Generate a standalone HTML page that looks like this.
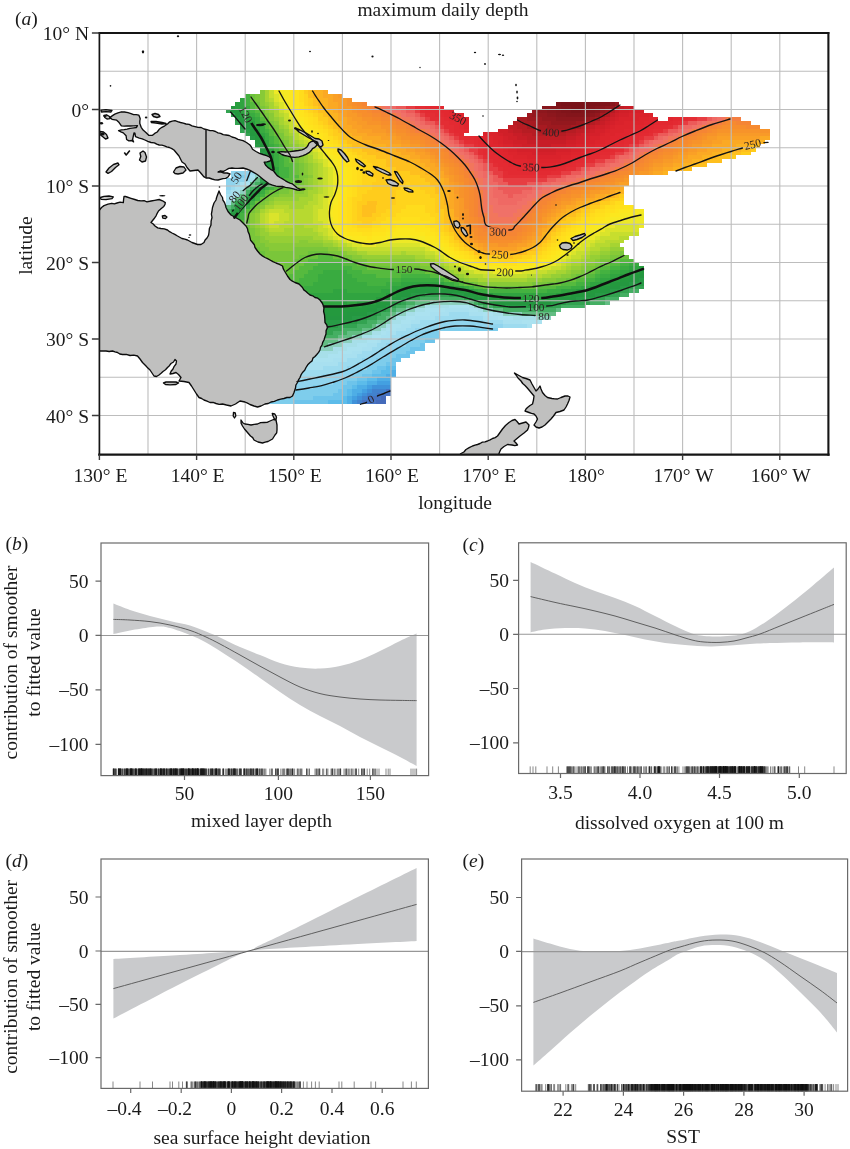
<!DOCTYPE html>
<html lang="en"><head><meta charset="utf-8"><title>maximum daily depth</title>
<style>html,body{margin:0;padding:0;background:#fff}svg{display:block}</style></head>
<body><svg width="850" height="1149" viewBox="0 0 850 1149">
<rect width="850" height="1149" fill="#fff"/>
<g id="map">
<g shape-rendering="crispEdges">
<path fill="#446aba" d="M381.2,396.3h4.96v3.93h-4.96zM376.4,400.2h9.82v3.93h-9.82z"/>
<path fill="#4673c3" d="M386.1,388.7h4.96v3.93h-4.96zM376.4,392.5h14.68v3.93h-14.68zM366.7,396.3h14.68v3.93h-14.68zM361.8,400.2h14.68v3.93h-14.68z"/>
<path fill="#4182ce" d="M371.5,388.7h14.68v3.93h-14.68zM366.7,392.5h9.82v3.93h-9.82zM361.8,396.3h4.96v3.93h-4.96zM356.9,400.2h4.96v3.93h-4.96z"/>
<path fill="#3f91d9" d="M371.5,384.9h19.54v3.93h-19.54zM366.7,388.7h4.96v3.93h-4.96zM361.8,392.5h4.96v3.93h-4.96zM356.9,396.3h4.96v3.93h-4.96zM352.1,400.2h4.96v3.93h-4.96z"/>
<path fill="#43a0e1" d="M376.4,381h14.68v3.93h-14.68zM366.7,384.9h4.96v3.93h-4.96zM361.8,388.7h4.96v3.93h-4.96zM356.9,392.5h4.96v3.93h-4.96zM352.1,396.3h4.96v3.93h-4.96z"/>
<path fill="#4eaee6" d="M390.9,369.6h4.96v3.93h-4.96zM386.1,373.4h9.82v3.93h-9.82zM376.4,377.2h14.68v3.93h-14.68zM366.7,381h9.82v3.93h-9.82zM356.9,384.9h9.82v3.93h-9.82zM352.1,388.7h9.82v3.93h-9.82zM352.1,392.5h4.96v3.93h-4.96zM347.2,396.3h4.96v3.93h-4.96zM347.2,400.2h4.96v3.93h-4.96z"/>
<path fill="#5cbcea" d="M386.1,365.7h9.82v3.93h-9.82zM381.2,369.6h9.82v3.93h-9.82zM371.5,373.4h14.68v3.93h-14.68zM366.7,377.2h9.82v3.93h-9.82zM356.9,381h9.82v3.93h-9.82zM352.1,384.9h4.96v3.93h-4.96zM347.2,388.7h4.96v3.93h-4.96zM347.2,392.5h4.96v3.93h-4.96zM342.4,396.3h4.96v3.93h-4.96zM327.8,400.2h19.54v3.93h-19.54z"/>
<path fill="#6dc4eb" d="M425,338.9h9.82v3.93h-9.82zM420.1,342.8h4.96v3.93h-4.96zM410.4,346.6h14.68v3.93h-14.68zM405.5,350.4h9.82v3.93h-9.82zM395.8,354.2h14.68v3.93h-14.68zM390.9,358.1h9.82v3.93h-9.82zM386.1,361.9h9.82v3.93h-9.82zM376.4,365.7h9.82v3.93h-9.82zM371.5,369.6h9.82v3.93h-9.82zM361.8,373.4h9.82v3.93h-9.82zM356.9,377.2h9.82v3.93h-9.82zM347.2,381h9.82v3.93h-9.82zM342.4,384.9h9.82v3.93h-9.82zM337.5,388.7h9.82v3.93h-9.82zM332.6,392.5h14.68v3.93h-14.68zM313.2,396.3h29.26v3.93h-29.26zM293.8,400.2h34.12v3.93h-34.12z"/>
<path fill="#7ecdec" d="M240.3,174.5h4.96v3.93h-4.96zM439.6,327.5h58.42v3.93h-58.42zM425,331.3h14.68v3.93h-14.68zM415.3,335.1h24.40v3.93h-24.40zM410.4,338.9h14.68v3.93h-14.68zM405.5,342.8h14.68v3.93h-14.68zM395.8,346.6h14.68v3.93h-14.68zM390.9,350.4h14.68v3.93h-14.68zM386.1,354.2h9.82v3.93h-9.82zM376.4,358.1h14.68v3.93h-14.68zM371.5,361.9h14.68v3.93h-14.68zM366.7,365.7h9.82v3.93h-9.82zM356.9,369.6h14.68v3.93h-14.68zM352.1,373.4h9.82v3.93h-9.82zM342.4,377.2h14.68v3.93h-14.68zM332.6,381h14.68v3.93h-14.68zM313.2,384.9h29.26v3.93h-29.26zM293.8,388.7h43.84v3.93h-43.84zM284,392.5h48.70v3.93h-48.70zM274.3,396.3h38.98v3.93h-38.98zM264.6,400.2h29.26v3.93h-29.26z"/>
<path fill="#90d4ee" d="M230.6,170.7h19.54v3.93h-19.54zM230.6,174.5h9.82v3.93h-9.82zM245.2,174.5h4.96v3.93h-4.96zM225.7,178.3h19.54v3.93h-19.54zM225.7,182.1h9.82v3.93h-9.82zM225.7,185.9h4.96v3.93h-4.96zM439.6,319.8h43.84v3.93h-43.84zM429.8,323.6h73.00v3.93h-73.00zM415.3,327.5h24.40v3.93h-24.40zM410.4,331.3h14.68v3.93h-14.68zM400.7,335.1h14.68v3.93h-14.68zM395.8,338.9h14.68v3.93h-14.68zM386.1,342.8h19.54v3.93h-19.54zM381.2,346.6h14.68v3.93h-14.68zM376.4,350.4h14.68v3.93h-14.68zM371.5,354.2h14.68v3.93h-14.68zM361.8,358.1h14.68v3.93h-14.68zM356.9,361.9h14.68v3.93h-14.68zM347.2,365.7h19.54v3.93h-19.54zM337.5,369.6h19.54v3.93h-19.54zM322.9,373.4h29.26v3.93h-29.26zM303.5,377.2h38.98v3.93h-38.98zM284,381h48.70v3.93h-48.70zM284,384.9h29.26v3.93h-29.26zM284,388.7h9.82v3.93h-9.82z"/>
<path fill="#9ddbef" d="M250,166.8h4.96v3.93h-4.96zM250,170.7h4.96v3.93h-4.96zM245.2,178.3h4.96v3.93h-4.96zM235.4,182.1h4.96v3.93h-4.96zM230.6,185.9h4.96v3.93h-4.96zM225.7,189.8h4.96v3.93h-4.96zM449.3,312.2h19.54v3.93h-19.54zM434.7,316h48.70v3.93h-48.70zM420.1,319.8h19.54v3.93h-19.54zM483.3,319.8h19.54v3.93h-19.54zM410.4,323.6h19.54v3.93h-19.54zM502.7,323.6h24.40v3.93h-24.40zM405.5,327.5h9.82v3.93h-9.82zM395.8,331.3h14.68v3.93h-14.68zM390.9,335.1h9.82v3.93h-9.82zM381.2,338.9h14.68v3.93h-14.68zM376.4,342.8h9.82v3.93h-9.82zM371.5,346.6h9.82v3.93h-9.82zM361.8,350.4h14.68v3.93h-14.68zM356.9,354.2h14.68v3.93h-14.68zM347.2,358.1h14.68v3.93h-14.68zM337.5,361.9h19.54v3.93h-19.54zM322.9,365.7h24.40v3.93h-24.40zM298.6,369.6h38.98v3.93h-38.98zM284,373.4h38.98v3.93h-38.98zM284,377.2h19.54v3.93h-19.54z"/>
<path fill="#a8e0f0" d="M250,174.5h4.96v3.93h-4.96zM240.3,182.1h4.96v3.93h-4.96zM235.4,185.9h4.96v3.93h-4.96zM230.6,189.8h4.96v3.93h-4.96zM225.7,193.6h4.96v3.93h-4.96zM444.4,308.4h24.40v3.93h-24.40zM429.8,312.2h19.54v3.93h-19.54zM468.7,312.2h14.68v3.93h-14.68zM415.3,316h19.54v3.93h-19.54zM483.3,316h14.68v3.93h-14.68zM410.4,319.8h9.82v3.93h-9.82zM502.7,319.8h19.54v3.93h-19.54zM400.7,323.6h9.82v3.93h-9.82zM527,323.6h4.96v3.93h-4.96zM395.8,327.5h9.82v3.93h-9.82zM386.1,331.3h9.82v3.93h-9.82zM381.2,335.1h9.82v3.93h-9.82zM376.4,338.9h4.96v3.93h-4.96zM366.7,342.8h9.82v3.93h-9.82zM361.8,346.6h9.82v3.93h-9.82zM352.1,350.4h9.82v3.93h-9.82zM342.4,354.2h14.68v3.93h-14.68zM332.6,358.1h14.68v3.93h-14.68zM303.5,361.9h34.12v3.93h-34.12zM284,365.7h38.98v3.93h-38.98zM284,369.6h14.68v3.93h-14.68z"/>
<path fill="#abe2f0" d="M245.2,182.1h4.96v3.93h-4.96zM230.6,193.6h4.96v3.93h-4.96zM225.7,197.4h4.96v3.93h-4.96zM449.3,304.5h19.54v3.93h-19.54zM425,308.4h19.54v3.93h-19.54zM468.7,308.4h9.82v3.93h-9.82zM415.3,312.2h14.68v3.93h-14.68zM483.3,312.2h9.82v3.93h-9.82zM405.5,316h9.82v3.93h-9.82zM497.9,316h14.68v3.93h-14.68zM400.7,319.8h9.82v3.93h-9.82zM522.2,319.8h19.54v3.93h-19.54zM390.9,323.6h9.82v3.93h-9.82zM386.1,327.5h9.82v3.93h-9.82zM381.2,331.3h4.96v3.93h-4.96zM371.5,335.1h9.82v3.93h-9.82zM366.7,338.9h9.82v3.93h-9.82zM356.9,342.8h9.82v3.93h-9.82zM347.2,346.6h14.68v3.93h-14.68zM337.5,350.4h14.68v3.93h-14.68zM327.8,354.2h14.68v3.93h-14.68zM284,358.1h48.70v3.93h-48.70zM284,361.9h19.54v3.93h-19.54z"/>
<path fill="#a7dfe9" d="M254.9,163h4.96v3.93h-4.96zM254.9,166.8h4.96v3.93h-4.96zM254.9,170.7h4.96v3.93h-4.96zM250,178.3h4.96v3.93h-4.96zM240.3,185.9h4.96v3.93h-4.96zM235.4,189.8h4.96v3.93h-4.96zM235.4,193.6h4.96v3.93h-4.96zM230.6,197.4h4.96v3.93h-4.96zM225.7,201.2h4.96v3.93h-4.96zM425,304.5h24.40v3.93h-24.40zM468.7,304.5h4.96v3.93h-4.96zM415.3,308.4h9.82v3.93h-9.82zM478.4,308.4h4.96v3.93h-4.96zM405.5,312.2h9.82v3.93h-9.82zM493,312.2h9.82v3.93h-9.82zM395.8,316h9.82v3.93h-9.82zM512.5,316h24.40v3.93h-24.40zM390.9,319.8h9.82v3.93h-9.82zM386.1,323.6h4.96v3.93h-4.96zM381.2,327.5h4.96v3.93h-4.96zM371.5,331.3h9.82v3.93h-9.82zM361.8,335.1h9.82v3.93h-9.82zM352.1,338.9h14.68v3.93h-14.68zM342.4,342.8h14.68v3.93h-14.68zM332.6,346.6h14.68v3.93h-14.68zM288.9,350.4h48.70v3.93h-48.70zM284,354.2h43.84v3.93h-43.84z"/>
<path fill="#8cd0be" d="M254.9,174.5h4.96v3.93h-4.96zM240.3,189.8h4.96v3.93h-4.96zM429.8,300.7h38.98v3.93h-38.98zM415.3,304.5h9.82v3.93h-9.82zM473.6,304.5h4.96v3.93h-4.96zM405.5,308.4h9.82v3.93h-9.82zM483.3,308.4h9.82v3.93h-9.82zM395.8,312.2h9.82v3.93h-9.82zM502.7,312.2h19.54v3.93h-19.54zM390.9,316h4.96v3.93h-4.96zM536.8,316h14.68v3.93h-14.68zM386.1,319.8h4.96v3.93h-4.96zM376.4,323.6h9.82v3.93h-9.82zM371.5,327.5h9.82v3.93h-9.82zM361.8,331.3h9.82v3.93h-9.82zM352.1,335.1h9.82v3.93h-9.82zM337.5,338.9h14.68v3.93h-14.68zM293.8,342.8h19.54v3.93h-19.54zM327.8,342.8h14.68v3.93h-14.68zM284,346.6h48.70v3.93h-48.70zM284,350.4h4.96v3.93h-4.96z"/>
<path fill="#63bd83" d="M259.7,166.8h4.96v3.93h-4.96zM259.7,170.7h4.96v3.93h-4.96zM254.9,178.3h4.96v3.93h-4.96zM250,182.1h4.96v3.93h-4.96zM245.2,185.9h4.96v3.93h-4.96zM240.3,193.6h4.96v3.93h-4.96zM235.4,197.4h4.96v3.93h-4.96zM230.6,201.2h4.96v3.93h-4.96zM225.7,205.1h4.96v3.93h-4.96zM415.3,300.7h14.68v3.93h-14.68zM468.7,300.7h4.96v3.93h-4.96zM604.8,300.7h4.96v3.93h-4.96zM405.5,304.5h9.82v3.93h-9.82zM478.4,304.5h4.96v3.93h-4.96zM395.8,308.4h9.82v3.93h-9.82zM493,308.4h9.82v3.93h-9.82zM556.2,308.4h4.96v3.93h-4.96zM390.9,312.2h4.96v3.93h-4.96zM522.2,312.2h34.12v3.93h-34.12zM386.1,316h4.96v3.93h-4.96zM376.4,319.8h9.82v3.93h-9.82zM371.5,323.6h4.96v3.93h-4.96zM361.8,327.5h9.82v3.93h-9.82zM347.2,331.3h14.68v3.93h-14.68zM298.6,335.1h9.82v3.93h-9.82zM337.5,335.1h14.68v3.93h-14.68zM284,338.9h53.56v3.93h-53.56zM284,342.8h9.82v3.93h-9.82zM313.2,342.8h14.68v3.93h-14.68z"/>
<path fill="#45af63" d="M259.7,159.2h4.96v3.93h-4.96zM259.7,163h4.96v3.93h-4.96zM259.7,174.5h4.96v3.93h-4.96zM254.9,182.1h4.96v3.93h-4.96zM250,185.9h4.96v3.93h-4.96zM245.2,189.8h4.96v3.93h-4.96zM240.3,197.4h4.96v3.93h-4.96zM230.6,205.1h4.96v3.93h-4.96zM225.7,208.9h4.96v3.93h-4.96zM629.1,289.2h9.82v3.93h-9.82zM619.4,293.1h9.82v3.93h-9.82zM420.1,296.9h43.84v3.93h-43.84zM604.8,296.9h14.68v3.93h-14.68zM405.5,300.7h9.82v3.93h-9.82zM473.6,300.7h4.96v3.93h-4.96zM590.2,300.7h14.68v3.93h-14.68zM395.8,304.5h9.82v3.93h-9.82zM483.3,304.5h9.82v3.93h-9.82zM561.1,304.5h24.40v3.93h-24.40zM390.9,308.4h4.96v3.93h-4.96zM502.7,308.4h53.56v3.93h-53.56zM381.2,312.2h9.82v3.93h-9.82zM376.4,316h9.82v3.93h-9.82zM366.7,319.8h9.82v3.93h-9.82zM356.9,323.6h14.68v3.93h-14.68zM298.6,327.5h14.68v3.93h-14.68zM342.4,327.5h19.54v3.93h-19.54zM284,331.3h38.98v3.93h-38.98zM332.6,331.3h14.68v3.93h-14.68zM284,335.1h14.68v3.93h-14.68zM308.3,335.1h29.26v3.93h-29.26z"/>
<path fill="#33a351" d="M225.7,109.5h4.96v3.93h-4.96zM230.6,113.3h4.96v3.93h-4.96zM235.4,120.9h4.96v3.93h-4.96zM240.3,128.6h4.96v3.93h-4.96zM245.2,132.4h4.96v3.93h-4.96zM259.7,155.3h4.96v3.93h-4.96zM259.7,178.3h4.96v3.93h-4.96zM245.2,193.6h4.96v3.93h-4.96zM235.4,201.2h4.96v3.93h-4.96zM225.7,212.7h4.96v3.93h-4.96zM629.1,285.4h14.68v3.93h-14.68zM619.4,289.2h9.82v3.93h-9.82zM425,293.1h24.40v3.93h-24.40zM609.7,293.1h9.82v3.93h-9.82zM410.4,296.9h9.82v3.93h-9.82zM463.8,296.9h4.96v3.93h-4.96zM595.1,296.9h9.82v3.93h-9.82zM400.7,300.7h4.96v3.93h-4.96zM478.4,300.7h4.96v3.93h-4.96zM565.9,300.7h24.40v3.93h-24.40zM390.9,304.5h4.96v3.93h-4.96zM493,304.5h9.82v3.93h-9.82zM546.5,304.5h14.68v3.93h-14.68zM386.1,308.4h4.96v3.93h-4.96zM376.4,312.2h4.96v3.93h-4.96zM366.7,316h9.82v3.93h-9.82zM303.5,319.8h9.82v3.93h-9.82zM356.9,319.8h9.82v3.93h-9.82zM288.9,323.6h34.12v3.93h-34.12zM337.5,323.6h19.54v3.93h-19.54zM284,327.5h14.68v3.93h-14.68zM313.2,327.5h29.26v3.93h-29.26zM322.9,331.3h9.82v3.93h-9.82z"/>
<path fill="#289b46" d="M235.4,117.1h4.96v3.93h-4.96zM240.3,124.8h4.96v3.93h-4.96zM245.2,128.6h4.96v3.93h-4.96zM250,136.2h4.96v3.93h-4.96zM254.9,143.9h4.96v3.93h-4.96zM259.7,151.5h4.96v3.93h-4.96zM264.6,163h4.96v3.93h-4.96zM264.6,166.8h4.96v3.93h-4.96zM264.6,170.7h4.96v3.93h-4.96zM264.6,174.5h4.96v3.93h-4.96zM259.7,182.1h4.96v3.93h-4.96zM254.9,185.9h4.96v3.93h-4.96zM250,189.8h4.96v3.93h-4.96zM230.6,208.9h4.96v3.93h-4.96zM638.8,277.8h4.96v3.93h-4.96zM629.1,281.6h14.68v3.93h-14.68zM619.4,285.4h9.82v3.93h-9.82zM609.7,289.2h9.82v3.93h-9.82zM410.4,293.1h14.68v3.93h-14.68zM449.3,293.1h14.68v3.93h-14.68zM595.1,293.1h14.68v3.93h-14.68zM400.7,296.9h9.82v3.93h-9.82zM468.7,296.9h4.96v3.93h-4.96zM575.6,296.9h19.54v3.93h-19.54zM390.9,300.7h9.82v3.93h-9.82zM483.3,300.7h9.82v3.93h-9.82zM551.3,300.7h14.68v3.93h-14.68zM386.1,304.5h4.96v3.93h-4.96zM502.7,304.5h43.84v3.93h-43.84zM376.4,308.4h9.82v3.93h-9.82zM366.7,312.2h9.82v3.93h-9.82zM298.6,316h24.40v3.93h-24.40zM352.1,316h14.68v3.93h-14.68zM284,319.8h19.54v3.93h-19.54zM313.2,319.8h43.84v3.93h-43.84zM284,323.6h4.96v3.93h-4.96zM322.9,323.6h14.68v3.93h-14.68z"/>
<path fill="#249740" d="M230.6,105.6h4.96v3.93h-4.96zM230.6,109.5h4.96v3.93h-4.96zM235.4,113.3h4.96v3.93h-4.96zM240.3,120.9h4.96v3.93h-4.96zM245.2,124.8h4.96v3.93h-4.96zM250,132.4h4.96v3.93h-4.96zM254.9,140.1h4.96v3.93h-4.96zM259.7,147.7h4.96v3.93h-4.96zM264.6,155.3h4.96v3.93h-4.96zM264.6,159.2h4.96v3.93h-4.96zM264.6,178.3h4.96v3.93h-4.96zM245.2,197.4h4.96v3.93h-4.96zM240.3,201.2h4.96v3.93h-4.96zM235.4,205.1h4.96v3.93h-4.96zM230.6,212.7h4.96v3.93h-4.96zM638.8,273.9h4.96v3.93h-4.96zM629.1,277.8h9.82v3.93h-9.82zM619.4,281.6h9.82v3.93h-9.82zM609.7,285.4h9.82v3.93h-9.82zM415.3,289.2h38.98v3.93h-38.98zM599.9,289.2h9.82v3.93h-9.82zM400.7,293.1h9.82v3.93h-9.82zM463.8,293.1h4.96v3.93h-4.96zM585.4,293.1h9.82v3.93h-9.82zM395.8,296.9h4.96v3.93h-4.96zM473.6,296.9h14.68v3.93h-14.68zM561.1,296.9h14.68v3.93h-14.68zM386.1,300.7h4.96v3.93h-4.96zM493,300.7h58.42v3.93h-58.42zM376.4,304.5h9.82v3.93h-9.82zM303.5,308.4h14.68v3.93h-14.68zM366.7,308.4h9.82v3.93h-9.82zM293.8,312.2h34.12v3.93h-34.12zM347.2,312.2h19.54v3.93h-19.54zM284,316h14.68v3.93h-14.68zM322.9,316h29.26v3.93h-29.26z"/>
<path fill="#24993e" d="M235.4,109.5h4.96v3.93h-4.96zM240.3,117.1h4.96v3.93h-4.96zM245.2,120.9h4.96v3.93h-4.96zM250,128.6h4.96v3.93h-4.96zM254.9,132.4h4.96v3.93h-4.96zM254.9,136.2h4.96v3.93h-4.96zM259.7,143.9h4.96v3.93h-4.96zM264.6,151.5h4.96v3.93h-4.96zM269.4,166.8h4.96v3.93h-4.96zM269.4,170.7h4.96v3.93h-4.96zM250,193.6h4.96v3.93h-4.96zM235.4,208.9h4.96v3.93h-4.96zM638.8,270.1h4.96v3.93h-4.96zM629.1,273.9h9.82v3.93h-9.82zM619.4,277.8h9.82v3.93h-9.82zM609.7,281.6h9.82v3.93h-9.82zM420.1,285.4h19.54v3.93h-19.54zM599.9,285.4h9.82v3.93h-9.82zM400.7,289.2h14.68v3.93h-14.68zM454.1,289.2h9.82v3.93h-9.82zM590.2,289.2h9.82v3.93h-9.82zM395.8,293.1h4.96v3.93h-4.96zM468.7,293.1h9.82v3.93h-9.82zM570.8,293.1h14.68v3.93h-14.68zM386.1,296.9h9.82v3.93h-9.82zM488.2,296.9h19.54v3.93h-19.54zM546.5,296.9h14.68v3.93h-14.68zM376.4,300.7h9.82v3.93h-9.82zM303.5,304.5h14.68v3.93h-14.68zM361.8,304.5h14.68v3.93h-14.68zM284,308.4h19.54v3.93h-19.54zM318.1,308.4h48.70v3.93h-48.70zM284,312.2h9.82v3.93h-9.82zM327.8,312.2h19.54v3.93h-19.54z"/>
<path fill="#289e3e" d="M235.4,101.8h4.96v3.93h-4.96zM235.4,105.6h4.96v3.93h-4.96zM240.3,113.3h4.96v3.93h-4.96zM245.2,117.1h4.96v3.93h-4.96zM250,120.9h4.96v3.93h-4.96zM250,124.8h4.96v3.93h-4.96zM254.9,128.6h4.96v3.93h-4.96zM259.7,136.2h4.96v3.93h-4.96zM259.7,140.1h4.96v3.93h-4.96zM264.6,147.7h4.96v3.93h-4.96zM269.4,155.3h4.96v3.93h-4.96zM269.4,159.2h4.96v3.93h-4.96zM269.4,163h4.96v3.93h-4.96zM269.4,174.5h4.96v3.93h-4.96zM264.6,182.1h4.96v3.93h-4.96zM259.7,185.9h4.96v3.93h-4.96zM254.9,189.8h4.96v3.93h-4.96zM245.2,201.2h4.96v3.93h-4.96zM240.3,205.1h4.96v3.93h-4.96zM230.6,216.6h4.96v3.93h-4.96zM638.8,266.3h4.96v3.93h-4.96zM629.1,270.1h9.82v3.93h-9.82zM619.4,273.9h9.82v3.93h-9.82zM609.7,277.8h9.82v3.93h-9.82zM599.9,281.6h9.82v3.93h-9.82zM405.5,285.4h14.68v3.93h-14.68zM439.6,285.4h14.68v3.93h-14.68zM590.2,285.4h9.82v3.93h-9.82zM395.8,289.2h4.96v3.93h-4.96zM463.8,289.2h9.82v3.93h-9.82zM575.6,289.2h14.68v3.93h-14.68zM386.1,293.1h9.82v3.93h-9.82zM478.4,293.1h14.68v3.93h-14.68zM556.2,293.1h14.68v3.93h-14.68zM376.4,296.9h9.82v3.93h-9.82zM507.6,296.9h38.98v3.93h-38.98zM298.6,300.7h24.40v3.93h-24.40zM342.4,300.7h4.96v3.93h-4.96zM356.9,300.7h19.54v3.93h-19.54zM284,304.5h19.54v3.93h-19.54zM318.1,304.5h43.84v3.93h-43.84z"/>
<path fill="#30a440" d="M240.3,98h4.96v3.93h-4.96zM240.3,101.8h4.96v3.93h-4.96zM240.3,105.6h4.96v3.93h-4.96zM240.3,109.5h4.96v3.93h-4.96zM245.2,113.3h4.96v3.93h-4.96zM250,117.1h4.96v3.93h-4.96zM254.9,124.8h4.96v3.93h-4.96zM259.7,132.4h4.96v3.93h-4.96zM264.6,140.1h4.96v3.93h-4.96zM264.6,143.9h4.96v3.93h-4.96zM269.4,147.7h4.96v3.93h-4.96zM269.4,151.5h4.96v3.93h-4.96zM274.3,166.8h4.96v3.93h-4.96zM274.3,170.7h4.96v3.93h-4.96zM269.4,178.3h4.96v3.93h-4.96zM250,197.4h4.96v3.93h-4.96zM235.4,212.7h4.96v3.93h-4.96zM629.1,266.3h9.82v3.93h-9.82zM619.4,270.1h9.82v3.93h-9.82zM609.7,273.9h9.82v3.93h-9.82zM599.9,277.8h9.82v3.93h-9.82zM400.7,281.6h43.84v3.93h-43.84zM590.2,281.6h9.82v3.93h-9.82zM390.9,285.4h14.68v3.93h-14.68zM454.1,285.4h9.82v3.93h-9.82zM580.5,285.4h9.82v3.93h-9.82zM332.6,289.2h14.68v3.93h-14.68zM381.2,289.2h14.68v3.93h-14.68zM473.6,289.2h4.96v3.93h-4.96zM561.1,289.2h14.68v3.93h-14.68zM303.5,293.1h82.72v3.93h-82.72zM493,293.1h63.28v3.93h-63.28zM288.9,296.9h87.58v3.93h-87.58zM284,300.7h14.68v3.93h-14.68zM322.9,300.7h19.54v3.93h-19.54zM347.2,300.7h9.82v3.93h-9.82z"/>
<path fill="#39ab40" d="M245.2,105.6h4.96v3.93h-4.96zM245.2,109.5h4.96v3.93h-4.96zM250,113.3h4.96v3.93h-4.96zM254.9,117.1h4.96v3.93h-4.96zM254.9,120.9h4.96v3.93h-4.96zM259.7,124.8h4.96v3.93h-4.96zM259.7,128.6h4.96v3.93h-4.96zM264.6,132.4h4.96v3.93h-4.96zM264.6,136.2h4.96v3.93h-4.96zM269.4,143.9h4.96v3.93h-4.96zM274.3,151.5h4.96v3.93h-4.96zM274.3,155.3h4.96v3.93h-4.96zM274.3,159.2h4.96v3.93h-4.96zM274.3,163h4.96v3.93h-4.96zM274.3,174.5h4.96v3.93h-4.96zM274.3,178.3h4.96v3.93h-4.96zM269.4,182.1h4.96v3.93h-4.96zM264.6,185.9h4.96v3.93h-4.96zM259.7,189.8h4.96v3.93h-4.96zM254.9,193.6h4.96v3.93h-4.96zM245.2,205.1h4.96v3.93h-4.96zM240.3,208.9h4.96v3.93h-4.96zM235.4,216.6h4.96v3.93h-4.96zM235.4,220.4h4.96v3.93h-4.96zM235.4,224.2h4.96v3.93h-4.96zM629.1,262.4h9.82v3.93h-9.82zM619.4,266.3h9.82v3.93h-9.82zM322.9,270.1h24.40v3.93h-24.40zM609.7,270.1h9.82v3.93h-9.82zM318.1,273.9h34.12v3.93h-34.12zM599.9,273.9h9.82v3.93h-9.82zM318.1,277.8h38.98v3.93h-38.98zM400.7,277.8h38.98v3.93h-38.98zM595.1,277.8h4.96v3.93h-4.96zM313.2,281.6h53.56v3.93h-53.56zM386.1,281.6h14.68v3.93h-14.68zM444.4,281.6h9.82v3.93h-9.82zM585.4,281.6h4.96v3.93h-4.96zM303.5,285.4h87.58v3.93h-87.58zM463.8,285.4h4.96v3.93h-4.96zM570.8,285.4h9.82v3.93h-9.82zM298.6,289.2h34.12v3.93h-34.12zM347.2,289.2h34.12v3.93h-34.12zM478.4,289.2h9.82v3.93h-9.82zM546.5,289.2h14.68v3.93h-14.68zM284,293.1h19.54v3.93h-19.54zM284,296.9h4.96v3.93h-4.96z"/>
<path fill="#44b240" d="M245.2,94.2h4.96v3.93h-4.96zM245.2,98h4.96v3.93h-4.96zM245.2,101.8h4.96v3.93h-4.96zM250,109.5h4.96v3.93h-4.96zM254.9,113.3h4.96v3.93h-4.96zM259.7,120.9h4.96v3.93h-4.96zM264.6,128.6h4.96v3.93h-4.96zM269.4,136.2h4.96v3.93h-4.96zM269.4,140.1h4.96v3.93h-4.96zM274.3,143.9h4.96v3.93h-4.96zM274.3,147.7h4.96v3.93h-4.96zM279.2,155.3h4.96v3.93h-4.96zM279.2,159.2h4.96v3.93h-4.96zM279.2,163h4.96v3.93h-4.96zM279.2,166.8h9.82v3.93h-9.82zM279.2,170.7h9.82v3.93h-9.82zM279.2,174.5h9.82v3.93h-9.82zM279.2,178.3h4.96v3.93h-4.96zM274.3,182.1h4.96v3.93h-4.96zM269.4,185.9h4.96v3.93h-4.96zM259.7,193.6h4.96v3.93h-4.96zM254.9,197.4h4.96v3.93h-4.96zM250,201.2h4.96v3.93h-4.96zM240.3,212.7h4.96v3.93h-4.96zM240.3,216.6h4.96v3.93h-4.96zM318.1,262.4h24.40v3.93h-24.40zM619.4,262.4h9.82v3.93h-9.82zM313.2,266.3h38.98v3.93h-38.98zM609.7,266.3h9.82v3.93h-9.82zM308.3,270.1h14.68v3.93h-14.68zM347.2,270.1h14.68v3.93h-14.68zM599.9,270.1h9.82v3.93h-9.82zM303.5,273.9h14.68v3.93h-14.68zM352.1,273.9h24.40v3.93h-24.40zM400.7,273.9h29.26v3.93h-29.26zM595.1,273.9h4.96v3.93h-4.96zM298.6,277.8h19.54v3.93h-19.54zM356.9,277.8h43.84v3.93h-43.84zM439.6,277.8h4.96v3.93h-4.96zM585.4,277.8h9.82v3.93h-9.82zM293.8,281.6h19.54v3.93h-19.54zM366.7,281.6h19.54v3.93h-19.54zM454.1,281.6h4.96v3.93h-4.96zM575.6,281.6h9.82v3.93h-9.82zM274.3,285.4h29.26v3.93h-29.26zM468.7,285.4h4.96v3.93h-4.96zM556.2,285.4h14.68v3.93h-14.68zM279.2,289.2h19.54v3.93h-19.54zM488.2,289.2h58.42v3.93h-58.42z"/>
<path fill="#56ba3e" d="M250,101.8h4.96v3.93h-4.96zM250,105.6h4.96v3.93h-4.96zM254.9,109.5h4.96v3.93h-4.96zM259.7,117.1h4.96v3.93h-4.96zM264.6,120.9h4.96v3.93h-4.96zM264.6,124.8h4.96v3.93h-4.96zM269.4,128.6h4.96v3.93h-4.96zM269.4,132.4h4.96v3.93h-4.96zM274.3,136.2h4.96v3.93h-4.96zM274.3,140.1h4.96v3.93h-4.96zM279.2,143.9h4.96v3.93h-4.96zM279.2,147.7h4.96v3.93h-4.96zM279.2,151.5h4.96v3.93h-4.96zM284,155.3h4.96v3.93h-4.96zM284,159.2h4.96v3.93h-4.96zM284,163h9.82v3.93h-9.82zM288.9,166.8h4.96v3.93h-4.96zM288.9,170.7h4.96v3.93h-4.96zM288.9,174.5h9.82v3.93h-9.82zM284,178.3h9.82v3.93h-9.82zM279.2,182.1h9.82v3.93h-9.82zM274.3,185.9h4.96v3.93h-4.96zM264.6,189.8h4.96v3.93h-4.96zM250,205.1h4.96v3.93h-4.96zM245.2,208.9h4.96v3.93h-4.96zM240.3,220.4h4.96v3.93h-4.96zM240.3,224.2h4.96v3.93h-4.96zM240.3,228h4.96v3.93h-4.96zM240.3,231.8h4.96v3.93h-4.96zM245.2,239.5h4.96v3.93h-4.96zM318.1,254.8h14.68v3.93h-14.68zM308.3,258.6h38.98v3.93h-38.98zM619.4,258.6h14.68v3.93h-14.68zM259.7,262.4h4.96v3.93h-4.96zM303.5,262.4h14.68v3.93h-14.68zM342.4,262.4h14.68v3.93h-14.68zM609.7,262.4h9.82v3.93h-9.82zM298.6,266.3h14.68v3.93h-14.68zM352.1,266.3h14.68v3.93h-14.68zM599.9,266.3h9.82v3.93h-9.82zM264.6,270.1h4.96v3.93h-4.96zM293.8,270.1h14.68v3.93h-14.68zM361.8,270.1h63.28v3.93h-63.28zM595.1,270.1h4.96v3.93h-4.96zM269.4,273.9h9.82v3.93h-9.82zM288.9,273.9h14.68v3.93h-14.68zM376.4,273.9h24.40v3.93h-24.40zM429.8,273.9h9.82v3.93h-9.82zM585.4,273.9h9.82v3.93h-9.82zM269.4,277.8h29.26v3.93h-29.26zM444.4,277.8h4.96v3.93h-4.96zM575.6,277.8h9.82v3.93h-9.82zM274.3,281.6h19.54v3.93h-19.54zM459,281.6h4.96v3.93h-4.96zM561.1,281.6h14.68v3.93h-14.68zM473.6,285.4h9.82v3.93h-9.82zM536.8,285.4h19.54v3.93h-19.54z"/>
<path fill="#6cc23c" d="M250,94.2h4.96v3.93h-4.96zM250,98h4.96v3.93h-4.96zM254.9,101.8h4.96v3.93h-4.96zM254.9,105.6h4.96v3.93h-4.96zM259.7,109.5h4.96v3.93h-4.96zM259.7,113.3h4.96v3.93h-4.96zM264.6,117.1h4.96v3.93h-4.96zM269.4,124.8h4.96v3.93h-4.96zM274.3,132.4h4.96v3.93h-4.96zM279.2,140.1h4.96v3.93h-4.96zM284,147.7h4.96v3.93h-4.96zM284,151.5h9.82v3.93h-9.82zM288.9,155.3h4.96v3.93h-4.96zM288.9,159.2h4.96v3.93h-4.96zM293.8,163h4.96v3.93h-4.96zM293.8,166.8h4.96v3.93h-4.96zM293.8,170.7h4.96v3.93h-4.96zM293.8,178.3h4.96v3.93h-4.96zM288.9,182.1h9.82v3.93h-9.82zM279.2,185.9h9.82v3.93h-9.82zM269.4,189.8h9.82v3.93h-9.82zM264.6,193.6h4.96v3.93h-4.96zM259.7,197.4h4.96v3.93h-4.96zM254.9,201.2h4.96v3.93h-4.96zM245.2,212.7h4.96v3.93h-4.96zM245.2,216.6h4.96v3.93h-4.96zM245.2,220.4h4.96v3.93h-4.96zM245.2,224.2h4.96v3.93h-4.96zM245.2,228h4.96v3.93h-4.96zM245.2,231.8h4.96v3.93h-4.96zM245.2,235.7h4.96v3.93h-4.96zM250,239.5h4.96v3.93h-4.96zM250,243.3h4.96v3.93h-4.96zM250,247.2h9.82v3.93h-9.82zM254.9,251h9.82v3.93h-9.82zM308.3,251h19.54v3.93h-19.54zM254.9,254.8h9.82v3.93h-9.82zM298.6,254.8h19.54v3.93h-19.54zM332.6,254.8h9.82v3.93h-9.82zM619.4,254.8h9.82v3.93h-9.82zM259.7,258.6h9.82v3.93h-9.82zM293.8,258.6h14.68v3.93h-14.68zM347.2,258.6h4.96v3.93h-4.96zM609.7,258.6h9.82v3.93h-9.82zM264.6,262.4h14.68v3.93h-14.68zM284,262.4h19.54v3.93h-19.54zM356.9,262.4h9.82v3.93h-9.82zM599.9,262.4h9.82v3.93h-9.82zM264.6,266.3h34.12v3.93h-34.12zM366.7,266.3h53.56v3.93h-53.56zM595.1,266.3h4.96v3.93h-4.96zM269.4,270.1h24.40v3.93h-24.40zM425,270.1h14.68v3.93h-14.68zM585.4,270.1h9.82v3.93h-9.82zM279.2,273.9h9.82v3.93h-9.82zM439.6,273.9h9.82v3.93h-9.82zM575.6,273.9h9.82v3.93h-9.82zM449.3,277.8h9.82v3.93h-9.82zM565.9,277.8h9.82v3.93h-9.82zM463.8,281.6h9.82v3.93h-9.82zM546.5,281.6h14.68v3.93h-14.68zM483.3,285.4h53.56v3.93h-53.56z"/>
<path fill="#7ac63a" d="M254.9,94.2h4.96v3.93h-4.96zM254.9,98h4.96v3.93h-4.96zM259.7,105.6h4.96v3.93h-4.96zM264.6,113.3h4.96v3.93h-4.96zM269.4,120.9h4.96v3.93h-4.96zM274.3,124.8h4.96v3.93h-4.96zM274.3,128.6h4.96v3.93h-4.96zM279.2,132.4h4.96v3.93h-4.96zM279.2,136.2h4.96v3.93h-4.96zM284,140.1h4.96v3.93h-4.96zM284,143.9h4.96v3.93h-4.96zM288.9,147.7h4.96v3.93h-4.96zM293.8,155.3h4.96v3.93h-4.96zM293.8,159.2h4.96v3.93h-4.96zM298.6,163h4.96v3.93h-4.96zM298.6,166.8h4.96v3.93h-4.96zM298.6,170.7h4.96v3.93h-4.96zM298.6,174.5h9.82v3.93h-9.82zM298.6,178.3h4.96v3.93h-4.96zM298.6,182.1h4.96v3.93h-4.96zM288.9,185.9h9.82v3.93h-9.82zM279.2,189.8h9.82v3.93h-9.82zM269.4,193.6h9.82v3.93h-9.82zM264.6,197.4h4.96v3.93h-4.96zM259.7,201.2h4.96v3.93h-4.96zM254.9,205.1h4.96v3.93h-4.96zM250,208.9h4.96v3.93h-4.96zM250,228h4.96v3.93h-4.96zM250,231.8h4.96v3.93h-4.96zM250,235.7h9.82v3.93h-9.82zM254.9,239.5h4.96v3.93h-4.96zM254.9,243.3h9.82v3.93h-9.82zM259.7,247.2h9.82v3.93h-9.82zM293.8,247.2h34.12v3.93h-34.12zM264.6,251h43.84v3.93h-43.84zM327.8,251h14.68v3.93h-14.68zM619.4,251h4.96v3.93h-4.96zM264.6,254.8h34.12v3.93h-34.12zM342.4,254.8h9.82v3.93h-9.82zM609.7,254.8h9.82v3.93h-9.82zM269.4,258.6h24.40v3.93h-24.40zM352.1,258.6h14.68v3.93h-14.68zM599.9,258.6h9.82v3.93h-9.82zM279.2,262.4h4.96v3.93h-4.96zM366.7,262.4h53.56v3.93h-53.56zM595.1,262.4h4.96v3.93h-4.96zM420.1,266.3h14.68v3.93h-14.68zM585.4,266.3h9.82v3.93h-9.82zM439.6,270.1h4.96v3.93h-4.96zM580.5,270.1h4.96v3.93h-4.96zM449.3,273.9h4.96v3.93h-4.96zM570.8,273.9h4.96v3.93h-4.96zM459,277.8h4.96v3.93h-4.96zM556.2,277.8h9.82v3.93h-9.82zM473.6,281.6h4.96v3.93h-4.96zM531.9,281.6h14.68v3.93h-14.68z"/>
<path fill="#88ca37" d="M259.7,90.3h4.96v3.93h-4.96zM259.7,94.2h4.96v3.93h-4.96zM259.7,98h4.96v3.93h-4.96zM259.7,101.8h4.96v3.93h-4.96zM264.6,105.6h4.96v3.93h-4.96zM264.6,109.5h4.96v3.93h-4.96zM269.4,113.3h4.96v3.93h-4.96zM269.4,117.1h4.96v3.93h-4.96zM274.3,120.9h4.96v3.93h-4.96zM279.2,128.6h4.96v3.93h-4.96zM284,136.2h4.96v3.93h-4.96zM288.9,143.9h4.96v3.93h-4.96zM293.8,147.7h4.96v3.93h-4.96zM293.8,151.5h4.96v3.93h-4.96zM298.6,155.3h4.96v3.93h-4.96zM298.6,159.2h4.96v3.93h-4.96zM303.5,163h4.96v3.93h-4.96zM303.5,166.8h4.96v3.93h-4.96zM303.5,170.7h4.96v3.93h-4.96zM308.3,174.5h4.96v3.93h-4.96zM303.5,178.3h4.96v3.93h-4.96zM303.5,182.1h4.96v3.93h-4.96zM298.6,185.9h9.82v3.93h-9.82zM288.9,189.8h14.68v3.93h-14.68zM279.2,193.6h14.68v3.93h-14.68zM269.4,197.4h4.96v3.93h-4.96zM264.6,201.2h4.96v3.93h-4.96zM259.7,205.1h4.96v3.93h-4.96zM254.9,208.9h4.96v3.93h-4.96zM250,212.7h4.96v3.93h-4.96zM250,216.6h4.96v3.93h-4.96zM250,220.4h4.96v3.93h-4.96zM250,224.2h4.96v3.93h-4.96zM254.9,228h4.96v3.93h-4.96zM254.9,231.8h4.96v3.93h-4.96zM259.7,235.7h4.96v3.93h-4.96zM259.7,239.5h9.82v3.93h-9.82zM298.6,239.5h9.82v3.93h-9.82zM264.6,243.3h58.42v3.93h-58.42zM269.4,247.2h24.40v3.93h-24.40zM327.8,247.2h9.82v3.93h-9.82zM342.4,251h4.96v3.93h-4.96zM609.7,251h9.82v3.93h-9.82zM352.1,254.8h9.82v3.93h-9.82zM599.9,254.8h9.82v3.93h-9.82zM366.7,258.6h48.70v3.93h-48.70zM595.1,258.6h4.96v3.93h-4.96zM420.1,262.4h9.82v3.93h-9.82zM585.4,262.4h9.82v3.93h-9.82zM434.7,266.3h4.96v3.93h-4.96zM580.5,266.3h4.96v3.93h-4.96zM444.4,270.1h4.96v3.93h-4.96zM570.8,270.1h9.82v3.93h-9.82zM454.1,273.9h4.96v3.93h-4.96zM561.1,273.9h9.82v3.93h-9.82zM463.8,277.8h4.96v3.93h-4.96zM541.6,277.8h14.68v3.93h-14.68zM478.4,281.6h53.56v3.93h-53.56z"/>
<path fill="#96cf35" d="M264.6,101.8h4.96v3.93h-4.96zM269.4,109.5h4.96v3.93h-4.96zM274.3,117.1h4.96v3.93h-4.96zM279.2,124.8h4.96v3.93h-4.96zM284,128.6h4.96v3.93h-4.96zM284,132.4h4.96v3.93h-4.96zM288.9,136.2h4.96v3.93h-4.96zM288.9,140.1h4.96v3.93h-4.96zM293.8,143.9h4.96v3.93h-4.96zM298.6,147.7h4.96v3.93h-4.96zM298.6,151.5h4.96v3.93h-4.96zM303.5,155.3h4.96v3.93h-4.96zM303.5,159.2h4.96v3.93h-4.96zM308.3,163h4.96v3.93h-4.96zM308.3,166.8h4.96v3.93h-4.96zM308.3,170.7h4.96v3.93h-4.96zM308.3,178.3h4.96v3.93h-4.96zM308.3,182.1h4.96v3.93h-4.96zM308.3,185.9h4.96v3.93h-4.96zM303.5,189.8h4.96v3.93h-4.96zM293.8,193.6h14.68v3.93h-14.68zM274.3,197.4h24.40v3.93h-24.40zM269.4,201.2h4.96v3.93h-4.96zM254.9,212.7h4.96v3.93h-4.96zM254.9,216.6h4.96v3.93h-4.96zM254.9,220.4h4.96v3.93h-4.96zM254.9,224.2h4.96v3.93h-4.96zM259.7,228h4.96v3.93h-4.96zM259.7,231.8h9.82v3.93h-9.82zM264.6,235.7h48.70v3.93h-48.70zM269.4,239.5h29.26v3.93h-29.26zM308.3,239.5h14.68v3.93h-14.68zM322.9,243.3h9.82v3.93h-9.82zM337.5,247.2h4.96v3.93h-4.96zM609.7,247.2h14.68v3.93h-14.68zM347.2,251h9.82v3.93h-9.82zM599.9,251h9.82v3.93h-9.82zM361.8,254.8h53.56v3.93h-53.56zM590.2,254.8h9.82v3.93h-9.82zM415.3,258.6h14.68v3.93h-14.68zM585.4,258.6h9.82v3.93h-9.82zM429.8,262.4h9.82v3.93h-9.82zM580.5,262.4h4.96v3.93h-4.96zM439.6,266.3h4.96v3.93h-4.96zM570.8,266.3h9.82v3.93h-9.82zM449.3,270.1h4.96v3.93h-4.96zM565.9,270.1h4.96v3.93h-4.96zM459,273.9h4.96v3.93h-4.96zM551.3,273.9h9.82v3.93h-9.82zM468.7,277.8h9.82v3.93h-9.82zM527,277.8h14.68v3.93h-14.68z"/>
<path fill="#a6d432" d="M264.6,90.3h4.96v3.93h-4.96zM264.6,94.2h4.96v3.93h-4.96zM264.6,98h4.96v3.93h-4.96zM269.4,101.8h4.96v3.93h-4.96zM269.4,105.6h4.96v3.93h-4.96zM274.3,109.5h4.96v3.93h-4.96zM274.3,113.3h4.96v3.93h-4.96zM279.2,117.1h4.96v3.93h-4.96zM279.2,120.9h4.96v3.93h-4.96zM284,124.8h4.96v3.93h-4.96zM288.9,132.4h4.96v3.93h-4.96zM293.8,140.1h4.96v3.93h-4.96zM298.6,143.9h4.96v3.93h-4.96zM303.5,151.5h4.96v3.93h-4.96zM308.3,155.3h4.96v3.93h-4.96zM308.3,159.2h4.96v3.93h-4.96zM313.2,163h4.96v3.93h-4.96zM313.2,166.8h4.96v3.93h-4.96zM313.2,170.7h4.96v3.93h-4.96zM313.2,174.5h4.96v3.93h-4.96zM313.2,178.3h4.96v3.93h-4.96zM313.2,182.1h4.96v3.93h-4.96zM313.2,185.9h4.96v3.93h-4.96zM308.3,189.8h9.82v3.93h-9.82zM308.3,193.6h4.96v3.93h-4.96zM298.6,197.4h14.68v3.93h-14.68zM274.3,201.2h34.12v3.93h-34.12zM264.6,205.1h9.82v3.93h-9.82zM288.9,205.1h14.68v3.93h-14.68zM259.7,208.9h4.96v3.93h-4.96zM259.7,224.2h4.96v3.93h-4.96zM293.8,224.2h9.82v3.93h-9.82zM264.6,228h4.96v3.93h-4.96zM284,228h29.26v3.93h-29.26zM269.4,231.8h48.70v3.93h-48.70zM313.2,235.7h9.82v3.93h-9.82zM322.9,239.5h9.82v3.93h-9.82zM332.6,243.3h4.96v3.93h-4.96zM609.7,243.3h9.82v3.93h-9.82zM342.4,247.2h9.82v3.93h-9.82zM599.9,247.2h9.82v3.93h-9.82zM356.9,251h9.82v3.93h-9.82zM400.7,251h4.96v3.93h-4.96zM590.2,251h9.82v3.93h-9.82zM415.3,254.8h9.82v3.93h-9.82zM585.4,254.8h4.96v3.93h-4.96zM429.8,258.6h4.96v3.93h-4.96zM580.5,258.6h4.96v3.93h-4.96zM439.6,262.4h4.96v3.93h-4.96zM570.8,262.4h9.82v3.93h-9.82zM444.4,266.3h4.96v3.93h-4.96zM565.9,266.3h4.96v3.93h-4.96zM454.1,270.1h4.96v3.93h-4.96zM556.2,270.1h9.82v3.93h-9.82zM463.8,273.9h4.96v3.93h-4.96zM541.6,273.9h9.82v3.93h-9.82zM478.4,277.8h48.70v3.93h-48.70z"/>
<path fill="#b7d930" d="M269.4,98h4.96v3.93h-4.96zM274.3,105.6h4.96v3.93h-4.96zM279.2,113.3h4.96v3.93h-4.96zM284,120.9h4.96v3.93h-4.96zM288.9,128.6h4.96v3.93h-4.96zM293.8,132.4h4.96v3.93h-4.96zM293.8,136.2h4.96v3.93h-4.96zM298.6,140.1h4.96v3.93h-4.96zM303.5,143.9h4.96v3.93h-4.96zM303.5,147.7h4.96v3.93h-4.96zM308.3,151.5h4.96v3.93h-4.96zM313.2,159.2h4.96v3.93h-4.96zM318.1,163h4.96v3.93h-4.96zM318.1,166.8h4.96v3.93h-4.96zM318.1,170.7h4.96v3.93h-4.96zM318.1,174.5h4.96v3.93h-4.96zM318.1,178.3h4.96v3.93h-4.96zM318.1,182.1h4.96v3.93h-4.96zM318.1,185.9h4.96v3.93h-4.96zM318.1,189.8h4.96v3.93h-4.96zM313.2,193.6h4.96v3.93h-4.96zM313.2,197.4h4.96v3.93h-4.96zM308.3,201.2h9.82v3.93h-9.82zM274.3,205.1h14.68v3.93h-14.68zM303.5,205.1h9.82v3.93h-9.82zM264.6,208.9h4.96v3.93h-4.96zM284,208.9h29.26v3.93h-29.26zM259.7,212.7h4.96v3.93h-4.96zM288.9,212.7h24.40v3.93h-24.40zM259.7,216.6h4.96v3.93h-4.96zM288.9,216.6h24.40v3.93h-24.40zM259.7,220.4h4.96v3.93h-4.96zM284,220.4h29.26v3.93h-29.26zM264.6,224.2h4.96v3.93h-4.96zM279.2,224.2h14.68v3.93h-14.68zM303.5,224.2h14.68v3.93h-14.68zM269.4,228h14.68v3.93h-14.68zM313.2,228h4.96v3.93h-4.96zM318.1,231.8h4.96v3.93h-4.96zM322.9,235.7h4.96v3.93h-4.96zM619.4,235.7h9.82v3.93h-9.82zM332.6,239.5h4.96v3.93h-4.96zM604.8,239.5h19.54v3.93h-19.54zM337.5,243.3h9.82v3.93h-9.82zM595.1,243.3h14.68v3.93h-14.68zM352.1,247.2h4.96v3.93h-4.96zM590.2,247.2h9.82v3.93h-9.82zM366.7,251h34.12v3.93h-34.12zM405.5,251h19.54v3.93h-19.54zM585.4,251h4.96v3.93h-4.96zM425,254.8h9.82v3.93h-9.82zM580.5,254.8h4.96v3.93h-4.96zM434.7,258.6h4.96v3.93h-4.96zM570.8,258.6h9.82v3.93h-9.82zM444.4,262.4h4.96v3.93h-4.96zM565.9,262.4h4.96v3.93h-4.96zM449.3,266.3h9.82v3.93h-9.82zM561.1,266.3h4.96v3.93h-4.96zM459,270.1h9.82v3.93h-9.82zM546.5,270.1h9.82v3.93h-9.82zM468.7,273.9h14.68v3.93h-14.68zM527,273.9h14.68v3.93h-14.68z"/>
<path fill="#c7de2e" d="M269.4,90.3h4.96v3.93h-4.96zM269.4,94.2h4.96v3.93h-4.96zM274.3,101.8h4.96v3.93h-4.96zM279.2,109.5h4.96v3.93h-4.96zM284,113.3h4.96v3.93h-4.96zM284,117.1h4.96v3.93h-4.96zM288.9,120.9h4.96v3.93h-4.96zM288.9,124.8h4.96v3.93h-4.96zM293.8,128.6h4.96v3.93h-4.96zM298.6,136.2h4.96v3.93h-4.96zM303.5,140.1h4.96v3.93h-4.96zM308.3,147.7h4.96v3.93h-4.96zM313.2,151.5h4.96v3.93h-4.96zM313.2,155.3h4.96v3.93h-4.96zM318.1,159.2h4.96v3.93h-4.96zM322.9,166.8h4.96v3.93h-4.96zM322.9,170.7h4.96v3.93h-4.96zM322.9,174.5h4.96v3.93h-4.96zM322.9,178.3h4.96v3.93h-4.96zM322.9,182.1h4.96v3.93h-4.96zM322.9,185.9h4.96v3.93h-4.96zM322.9,189.8h4.96v3.93h-4.96zM318.1,193.6h9.82v3.93h-9.82zM318.1,197.4h4.96v3.93h-4.96zM318.1,201.2h4.96v3.93h-4.96zM313.2,205.1h9.82v3.93h-9.82zM269.4,208.9h14.68v3.93h-14.68zM313.2,208.9h4.96v3.93h-4.96zM264.6,212.7h4.96v3.93h-4.96zM279.2,212.7h9.82v3.93h-9.82zM313.2,212.7h4.96v3.93h-4.96zM264.6,216.6h4.96v3.93h-4.96zM279.2,216.6h9.82v3.93h-9.82zM313.2,216.6h4.96v3.93h-4.96zM264.6,220.4h4.96v3.93h-4.96zM274.3,220.4h9.82v3.93h-9.82zM313.2,220.4h9.82v3.93h-9.82zM269.4,224.2h9.82v3.93h-9.82zM318.1,224.2h4.96v3.93h-4.96zM318.1,228h9.82v3.93h-9.82zM322.9,231.8h4.96v3.93h-4.96zM609.7,231.8h29.26v3.93h-29.26zM327.8,235.7h4.96v3.93h-4.96zM599.9,235.7h19.54v3.93h-19.54zM337.5,239.5h4.96v3.93h-4.96zM595.1,239.5h9.82v3.93h-9.82zM347.2,243.3h4.96v3.93h-4.96zM590.2,243.3h4.96v3.93h-4.96zM356.9,247.2h68.14v3.93h-68.14zM585.4,247.2h4.96v3.93h-4.96zM425,251h9.82v3.93h-9.82zM575.6,251h9.82v3.93h-9.82zM434.7,254.8h4.96v3.93h-4.96zM570.8,254.8h9.82v3.93h-9.82zM439.6,258.6h4.96v3.93h-4.96zM565.9,258.6h4.96v3.93h-4.96zM449.3,262.4h4.96v3.93h-4.96zM561.1,262.4h4.96v3.93h-4.96zM459,266.3h4.96v3.93h-4.96zM551.3,266.3h9.82v3.93h-9.82zM468.7,270.1h4.96v3.93h-4.96zM536.8,270.1h9.82v3.93h-9.82zM483.3,273.9h43.84v3.93h-43.84z"/>
<path fill="#dae42b" d="M274.3,94.2h4.96v3.93h-4.96zM274.3,98h4.96v3.93h-4.96zM279.2,101.8h4.96v3.93h-4.96zM279.2,105.6h4.96v3.93h-4.96zM284,109.5h4.96v3.93h-4.96zM288.9,117.1h4.96v3.93h-4.96zM293.8,124.8h4.96v3.93h-4.96zM298.6,132.4h4.96v3.93h-4.96zM303.5,136.2h4.96v3.93h-4.96zM308.3,140.1h4.96v3.93h-4.96zM308.3,143.9h4.96v3.93h-4.96zM313.2,147.7h4.96v3.93h-4.96zM318.1,151.5h4.96v3.93h-4.96zM318.1,155.3h4.96v3.93h-4.96zM322.9,159.2h4.96v3.93h-4.96zM322.9,163h4.96v3.93h-4.96zM327.8,166.8h4.96v3.93h-4.96zM327.8,170.7h4.96v3.93h-4.96zM327.8,174.5h4.96v3.93h-4.96zM327.8,178.3h4.96v3.93h-4.96zM327.8,182.1h4.96v3.93h-4.96zM327.8,185.9h4.96v3.93h-4.96zM327.8,189.8h4.96v3.93h-4.96zM327.8,193.6h4.96v3.93h-4.96zM322.9,197.4h4.96v3.93h-4.96zM322.9,201.2h4.96v3.93h-4.96zM322.9,205.1h4.96v3.93h-4.96zM318.1,208.9h9.82v3.93h-9.82zM269.4,212.7h9.82v3.93h-9.82zM318.1,212.7h9.82v3.93h-9.82zM269.4,216.6h9.82v3.93h-9.82zM318.1,216.6h9.82v3.93h-9.82zM269.4,220.4h4.96v3.93h-4.96zM322.9,220.4h4.96v3.93h-4.96zM322.9,224.2h4.96v3.93h-4.96zM614.5,224.2h24.40v3.93h-24.40zM327.8,228h4.96v3.93h-4.96zM604.8,228h34.12v3.93h-34.12zM327.8,231.8h4.96v3.93h-4.96zM599.9,231.8h9.82v3.93h-9.82zM332.6,235.7h4.96v3.93h-4.96zM595.1,235.7h4.96v3.93h-4.96zM342.4,239.5h4.96v3.93h-4.96zM585.4,239.5h9.82v3.93h-9.82zM352.1,243.3h9.82v3.93h-9.82zM376.4,243.3h43.84v3.93h-43.84zM580.5,243.3h9.82v3.93h-9.82zM425,247.2h4.96v3.93h-4.96zM575.6,247.2h9.82v3.93h-9.82zM434.7,251h4.96v3.93h-4.96zM570.8,251h4.96v3.93h-4.96zM439.6,254.8h4.96v3.93h-4.96zM565.9,254.8h4.96v3.93h-4.96zM444.4,258.6h4.96v3.93h-4.96zM561.1,258.6h4.96v3.93h-4.96zM454.1,262.4h4.96v3.93h-4.96zM556.2,262.4h4.96v3.93h-4.96zM463.8,266.3h4.96v3.93h-4.96zM541.6,266.3h9.82v3.93h-9.82zM473.6,270.1h19.54v3.93h-19.54zM522.2,270.1h14.68v3.93h-14.68z"/>
<path fill="#ede927" d="M274.3,90.3h4.96v3.93h-4.96zM279.2,94.2h4.96v3.93h-4.96zM279.2,98h4.96v3.93h-4.96zM284,101.8h4.96v3.93h-4.96zM284,105.6h4.96v3.93h-4.96zM288.9,109.5h4.96v3.93h-4.96zM288.9,113.3h4.96v3.93h-4.96zM293.8,120.9h4.96v3.93h-4.96zM298.6,128.6h4.96v3.93h-4.96zM303.5,132.4h4.96v3.93h-4.96zM308.3,136.2h4.96v3.93h-4.96zM313.2,143.9h4.96v3.93h-4.96zM318.1,147.7h4.96v3.93h-4.96zM322.9,151.5h4.96v3.93h-4.96zM322.9,155.3h4.96v3.93h-4.96zM327.8,159.2h4.96v3.93h-4.96zM327.8,163h4.96v3.93h-4.96zM332.6,166.8h4.96v3.93h-4.96zM332.6,170.7h4.96v3.93h-4.96zM332.6,174.5h4.96v3.93h-4.96zM332.6,178.3h4.96v3.93h-4.96zM332.6,182.1h4.96v3.93h-4.96zM332.6,185.9h4.96v3.93h-4.96zM332.6,189.8h4.96v3.93h-4.96zM327.8,197.4h4.96v3.93h-4.96zM327.8,201.2h4.96v3.93h-4.96zM327.8,205.1h4.96v3.93h-4.96zM638.8,212.7h4.96v3.93h-4.96zM327.8,216.6h4.96v3.93h-4.96zM624.2,216.6h19.54v3.93h-19.54zM327.8,220.4h4.96v3.93h-4.96zM614.5,220.4h29.26v3.93h-29.26zM327.8,224.2h4.96v3.93h-4.96zM604.8,224.2h9.82v3.93h-9.82zM638.8,224.2h4.96v3.93h-4.96zM599.9,228h4.96v3.93h-4.96zM332.6,231.8h4.96v3.93h-4.96zM590.2,231.8h9.82v3.93h-9.82zM337.5,235.7h4.96v3.93h-4.96zM585.4,235.7h9.82v3.93h-9.82zM347.2,239.5h9.82v3.93h-9.82zM381.2,239.5h43.84v3.93h-43.84zM580.5,239.5h4.96v3.93h-4.96zM361.8,243.3h14.68v3.93h-14.68zM420.1,243.3h9.82v3.93h-9.82zM575.6,243.3h4.96v3.93h-4.96zM429.8,247.2h9.82v3.93h-9.82zM570.8,247.2h4.96v3.93h-4.96zM439.6,251h4.96v3.93h-4.96zM565.9,251h4.96v3.93h-4.96zM444.4,254.8h4.96v3.93h-4.96zM561.1,254.8h4.96v3.93h-4.96zM449.3,258.6h9.82v3.93h-9.82zM556.2,258.6h4.96v3.93h-4.96zM459,262.4h9.82v3.93h-9.82zM546.5,262.4h9.82v3.93h-9.82zM468.7,266.3h9.82v3.93h-9.82zM536.8,266.3h4.96v3.93h-4.96zM493,270.1h29.26v3.93h-29.26z"/>
<path fill="#f7e923" d="M279.2,90.3h9.82v3.93h-9.82zM284,94.2h4.96v3.93h-4.96zM284,98h4.96v3.93h-4.96zM288.9,105.6h4.96v3.93h-4.96zM293.8,113.3h4.96v3.93h-4.96zM293.8,117.1h4.96v3.93h-4.96zM298.6,120.9h4.96v3.93h-4.96zM298.6,124.8h4.96v3.93h-4.96zM303.5,128.6h4.96v3.93h-4.96zM308.3,132.4h4.96v3.93h-4.96zM313.2,136.2h4.96v3.93h-4.96zM313.2,140.1h4.96v3.93h-4.96zM318.1,143.9h4.96v3.93h-4.96zM322.9,147.7h4.96v3.93h-4.96zM327.8,155.3h4.96v3.93h-4.96zM332.6,159.2h4.96v3.93h-4.96zM332.6,163h4.96v3.93h-4.96zM337.5,166.8h4.96v3.93h-4.96zM337.5,170.7h4.96v3.93h-4.96zM337.5,174.5h4.96v3.93h-4.96zM337.5,178.3h4.96v3.93h-4.96zM337.5,182.1h4.96v3.93h-4.96zM337.5,185.9h4.96v3.93h-4.96zM337.5,189.8h4.96v3.93h-4.96zM332.6,193.6h4.96v3.93h-4.96zM332.6,197.4h4.96v3.93h-4.96zM332.6,201.2h4.96v3.93h-4.96zM327.8,208.9h4.96v3.93h-4.96zM634,208.9h9.82v3.93h-9.82zM327.8,212.7h4.96v3.93h-4.96zM619.4,212.7h19.54v3.93h-19.54zM609.7,216.6h14.68v3.93h-14.68zM332.6,220.4h4.96v3.93h-4.96zM604.8,220.4h9.82v3.93h-9.82zM332.6,224.2h4.96v3.93h-4.96zM595.1,224.2h9.82v3.93h-9.82zM332.6,228h4.96v3.93h-4.96zM590.2,228h9.82v3.93h-9.82zM337.5,231.8h4.96v3.93h-4.96zM585.4,231.8h4.96v3.93h-4.96zM342.4,235.7h9.82v3.93h-9.82zM386.1,235.7h38.98v3.93h-38.98zM580.5,235.7h4.96v3.93h-4.96zM356.9,239.5h24.40v3.93h-24.40zM425,239.5h4.96v3.93h-4.96zM575.6,239.5h4.96v3.93h-4.96zM429.8,243.3h9.82v3.93h-9.82zM570.8,243.3h4.96v3.93h-4.96zM439.6,247.2h4.96v3.93h-4.96zM565.9,247.2h4.96v3.93h-4.96zM444.4,251h4.96v3.93h-4.96zM561.1,251h4.96v3.93h-4.96zM449.3,254.8h4.96v3.93h-4.96zM556.2,254.8h4.96v3.93h-4.96zM459,258.6h4.96v3.93h-4.96zM551.3,258.6h4.96v3.93h-4.96zM468.7,262.4h4.96v3.93h-4.96zM541.6,262.4h4.96v3.93h-4.96zM478.4,266.3h24.40v3.93h-24.40zM522.2,266.3h14.68v3.93h-14.68z"/>
<path fill="#fce71e" d="M288.9,90.3h4.96v3.93h-4.96zM288.9,94.2h4.96v3.93h-4.96zM288.9,98h4.96v3.93h-4.96zM288.9,101.8h4.96v3.93h-4.96zM293.8,105.6h4.96v3.93h-4.96zM293.8,109.5h4.96v3.93h-4.96zM298.6,117.1h4.96v3.93h-4.96zM303.5,124.8h4.96v3.93h-4.96zM308.3,128.6h4.96v3.93h-4.96zM313.2,132.4h4.96v3.93h-4.96zM318.1,140.1h4.96v3.93h-4.96zM322.9,143.9h4.96v3.93h-4.96zM327.8,147.7h4.96v3.93h-4.96zM327.8,151.5h4.96v3.93h-4.96zM332.6,155.3h4.96v3.93h-4.96zM337.5,159.2h4.96v3.93h-4.96zM337.5,163h4.96v3.93h-4.96zM342.4,166.8h4.96v3.93h-4.96zM342.4,170.7h4.96v3.93h-4.96zM342.4,174.5h4.96v3.93h-4.96zM342.4,178.3h4.96v3.93h-4.96zM342.4,182.1h4.96v3.93h-4.96zM342.4,185.9h4.96v3.93h-4.96zM337.5,193.6h4.96v3.93h-4.96zM337.5,197.4h4.96v3.93h-4.96zM332.6,205.1h4.96v3.93h-4.96zM332.6,208.9h4.96v3.93h-4.96zM619.4,208.9h14.68v3.93h-14.68zM332.6,212.7h4.96v3.93h-4.96zM609.7,212.7h9.82v3.93h-9.82zM332.6,216.6h4.96v3.93h-4.96zM604.8,216.6h4.96v3.93h-4.96zM595.1,220.4h9.82v3.93h-9.82zM337.5,224.2h4.96v3.93h-4.96zM590.2,224.2h4.96v3.93h-4.96zM337.5,228h4.96v3.93h-4.96zM395.8,228h19.54v3.93h-19.54zM585.4,228h4.96v3.93h-4.96zM342.4,231.8h4.96v3.93h-4.96zM386.1,231.8h38.98v3.93h-38.98zM575.6,231.8h9.82v3.93h-9.82zM352.1,235.7h14.68v3.93h-14.68zM371.5,235.7h14.68v3.93h-14.68zM425,235.7h9.82v3.93h-9.82zM575.6,235.7h4.96v3.93h-4.96zM429.8,239.5h9.82v3.93h-9.82zM570.8,239.5h4.96v3.93h-4.96zM439.6,243.3h4.96v3.93h-4.96zM565.9,243.3h4.96v3.93h-4.96zM444.4,247.2h4.96v3.93h-4.96zM561.1,247.2h4.96v3.93h-4.96zM449.3,251h4.96v3.93h-4.96zM556.2,251h4.96v3.93h-4.96zM454.1,254.8h4.96v3.93h-4.96zM551.3,254.8h4.96v3.93h-4.96zM463.8,258.6h4.96v3.93h-4.96zM541.6,258.6h9.82v3.93h-9.82zM473.6,262.4h4.96v3.93h-4.96zM531.9,262.4h9.82v3.93h-9.82zM502.7,266.3h19.54v3.93h-19.54z"/>
<path fill="#fee41c" d="M293.8,90.3h4.96v3.93h-4.96zM293.8,94.2h4.96v3.93h-4.96zM293.8,98h4.96v3.93h-4.96zM293.8,101.8h4.96v3.93h-4.96zM298.6,109.5h4.96v3.93h-4.96zM298.6,113.3h4.96v3.93h-4.96zM303.5,117.1h4.96v3.93h-4.96zM303.5,120.9h4.96v3.93h-4.96zM308.3,124.8h4.96v3.93h-4.96zM313.2,128.6h4.96v3.93h-4.96zM318.1,132.4h4.96v3.93h-4.96zM318.1,136.2h4.96v3.93h-4.96zM322.9,140.1h4.96v3.93h-4.96zM327.8,143.9h4.96v3.93h-4.96zM332.6,147.7h4.96v3.93h-4.96zM332.6,151.5h4.96v3.93h-4.96zM337.5,155.3h4.96v3.93h-4.96zM342.4,159.2h4.96v3.93h-4.96zM342.4,163h4.96v3.93h-4.96zM347.2,166.8h4.96v3.93h-4.96zM347.2,170.7h4.96v3.93h-4.96zM347.2,174.5h4.96v3.93h-4.96zM347.2,178.3h4.96v3.93h-4.96zM347.2,182.1h4.96v3.93h-4.96zM342.4,189.8h4.96v3.93h-4.96zM342.4,193.6h4.96v3.93h-4.96zM342.4,197.4h4.96v3.93h-4.96zM337.5,201.2h4.96v3.93h-4.96zM337.5,205.1h4.96v3.93h-4.96zM624.2,205.1h9.82v3.93h-9.82zM337.5,208.9h4.96v3.93h-4.96zM614.5,208.9h4.96v3.93h-4.96zM337.5,212.7h4.96v3.93h-4.96zM604.8,212.7h4.96v3.93h-4.96zM337.5,216.6h4.96v3.93h-4.96zM595.1,216.6h9.82v3.93h-9.82zM337.5,220.4h4.96v3.93h-4.96zM590.2,220.4h4.96v3.93h-4.96zM342.4,224.2h4.96v3.93h-4.96zM395.8,224.2h29.26v3.93h-29.26zM580.5,224.2h9.82v3.93h-9.82zM342.4,228h4.96v3.93h-4.96zM386.1,228h9.82v3.93h-9.82zM415.3,228h14.68v3.93h-14.68zM575.6,228h9.82v3.93h-9.82zM347.2,231.8h14.68v3.93h-14.68zM371.5,231.8h14.68v3.93h-14.68zM425,231.8h9.82v3.93h-9.82zM570.8,231.8h4.96v3.93h-4.96zM366.7,235.7h4.96v3.93h-4.96zM434.7,235.7h4.96v3.93h-4.96zM565.9,235.7h9.82v3.93h-9.82zM439.6,239.5h4.96v3.93h-4.96zM565.9,239.5h4.96v3.93h-4.96zM444.4,243.3h4.96v3.93h-4.96zM561.1,243.3h4.96v3.93h-4.96zM449.3,247.2h4.96v3.93h-4.96zM556.2,247.2h4.96v3.93h-4.96zM454.1,251h4.96v3.93h-4.96zM551.3,251h4.96v3.93h-4.96zM459,254.8h4.96v3.93h-4.96zM546.5,254.8h4.96v3.93h-4.96zM468.7,258.6h4.96v3.93h-4.96zM536.8,258.6h4.96v3.93h-4.96zM478.4,262.4h24.40v3.93h-24.40zM517.3,262.4h14.68v3.93h-14.68z"/>
<path fill="#ffe01c" d="M298.6,101.8h4.96v3.93h-4.96zM298.6,105.6h4.96v3.93h-4.96zM303.5,113.3h4.96v3.93h-4.96zM308.3,117.1h4.96v3.93h-4.96zM308.3,120.9h4.96v3.93h-4.96zM313.2,124.8h4.96v3.93h-4.96zM318.1,128.6h4.96v3.93h-4.96zM322.9,132.4h4.96v3.93h-4.96zM322.9,136.2h4.96v3.93h-4.96zM327.8,140.1h4.96v3.93h-4.96zM332.6,143.9h4.96v3.93h-4.96zM337.5,147.7h4.96v3.93h-4.96zM337.5,151.5h4.96v3.93h-4.96zM342.4,155.3h4.96v3.93h-4.96zM347.2,159.2h4.96v3.93h-4.96zM347.2,163h4.96v3.93h-4.96zM352.1,166.8h4.96v3.93h-4.96zM352.1,170.7h4.96v3.93h-4.96zM352.1,174.5h4.96v3.93h-4.96zM352.1,178.3h4.96v3.93h-4.96zM352.1,182.1h4.96v3.93h-4.96zM347.2,185.9h4.96v3.93h-4.96zM347.2,189.8h4.96v3.93h-4.96zM347.2,193.6h4.96v3.93h-4.96zM342.4,201.2h4.96v3.93h-4.96zM342.4,205.1h4.96v3.93h-4.96zM614.5,205.1h9.82v3.93h-9.82zM342.4,208.9h4.96v3.93h-4.96zM604.8,208.9h9.82v3.93h-9.82zM342.4,212.7h4.96v3.93h-4.96zM595.1,212.7h9.82v3.93h-9.82zM342.4,216.6h4.96v3.93h-4.96zM400.7,216.6h19.54v3.93h-19.54zM590.2,216.6h4.96v3.93h-4.96zM342.4,220.4h4.96v3.93h-4.96zM390.9,220.4h38.98v3.93h-38.98zM580.5,220.4h9.82v3.93h-9.82zM347.2,224.2h4.96v3.93h-4.96zM381.2,224.2h14.68v3.93h-14.68zM425,224.2h4.96v3.93h-4.96zM575.6,224.2h4.96v3.93h-4.96zM347.2,228h9.82v3.93h-9.82zM371.5,228h14.68v3.93h-14.68zM429.8,228h4.96v3.93h-4.96zM570.8,228h4.96v3.93h-4.96zM361.8,231.8h9.82v3.93h-9.82zM434.7,231.8h4.96v3.93h-4.96zM565.9,231.8h4.96v3.93h-4.96zM439.6,235.7h4.96v3.93h-4.96zM561.1,235.7h4.96v3.93h-4.96zM444.4,239.5h4.96v3.93h-4.96zM561.1,239.5h4.96v3.93h-4.96zM556.2,243.3h4.96v3.93h-4.96zM551.3,247.2h4.96v3.93h-4.96zM459,251h4.96v3.93h-4.96zM546.5,251h4.96v3.93h-4.96zM463.8,254.8h4.96v3.93h-4.96zM541.6,254.8h4.96v3.93h-4.96zM473.6,258.6h4.96v3.93h-4.96zM527,258.6h9.82v3.93h-9.82zM502.7,262.4h14.68v3.93h-14.68z"/>
<path fill="#ffdc1c" d="M298.6,90.3h4.96v3.93h-4.96zM298.6,94.2h4.96v3.93h-4.96zM298.6,98h4.96v3.93h-4.96zM303.5,105.6h4.96v3.93h-4.96zM303.5,109.5h4.96v3.93h-4.96zM308.3,113.3h4.96v3.93h-4.96zM313.2,117.1h4.96v3.93h-4.96zM313.2,120.9h4.96v3.93h-4.96zM318.1,124.8h4.96v3.93h-4.96zM322.9,128.6h4.96v3.93h-4.96zM327.8,136.2h4.96v3.93h-4.96zM332.6,140.1h4.96v3.93h-4.96zM337.5,143.9h4.96v3.93h-4.96zM342.4,147.7h4.96v3.93h-4.96zM342.4,151.5h9.82v3.93h-9.82zM347.2,155.3h9.82v3.93h-9.82zM352.1,159.2h4.96v3.93h-4.96zM352.1,163h9.82v3.93h-9.82zM356.9,166.8h4.96v3.93h-4.96zM356.9,170.7h4.96v3.93h-4.96zM356.9,174.5h4.96v3.93h-4.96zM356.9,178.3h4.96v3.93h-4.96zM356.9,182.1h4.96v3.93h-4.96zM352.1,185.9h4.96v3.93h-4.96zM352.1,189.8h4.96v3.93h-4.96zM352.1,193.6h4.96v3.93h-4.96zM347.2,197.4h4.96v3.93h-4.96zM347.2,201.2h4.96v3.93h-4.96zM614.5,201.2h9.82v3.93h-9.82zM347.2,205.1h4.96v3.93h-4.96zM405.5,205.1h19.54v3.93h-19.54zM604.8,205.1h9.82v3.93h-9.82zM347.2,208.9h4.96v3.93h-4.96zM400.7,208.9h24.40v3.93h-24.40zM595.1,208.9h9.82v3.93h-9.82zM347.2,212.7h4.96v3.93h-4.96zM395.8,212.7h34.12v3.93h-34.12zM590.2,212.7h4.96v3.93h-4.96zM347.2,216.6h4.96v3.93h-4.96zM386.1,216.6h14.68v3.93h-14.68zM420.1,216.6h14.68v3.93h-14.68zM580.5,216.6h9.82v3.93h-9.82zM347.2,220.4h4.96v3.93h-4.96zM381.2,220.4h9.82v3.93h-9.82zM429.8,220.4h4.96v3.93h-4.96zM575.6,220.4h4.96v3.93h-4.96zM352.1,224.2h4.96v3.93h-4.96zM371.5,224.2h9.82v3.93h-9.82zM429.8,224.2h9.82v3.93h-9.82zM570.8,224.2h4.96v3.93h-4.96zM356.9,228h14.68v3.93h-14.68zM434.7,228h4.96v3.93h-4.96zM565.9,228h4.96v3.93h-4.96zM439.6,231.8h4.96v3.93h-4.96zM561.1,231.8h4.96v3.93h-4.96zM444.4,235.7h4.96v3.93h-4.96zM556.2,235.7h4.96v3.93h-4.96zM556.2,239.5h4.96v3.93h-4.96zM449.3,243.3h4.96v3.93h-4.96zM551.3,243.3h4.96v3.93h-4.96zM454.1,247.2h4.96v3.93h-4.96zM546.5,247.2h4.96v3.93h-4.96zM463.8,251h4.96v3.93h-4.96zM541.6,251h4.96v3.93h-4.96zM468.7,254.8h4.96v3.93h-4.96zM531.9,254.8h9.82v3.93h-9.82zM478.4,258.6h19.54v3.93h-19.54zM517.3,258.6h9.82v3.93h-9.82z"/>
<path fill="#ffd41c" d="M303.5,94.2h4.96v3.93h-4.96zM303.5,98h4.96v3.93h-4.96zM303.5,101.8h4.96v3.93h-4.96zM308.3,105.6h4.96v3.93h-4.96zM308.3,109.5h4.96v3.93h-4.96zM313.2,113.3h4.96v3.93h-4.96zM318.1,120.9h4.96v3.93h-4.96zM322.9,124.8h4.96v3.93h-4.96zM327.8,128.6h4.96v3.93h-4.96zM327.8,132.4h4.96v3.93h-4.96zM332.6,136.2h4.96v3.93h-4.96zM337.5,140.1h4.96v3.93h-4.96zM342.4,143.9h4.96v3.93h-4.96zM347.2,147.7h4.96v3.93h-4.96zM352.1,151.5h4.96v3.93h-4.96zM356.9,155.3h4.96v3.93h-4.96zM356.9,159.2h9.82v3.93h-9.82zM361.8,163h9.82v3.93h-9.82zM361.8,166.8h9.82v3.93h-9.82zM361.8,170.7h9.82v3.93h-9.82zM361.8,174.5h9.82v3.93h-9.82zM361.8,178.3h14.68v3.93h-14.68zM361.8,182.1h9.82v3.93h-9.82zM405.5,182.1h4.96v3.93h-4.96zM356.9,185.9h14.68v3.93h-14.68zM400.7,185.9h19.54v3.93h-19.54zM356.9,189.8h9.82v3.93h-9.82zM395.8,189.8h29.26v3.93h-29.26zM356.9,193.6h4.96v3.93h-4.96zM395.8,193.6h34.12v3.93h-34.12zM352.1,197.4h9.82v3.93h-9.82zM395.8,197.4h38.98v3.93h-38.98zM619.4,197.4h4.96v3.93h-4.96zM352.1,201.2h4.96v3.93h-4.96zM395.8,201.2h38.98v3.93h-38.98zM609.7,201.2h4.96v3.93h-4.96zM352.1,205.1h4.96v3.93h-4.96zM390.9,205.1h14.68v3.93h-14.68zM425,205.1h9.82v3.93h-9.82zM599.9,205.1h4.96v3.93h-4.96zM352.1,208.9h4.96v3.93h-4.96zM386.1,208.9h14.68v3.93h-14.68zM425,208.9h9.82v3.93h-9.82zM590.2,208.9h4.96v3.93h-4.96zM352.1,212.7h4.96v3.93h-4.96zM381.2,212.7h14.68v3.93h-14.68zM429.8,212.7h9.82v3.93h-9.82zM580.5,212.7h9.82v3.93h-9.82zM352.1,216.6h4.96v3.93h-4.96zM376.4,216.6h9.82v3.93h-9.82zM434.7,216.6h4.96v3.93h-4.96zM575.6,216.6h4.96v3.93h-4.96zM352.1,220.4h9.82v3.93h-9.82zM371.5,220.4h9.82v3.93h-9.82zM434.7,220.4h4.96v3.93h-4.96zM570.8,220.4h4.96v3.93h-4.96zM356.9,224.2h14.68v3.93h-14.68zM439.6,224.2h4.96v3.93h-4.96zM565.9,224.2h4.96v3.93h-4.96zM439.6,228h4.96v3.93h-4.96zM561.1,228h4.96v3.93h-4.96zM444.4,231.8h4.96v3.93h-4.96zM556.2,231.8h4.96v3.93h-4.96zM449.3,235.7h4.96v3.93h-4.96zM551.3,235.7h4.96v3.93h-4.96zM449.3,239.5h4.96v3.93h-4.96zM551.3,239.5h4.96v3.93h-4.96zM454.1,243.3h4.96v3.93h-4.96zM546.5,243.3h4.96v3.93h-4.96zM459,247.2h4.96v3.93h-4.96zM541.6,247.2h4.96v3.93h-4.96zM468.7,251h4.96v3.93h-4.96zM536.8,251h4.96v3.93h-4.96zM473.6,254.8h4.96v3.93h-4.96zM522.2,254.8h9.82v3.93h-9.82zM497.9,258.6h19.54v3.93h-19.54z"/>
<path fill="#ffcc1c" d="M303.5,90.3h4.96v3.93h-4.96zM308.3,98h4.96v3.93h-4.96zM308.3,101.8h4.96v3.93h-4.96zM313.2,105.6h4.96v3.93h-4.96zM313.2,109.5h4.96v3.93h-4.96zM318.1,113.3h4.96v3.93h-4.96zM318.1,117.1h9.82v3.93h-9.82zM322.9,120.9h4.96v3.93h-4.96zM327.8,124.8h4.96v3.93h-4.96zM332.6,128.6h4.96v3.93h-4.96zM332.6,132.4h9.82v3.93h-9.82zM337.5,136.2h4.96v3.93h-4.96zM342.4,140.1h4.96v3.93h-4.96zM347.2,143.9h4.96v3.93h-4.96zM352.1,147.7h9.82v3.93h-9.82zM750.6,147.7h4.96v3.93h-4.96zM356.9,151.5h9.82v3.93h-9.82zM740.9,151.5h9.82v3.93h-9.82zM361.8,155.3h14.68v3.93h-14.68zM731.2,155.3h4.96v3.93h-4.96zM366.7,159.2h19.54v3.93h-19.54zM371.5,163h14.68v3.93h-14.68zM371.5,166.8h24.40v3.93h-24.40zM371.5,170.7h38.98v3.93h-38.98zM371.5,174.5h48.70v3.93h-48.70zM376.4,178.3h48.70v3.93h-48.70zM371.5,182.1h34.12v3.93h-34.12zM410.4,182.1h19.54v3.93h-19.54zM371.5,185.9h29.26v3.93h-29.26zM420.1,185.9h14.68v3.93h-14.68zM366.7,189.8h29.26v3.93h-29.26zM425,189.8h9.82v3.93h-9.82zM361.8,193.6h34.12v3.93h-34.12zM429.8,193.6h9.82v3.93h-9.82zM619.4,193.6h4.96v3.93h-4.96zM361.8,197.4h34.12v3.93h-34.12zM434.7,197.4h4.96v3.93h-4.96zM609.7,197.4h9.82v3.93h-9.82zM356.9,201.2h9.82v3.93h-9.82zM376.4,201.2h19.54v3.93h-19.54zM434.7,201.2h4.96v3.93h-4.96zM599.9,201.2h9.82v3.93h-9.82zM356.9,205.1h4.96v3.93h-4.96zM376.4,205.1h14.68v3.93h-14.68zM434.7,205.1h4.96v3.93h-4.96zM590.2,205.1h9.82v3.93h-9.82zM356.9,208.9h4.96v3.93h-4.96zM376.4,208.9h9.82v3.93h-9.82zM434.7,208.9h9.82v3.93h-9.82zM580.5,208.9h9.82v3.93h-9.82zM356.9,212.7h4.96v3.93h-4.96zM371.5,212.7h9.82v3.93h-9.82zM439.6,212.7h4.96v3.93h-4.96zM575.6,212.7h4.96v3.93h-4.96zM356.9,216.6h19.54v3.93h-19.54zM439.6,216.6h4.96v3.93h-4.96zM565.9,216.6h9.82v3.93h-9.82zM361.8,220.4h9.82v3.93h-9.82zM439.6,220.4h4.96v3.93h-4.96zM561.1,220.4h9.82v3.93h-9.82zM444.4,224.2h4.96v3.93h-4.96zM561.1,224.2h4.96v3.93h-4.96zM444.4,228h4.96v3.93h-4.96zM556.2,228h4.96v3.93h-4.96zM449.3,231.8h4.96v3.93h-4.96zM551.3,231.8h4.96v3.93h-4.96zM454.1,239.5h4.96v3.93h-4.96zM546.5,239.5h4.96v3.93h-4.96zM459,243.3h4.96v3.93h-4.96zM541.6,243.3h4.96v3.93h-4.96zM463.8,247.2h4.96v3.93h-4.96zM536.8,247.2h4.96v3.93h-4.96zM527,251h9.82v3.93h-9.82zM478.4,254.8h24.40v3.93h-24.40zM512.5,254.8h9.82v3.93h-9.82z"/>
<path fill="#febf1e" d="M308.3,90.3h4.96v3.93h-4.96zM308.3,94.2h4.96v3.93h-4.96zM313.2,98h4.96v3.93h-4.96zM313.2,101.8h4.96v3.93h-4.96zM318.1,105.6h4.96v3.93h-4.96zM318.1,109.5h9.82v3.93h-9.82zM322.9,113.3h4.96v3.93h-4.96zM327.8,117.1h4.96v3.93h-4.96zM327.8,120.9h9.82v3.93h-9.82zM332.6,124.8h4.96v3.93h-4.96zM337.5,128.6h4.96v3.93h-4.96zM342.4,132.4h4.96v3.93h-4.96zM342.4,136.2h9.82v3.93h-9.82zM347.2,140.1h9.82v3.93h-9.82zM352.1,143.9h14.68v3.93h-14.68zM750.6,143.9h9.82v3.93h-9.82zM361.8,147.7h14.68v3.93h-14.68zM740.9,147.7h9.82v3.93h-9.82zM366.7,151.5h19.54v3.93h-19.54zM726.3,151.5h14.68v3.93h-14.68zM376.4,155.3h19.54v3.93h-19.54zM716.6,155.3h14.68v3.93h-14.68zM386.1,159.2h19.54v3.93h-19.54zM706.9,159.2h14.68v3.93h-14.68zM386.1,163h29.26v3.93h-29.26zM692.3,163h14.68v3.93h-14.68zM395.8,166.8h24.40v3.93h-24.40zM682.6,166.8h9.82v3.93h-9.82zM410.4,170.7h14.68v3.93h-14.68zM420.1,174.5h9.82v3.93h-9.82zM425,178.3h9.82v3.93h-9.82zM429.8,182.1h9.82v3.93h-9.82zM434.7,185.9h4.96v3.93h-4.96zM434.7,189.8h9.82v3.93h-9.82zM439.6,193.6h4.96v3.93h-4.96zM614.5,193.6h4.96v3.93h-4.96zM439.6,197.4h4.96v3.93h-4.96zM604.8,197.4h4.96v3.93h-4.96zM366.7,201.2h9.82v3.93h-9.82zM439.6,201.2h4.96v3.93h-4.96zM590.2,201.2h9.82v3.93h-9.82zM361.8,205.1h14.68v3.93h-14.68zM439.6,205.1h9.82v3.93h-9.82zM580.5,205.1h9.82v3.93h-9.82zM361.8,208.9h14.68v3.93h-14.68zM444.4,208.9h4.96v3.93h-4.96zM575.6,208.9h4.96v3.93h-4.96zM361.8,212.7h9.82v3.93h-9.82zM444.4,212.7h4.96v3.93h-4.96zM565.9,212.7h9.82v3.93h-9.82zM444.4,216.6h4.96v3.93h-4.96zM561.1,216.6h4.96v3.93h-4.96zM444.4,220.4h4.96v3.93h-4.96zM556.2,220.4h4.96v3.93h-4.96zM449.3,224.2h4.96v3.93h-4.96zM556.2,224.2h4.96v3.93h-4.96zM449.3,228h4.96v3.93h-4.96zM551.3,228h4.96v3.93h-4.96zM454.1,231.8h4.96v3.93h-4.96zM546.5,231.8h4.96v3.93h-4.96zM454.1,235.7h4.96v3.93h-4.96zM546.5,235.7h4.96v3.93h-4.96zM459,239.5h4.96v3.93h-4.96zM541.6,239.5h4.96v3.93h-4.96zM463.8,243.3h4.96v3.93h-4.96zM536.8,243.3h4.96v3.93h-4.96zM468.7,247.2h4.96v3.93h-4.96zM531.9,247.2h4.96v3.93h-4.96zM473.6,251h9.82v3.93h-9.82zM522.2,251h4.96v3.93h-4.96zM502.7,254.8h9.82v3.93h-9.82z"/>
<path fill="#fcb321" d="M313.2,90.3h9.82v3.93h-9.82zM313.2,94.2h9.82v3.93h-9.82zM318.1,98h9.82v3.93h-9.82zM318.1,101.8h9.82v3.93h-9.82zM322.9,105.6h4.96v3.93h-4.96zM327.8,109.5h4.96v3.93h-4.96zM327.8,113.3h9.82v3.93h-9.82zM332.6,117.1h4.96v3.93h-4.96zM337.5,120.9h4.96v3.93h-4.96zM337.5,124.8h4.96v3.93h-4.96zM342.4,128.6h4.96v3.93h-4.96zM347.2,132.4h4.96v3.93h-4.96zM352.1,136.2h9.82v3.93h-9.82zM356.9,140.1h14.68v3.93h-14.68zM755.5,140.1h9.82v3.93h-9.82zM366.7,143.9h19.54v3.93h-19.54zM736,143.9h14.68v3.93h-14.68zM376.4,147.7h19.54v3.93h-19.54zM721.4,147.7h19.54v3.93h-19.54zM386.1,151.5h14.68v3.93h-14.68zM711.7,151.5h14.68v3.93h-14.68zM395.8,155.3h14.68v3.93h-14.68zM702,155.3h14.68v3.93h-14.68zM405.5,159.2h14.68v3.93h-14.68zM692.3,159.2h14.68v3.93h-14.68zM415.3,163h9.82v3.93h-9.82zM682.6,163h9.82v3.93h-9.82zM420.1,166.8h9.82v3.93h-9.82zM672.8,166.8h9.82v3.93h-9.82zM425,170.7h9.82v3.93h-9.82zM663.1,170.7h4.96v3.93h-4.96zM429.8,174.5h9.82v3.93h-9.82zM434.7,178.3h9.82v3.93h-9.82zM439.6,182.1h4.96v3.93h-4.96zM439.6,185.9h4.96v3.93h-4.96zM444.4,189.8h4.96v3.93h-4.96zM614.5,189.8h9.82v3.93h-9.82zM444.4,193.6h4.96v3.93h-4.96zM604.8,193.6h9.82v3.93h-9.82zM444.4,197.4h4.96v3.93h-4.96zM595.1,197.4h9.82v3.93h-9.82zM444.4,201.2h4.96v3.93h-4.96zM585.4,201.2h4.96v3.93h-4.96zM575.6,205.1h4.96v3.93h-4.96zM449.3,208.9h4.96v3.93h-4.96zM565.9,208.9h9.82v3.93h-9.82zM449.3,212.7h4.96v3.93h-4.96zM561.1,212.7h4.96v3.93h-4.96zM449.3,216.6h4.96v3.93h-4.96zM556.2,216.6h4.96v3.93h-4.96zM449.3,220.4h4.96v3.93h-4.96zM551.3,220.4h4.96v3.93h-4.96zM551.3,224.2h4.96v3.93h-4.96zM454.1,228h4.96v3.93h-4.96zM546.5,228h4.96v3.93h-4.96zM541.6,231.8h4.96v3.93h-4.96zM459,235.7h4.96v3.93h-4.96zM541.6,235.7h4.96v3.93h-4.96zM463.8,239.5h4.96v3.93h-4.96zM536.8,239.5h4.96v3.93h-4.96zM468.7,243.3h4.96v3.93h-4.96zM531.9,243.3h4.96v3.93h-4.96zM473.6,247.2h4.96v3.93h-4.96zM522.2,247.2h9.82v3.93h-9.82zM483.3,251h38.98v3.93h-38.98z"/>
<path fill="#fba924" d="M322.9,90.3h4.96v3.93h-4.96zM322.9,94.2h9.82v3.93h-9.82zM327.8,98h4.96v3.93h-4.96zM327.8,101.8h9.82v3.93h-9.82zM327.8,105.6h9.82v3.93h-9.82zM332.6,109.5h4.96v3.93h-4.96zM337.5,113.3h4.96v3.93h-4.96zM337.5,117.1h9.82v3.93h-9.82zM342.4,120.9h4.96v3.93h-4.96zM342.4,124.8h9.82v3.93h-9.82zM347.2,128.6h9.82v3.93h-9.82zM352.1,132.4h14.68v3.93h-14.68zM361.8,136.2h19.54v3.93h-19.54zM760.3,136.2h9.82v3.93h-9.82zM371.5,140.1h19.54v3.93h-19.54zM721.4,140.1h34.12v3.93h-34.12zM386.1,143.9h14.68v3.93h-14.68zM711.7,143.9h24.40v3.93h-24.40zM395.8,147.7h9.82v3.93h-9.82zM706.9,147.7h14.68v3.93h-14.68zM400.7,151.5h14.68v3.93h-14.68zM697.1,151.5h14.68v3.93h-14.68zM410.4,155.3h9.82v3.93h-9.82zM687.4,155.3h14.68v3.93h-14.68zM420.1,159.2h9.82v3.93h-9.82zM682.6,159.2h9.82v3.93h-9.82zM425,163h9.82v3.93h-9.82zM672.8,163h9.82v3.93h-9.82zM429.8,166.8h9.82v3.93h-9.82zM663.1,166.8h9.82v3.93h-9.82zM434.7,170.7h9.82v3.93h-9.82zM653.4,170.7h9.82v3.93h-9.82zM439.6,174.5h4.96v3.93h-4.96zM444.4,178.3h4.96v3.93h-4.96zM444.4,182.1h4.96v3.93h-4.96zM444.4,185.9h4.96v3.93h-4.96zM619.4,185.9h4.96v3.93h-4.96zM449.3,189.8h4.96v3.93h-4.96zM609.7,189.8h4.96v3.93h-4.96zM449.3,193.6h4.96v3.93h-4.96zM595.1,193.6h9.82v3.93h-9.82zM449.3,197.4h4.96v3.93h-4.96zM585.4,197.4h9.82v3.93h-9.82zM449.3,201.2h4.96v3.93h-4.96zM575.6,201.2h9.82v3.93h-9.82zM449.3,205.1h4.96v3.93h-4.96zM565.9,205.1h9.82v3.93h-9.82zM561.1,208.9h4.96v3.93h-4.96zM556.2,212.7h4.96v3.93h-4.96zM454.1,216.6h4.96v3.93h-4.96zM551.3,216.6h4.96v3.93h-4.96zM454.1,220.4h4.96v3.93h-4.96zM546.5,220.4h4.96v3.93h-4.96zM454.1,224.2h4.96v3.93h-4.96zM546.5,224.2h4.96v3.93h-4.96zM459,228h4.96v3.93h-4.96zM541.6,228h4.96v3.93h-4.96zM459,231.8h4.96v3.93h-4.96zM463.8,235.7h4.96v3.93h-4.96zM536.8,235.7h4.96v3.93h-4.96zM531.9,239.5h4.96v3.93h-4.96zM473.6,243.3h4.96v3.93h-4.96zM527,243.3h4.96v3.93h-4.96zM478.4,247.2h4.96v3.93h-4.96zM517.3,247.2h4.96v3.93h-4.96z"/>
<path fill="#faa026" d="M332.6,94.2h4.96v3.93h-4.96zM332.6,98h9.82v3.93h-9.82zM337.5,101.8h4.96v3.93h-4.96zM337.5,105.6h4.96v3.93h-4.96zM337.5,109.5h9.82v3.93h-9.82zM342.4,113.3h4.96v3.93h-4.96zM347.2,117.1h4.96v3.93h-4.96zM347.2,120.9h9.82v3.93h-9.82zM352.1,124.8h9.82v3.93h-9.82zM356.9,128.6h14.68v3.93h-14.68zM366.7,132.4h19.54v3.93h-19.54zM381.2,136.2h14.68v3.93h-14.68zM716.6,136.2h43.84v3.93h-43.84zM390.9,140.1h9.82v3.93h-9.82zM711.7,140.1h9.82v3.93h-9.82zM400.7,143.9h9.82v3.93h-9.82zM702,143.9h9.82v3.93h-9.82zM405.5,147.7h9.82v3.93h-9.82zM697.1,147.7h9.82v3.93h-9.82zM415.3,151.5h9.82v3.93h-9.82zM687.4,151.5h9.82v3.93h-9.82zM420.1,155.3h9.82v3.93h-9.82zM677.7,155.3h9.82v3.93h-9.82zM429.8,159.2h4.96v3.93h-4.96zM672.8,159.2h9.82v3.93h-9.82zM434.7,163h4.96v3.93h-4.96zM663.1,163h9.82v3.93h-9.82zM439.6,166.8h4.96v3.93h-4.96zM653.4,166.8h9.82v3.93h-9.82zM648.5,170.7h4.96v3.93h-4.96zM444.4,174.5h4.96v3.93h-4.96zM449.3,182.1h4.96v3.93h-4.96zM619.4,182.1h9.82v3.93h-9.82zM449.3,185.9h4.96v3.93h-4.96zM609.7,185.9h9.82v3.93h-9.82zM599.9,189.8h9.82v3.93h-9.82zM454.1,193.6h4.96v3.93h-4.96zM590.2,193.6h4.96v3.93h-4.96zM454.1,197.4h4.96v3.93h-4.96zM575.6,197.4h9.82v3.93h-9.82zM454.1,201.2h4.96v3.93h-4.96zM570.8,201.2h4.96v3.93h-4.96zM454.1,205.1h4.96v3.93h-4.96zM561.1,205.1h4.96v3.93h-4.96zM454.1,208.9h4.96v3.93h-4.96zM556.2,208.9h4.96v3.93h-4.96zM454.1,212.7h4.96v3.93h-4.96zM551.3,212.7h4.96v3.93h-4.96zM546.5,216.6h4.96v3.93h-4.96zM459,220.4h4.96v3.93h-4.96zM459,224.2h4.96v3.93h-4.96zM541.6,224.2h4.96v3.93h-4.96zM536.8,228h4.96v3.93h-4.96zM463.8,231.8h4.96v3.93h-4.96zM536.8,231.8h4.96v3.93h-4.96zM531.9,235.7h4.96v3.93h-4.96zM468.7,239.5h4.96v3.93h-4.96zM527,239.5h4.96v3.93h-4.96zM478.4,243.3h4.96v3.93h-4.96zM517.3,243.3h9.82v3.93h-9.82zM483.3,247.2h34.12v3.93h-34.12z"/>
<path fill="#f89a28" d="M337.5,94.2h4.96v3.93h-4.96zM342.4,98h4.96v3.93h-4.96zM342.4,101.8h4.96v3.93h-4.96zM342.4,105.6h9.82v3.93h-9.82zM347.2,109.5h4.96v3.93h-4.96zM347.2,113.3h9.82v3.93h-9.82zM352.1,117.1h9.82v3.93h-9.82zM356.9,120.9h9.82v3.93h-9.82zM361.8,124.8h19.54v3.93h-19.54zM371.5,128.6h14.68v3.93h-14.68zM386.1,132.4h9.82v3.93h-9.82zM716.6,132.4h53.56v3.93h-53.56zM395.8,136.2h4.96v3.93h-4.96zM706.9,136.2h9.82v3.93h-9.82zM400.7,140.1h9.82v3.93h-9.82zM702,140.1h9.82v3.93h-9.82zM410.4,143.9h9.82v3.93h-9.82zM692.3,143.9h9.82v3.93h-9.82zM415.3,147.7h9.82v3.93h-9.82zM687.4,147.7h9.82v3.93h-9.82zM425,151.5h4.96v3.93h-4.96zM677.7,151.5h9.82v3.93h-9.82zM429.8,155.3h4.96v3.93h-4.96zM672.8,155.3h4.96v3.93h-4.96zM434.7,159.2h4.96v3.93h-4.96zM663.1,159.2h9.82v3.93h-9.82zM439.6,163h4.96v3.93h-4.96zM653.4,163h9.82v3.93h-9.82zM444.4,166.8h4.96v3.93h-4.96zM648.5,166.8h4.96v3.93h-4.96zM444.4,170.7h4.96v3.93h-4.96zM638.8,170.7h9.82v3.93h-9.82zM449.3,174.5h4.96v3.93h-4.96zM449.3,178.3h4.96v3.93h-4.96zM624.2,178.3h4.96v3.93h-4.96zM454.1,182.1h4.96v3.93h-4.96zM614.5,182.1h4.96v3.93h-4.96zM454.1,185.9h4.96v3.93h-4.96zM604.8,185.9h4.96v3.93h-4.96zM454.1,189.8h4.96v3.93h-4.96zM590.2,189.8h9.82v3.93h-9.82zM580.5,193.6h9.82v3.93h-9.82zM459,197.4h4.96v3.93h-4.96zM570.8,197.4h4.96v3.93h-4.96zM459,201.2h4.96v3.93h-4.96zM561.1,201.2h9.82v3.93h-9.82zM459,205.1h4.96v3.93h-4.96zM556.2,205.1h4.96v3.93h-4.96zM459,208.9h4.96v3.93h-4.96zM551.3,208.9h4.96v3.93h-4.96zM459,212.7h4.96v3.93h-4.96zM546.5,212.7h4.96v3.93h-4.96zM459,216.6h4.96v3.93h-4.96zM541.6,216.6h4.96v3.93h-4.96zM541.6,220.4h4.96v3.93h-4.96zM463.8,224.2h4.96v3.93h-4.96zM536.8,224.2h4.96v3.93h-4.96zM463.8,228h4.96v3.93h-4.96zM468.7,231.8h4.96v3.93h-4.96zM531.9,231.8h4.96v3.93h-4.96zM468.7,235.7h4.96v3.93h-4.96zM527,235.7h4.96v3.93h-4.96zM473.6,239.5h4.96v3.93h-4.96zM522.2,239.5h4.96v3.93h-4.96zM483.3,243.3h14.68v3.93h-14.68zM507.6,243.3h9.82v3.93h-9.82z"/>
<path fill="#f7932a" d="M347.2,98h4.96v3.93h-4.96zM347.2,101.8h4.96v3.93h-4.96zM352.1,105.6h4.96v3.93h-4.96zM352.1,109.5h4.96v3.93h-4.96zM356.9,113.3h4.96v3.93h-4.96zM361.8,117.1h9.82v3.93h-9.82zM366.7,120.9h14.68v3.93h-14.68zM381.2,124.8h9.82v3.93h-9.82zM386.1,128.6h9.82v3.93h-9.82zM716.6,128.6h53.56v3.93h-53.56zM395.8,132.4h9.82v3.93h-9.82zM706.9,132.4h9.82v3.93h-9.82zM400.7,136.2h9.82v3.93h-9.82zM702,136.2h4.96v3.93h-4.96zM410.4,140.1h9.82v3.93h-9.82zM692.3,140.1h9.82v3.93h-9.82zM420.1,143.9h4.96v3.93h-4.96zM687.4,143.9h4.96v3.93h-4.96zM425,147.7h4.96v3.93h-4.96zM677.7,147.7h9.82v3.93h-9.82zM429.8,151.5h4.96v3.93h-4.96zM672.8,151.5h4.96v3.93h-4.96zM434.7,155.3h4.96v3.93h-4.96zM663.1,155.3h9.82v3.93h-9.82zM439.6,159.2h4.96v3.93h-4.96zM653.4,159.2h9.82v3.93h-9.82zM444.4,163h4.96v3.93h-4.96zM648.5,163h4.96v3.93h-4.96zM449.3,166.8h4.96v3.93h-4.96zM643.7,166.8h4.96v3.93h-4.96zM449.3,170.7h4.96v3.93h-4.96zM634,170.7h4.96v3.93h-4.96zM454.1,174.5h4.96v3.93h-4.96zM624.2,174.5h4.96v3.93h-4.96zM454.1,178.3h4.96v3.93h-4.96zM614.5,178.3h9.82v3.93h-9.82zM459,182.1h4.96v3.93h-4.96zM604.8,182.1h9.82v3.93h-9.82zM459,185.9h4.96v3.93h-4.96zM595.1,185.9h9.82v3.93h-9.82zM459,189.8h4.96v3.93h-4.96zM580.5,189.8h9.82v3.93h-9.82zM459,193.6h4.96v3.93h-4.96zM570.8,193.6h9.82v3.93h-9.82zM561.1,197.4h9.82v3.93h-9.82zM556.2,201.2h4.96v3.93h-4.96zM551.3,205.1h4.96v3.93h-4.96zM463.8,208.9h4.96v3.93h-4.96zM546.5,208.9h4.96v3.93h-4.96zM463.8,212.7h4.96v3.93h-4.96zM541.6,212.7h4.96v3.93h-4.96zM463.8,216.6h4.96v3.93h-4.96zM463.8,220.4h4.96v3.93h-4.96zM536.8,220.4h4.96v3.93h-4.96zM531.9,224.2h4.96v3.93h-4.96zM468.7,228h4.96v3.93h-4.96zM531.9,228h4.96v3.93h-4.96zM527,231.8h4.96v3.93h-4.96zM473.6,235.7h4.96v3.93h-4.96zM522.2,235.7h4.96v3.93h-4.96zM478.4,239.5h9.82v3.93h-9.82zM512.5,239.5h9.82v3.93h-9.82zM497.9,243.3h9.82v3.93h-9.82z"/>
<path fill="#f78e2c" d="M352.1,101.8h4.96v3.93h-4.96zM356.9,105.6h4.96v3.93h-4.96zM356.9,109.5h9.82v3.93h-9.82zM361.8,113.3h9.82v3.93h-9.82zM371.5,117.1h9.82v3.93h-9.82zM381.2,120.9h9.82v3.93h-9.82zM390.9,124.8h4.96v3.93h-4.96zM721.4,124.8h24.40v3.93h-24.40zM395.8,128.6h9.82v3.93h-9.82zM711.7,128.6h4.96v3.93h-4.96zM405.5,132.4h4.96v3.93h-4.96zM702,132.4h4.96v3.93h-4.96zM410.4,136.2h9.82v3.93h-9.82zM697.1,136.2h4.96v3.93h-4.96zM420.1,140.1h4.96v3.93h-4.96zM687.4,140.1h4.96v3.93h-4.96zM425,143.9h4.96v3.93h-4.96zM677.7,143.9h9.82v3.93h-9.82zM429.8,147.7h9.82v3.93h-9.82zM672.8,147.7h4.96v3.93h-4.96zM434.7,151.5h9.82v3.93h-9.82zM663.1,151.5h9.82v3.93h-9.82zM439.6,155.3h4.96v3.93h-4.96zM658.3,155.3h4.96v3.93h-4.96zM444.4,159.2h4.96v3.93h-4.96zM648.5,159.2h4.96v3.93h-4.96zM449.3,163h4.96v3.93h-4.96zM643.7,163h4.96v3.93h-4.96zM454.1,166.8h4.96v3.93h-4.96zM634,166.8h9.82v3.93h-9.82zM454.1,170.7h4.96v3.93h-4.96zM629.1,170.7h4.96v3.93h-4.96zM459,174.5h4.96v3.93h-4.96zM619.4,174.5h4.96v3.93h-4.96zM459,178.3h4.96v3.93h-4.96zM609.7,178.3h4.96v3.93h-4.96zM595.1,182.1h9.82v3.93h-9.82zM463.8,185.9h4.96v3.93h-4.96zM585.4,185.9h9.82v3.93h-9.82zM463.8,189.8h4.96v3.93h-4.96zM570.8,189.8h9.82v3.93h-9.82zM463.8,193.6h4.96v3.93h-4.96zM561.1,193.6h9.82v3.93h-9.82zM463.8,197.4h4.96v3.93h-4.96zM556.2,197.4h4.96v3.93h-4.96zM463.8,201.2h4.96v3.93h-4.96zM551.3,201.2h4.96v3.93h-4.96zM463.8,205.1h4.96v3.93h-4.96zM546.5,205.1h4.96v3.93h-4.96zM541.6,208.9h4.96v3.93h-4.96zM536.8,212.7h4.96v3.93h-4.96zM468.7,216.6h4.96v3.93h-4.96zM536.8,216.6h4.96v3.93h-4.96zM468.7,220.4h4.96v3.93h-4.96zM531.9,220.4h4.96v3.93h-4.96zM468.7,224.2h4.96v3.93h-4.96zM527,224.2h4.96v3.93h-4.96zM473.6,228h4.96v3.93h-4.96zM527,228h4.96v3.93h-4.96zM473.6,231.8h4.96v3.93h-4.96zM522.2,231.8h4.96v3.93h-4.96zM478.4,235.7h9.82v3.93h-9.82zM517.3,235.7h4.96v3.93h-4.96zM488.2,239.5h24.40v3.93h-24.40z"/>
<path fill="#f68a30" d="M356.9,101.8h4.96v3.93h-4.96zM361.8,105.6h4.96v3.93h-4.96zM366.7,109.5h4.96v3.93h-4.96zM371.5,113.3h9.82v3.93h-9.82zM381.2,117.1h9.82v3.93h-9.82zM390.9,120.9h4.96v3.93h-4.96zM726.3,120.9h9.82v3.93h-9.82zM395.8,124.8h9.82v3.93h-9.82zM716.6,124.8h4.96v3.93h-4.96zM745.7,124.8h14.68v3.93h-14.68zM405.5,128.6h4.96v3.93h-4.96zM706.9,128.6h4.96v3.93h-4.96zM410.4,132.4h9.82v3.93h-9.82zM697.1,132.4h4.96v3.93h-4.96zM420.1,136.2h4.96v3.93h-4.96zM687.4,136.2h9.82v3.93h-9.82zM425,140.1h4.96v3.93h-4.96zM677.7,140.1h9.82v3.93h-9.82zM429.8,143.9h9.82v3.93h-9.82zM672.8,143.9h4.96v3.93h-4.96zM439.6,147.7h4.96v3.93h-4.96zM663.1,147.7h9.82v3.93h-9.82zM444.4,151.5h4.96v3.93h-4.96zM658.3,151.5h4.96v3.93h-4.96zM444.4,155.3h4.96v3.93h-4.96zM648.5,155.3h9.82v3.93h-9.82zM449.3,159.2h4.96v3.93h-4.96zM643.7,159.2h4.96v3.93h-4.96zM454.1,163h4.96v3.93h-4.96zM638.8,163h4.96v3.93h-4.96zM459,166.8h4.96v3.93h-4.96zM629.1,166.8h4.96v3.93h-4.96zM459,170.7h4.96v3.93h-4.96zM619.4,170.7h9.82v3.93h-9.82zM609.7,174.5h9.82v3.93h-9.82zM463.8,178.3h4.96v3.93h-4.96zM599.9,178.3h9.82v3.93h-9.82zM463.8,182.1h4.96v3.93h-4.96zM585.4,182.1h9.82v3.93h-9.82zM468.7,185.9h4.96v3.93h-4.96zM575.6,185.9h9.82v3.93h-9.82zM468.7,189.8h4.96v3.93h-4.96zM565.9,189.8h4.96v3.93h-4.96zM468.7,193.6h4.96v3.93h-4.96zM556.2,193.6h4.96v3.93h-4.96zM468.7,197.4h4.96v3.93h-4.96zM551.3,197.4h4.96v3.93h-4.96zM468.7,201.2h4.96v3.93h-4.96zM546.5,201.2h4.96v3.93h-4.96zM468.7,205.1h4.96v3.93h-4.96zM541.6,205.1h4.96v3.93h-4.96zM468.7,208.9h4.96v3.93h-4.96zM536.8,208.9h4.96v3.93h-4.96zM468.7,212.7h4.96v3.93h-4.96zM531.9,212.7h4.96v3.93h-4.96zM473.6,216.6h4.96v3.93h-4.96zM531.9,216.6h4.96v3.93h-4.96zM473.6,220.4h4.96v3.93h-4.96zM527,220.4h4.96v3.93h-4.96zM473.6,224.2h4.96v3.93h-4.96zM522.2,224.2h4.96v3.93h-4.96zM478.4,228h4.96v3.93h-4.96zM522.2,228h4.96v3.93h-4.96zM478.4,231.8h9.82v3.93h-9.82zM517.3,231.8h4.96v3.93h-4.96zM488.2,235.7h29.26v3.93h-29.26z"/>
<path fill="#f58534" d="M361.8,101.8h4.96v3.93h-4.96zM366.7,105.6h4.96v3.93h-4.96zM371.5,109.5h9.82v3.93h-9.82zM381.2,113.3h9.82v3.93h-9.82zM390.9,117.1h4.96v3.93h-4.96zM395.8,120.9h9.82v3.93h-9.82zM721.4,120.9h4.96v3.93h-4.96zM736,120.9h14.68v3.93h-14.68zM405.5,124.8h4.96v3.93h-4.96zM706.9,124.8h9.82v3.93h-9.82zM410.4,128.6h4.96v3.93h-4.96zM697.1,128.6h9.82v3.93h-9.82zM420.1,132.4h4.96v3.93h-4.96zM692.3,132.4h4.96v3.93h-4.96zM425,136.2h4.96v3.93h-4.96zM682.6,136.2h4.96v3.93h-4.96zM429.8,140.1h4.96v3.93h-4.96zM672.8,140.1h4.96v3.93h-4.96zM439.6,143.9h4.96v3.93h-4.96zM668,143.9h4.96v3.93h-4.96zM444.4,147.7h4.96v3.93h-4.96zM658.3,147.7h4.96v3.93h-4.96zM648.5,151.5h9.82v3.93h-9.82zM449.3,155.3h4.96v3.93h-4.96zM643.7,155.3h4.96v3.93h-4.96zM454.1,159.2h4.96v3.93h-4.96zM638.8,159.2h4.96v3.93h-4.96zM459,163h4.96v3.93h-4.96zM629.1,163h9.82v3.93h-9.82zM624.2,166.8h4.96v3.93h-4.96zM463.8,170.7h4.96v3.93h-4.96zM614.5,170.7h4.96v3.93h-4.96zM463.8,174.5h4.96v3.93h-4.96zM604.8,174.5h4.96v3.93h-4.96zM468.7,178.3h4.96v3.93h-4.96zM590.2,178.3h9.82v3.93h-9.82zM468.7,182.1h4.96v3.93h-4.96zM580.5,182.1h4.96v3.93h-4.96zM565.9,185.9h9.82v3.93h-9.82zM473.6,189.8h4.96v3.93h-4.96zM556.2,189.8h9.82v3.93h-9.82zM473.6,193.6h4.96v3.93h-4.96zM551.3,193.6h4.96v3.93h-4.96zM473.6,197.4h4.96v3.93h-4.96zM541.6,197.4h9.82v3.93h-9.82zM473.6,201.2h4.96v3.93h-4.96zM536.8,201.2h9.82v3.93h-9.82zM473.6,205.1h4.96v3.93h-4.96zM536.8,205.1h4.96v3.93h-4.96zM473.6,208.9h4.96v3.93h-4.96zM531.9,208.9h4.96v3.93h-4.96zM473.6,212.7h4.96v3.93h-4.96zM527,212.7h4.96v3.93h-4.96zM478.4,216.6h4.96v3.93h-4.96zM527,216.6h4.96v3.93h-4.96zM478.4,220.4h4.96v3.93h-4.96zM522.2,220.4h4.96v3.93h-4.96zM478.4,224.2h4.96v3.93h-4.96zM517.3,224.2h4.96v3.93h-4.96zM483.3,228h9.82v3.93h-9.82zM512.5,228h9.82v3.93h-9.82zM488.2,231.8h29.26v3.93h-29.26z"/>
<path fill="#f47f41" d="M371.5,105.6h9.82v3.93h-9.82zM381.2,109.5h4.96v3.93h-4.96zM390.9,113.3h4.96v3.93h-4.96zM395.8,117.1h4.96v3.93h-4.96zM726.3,117.1h14.68v3.93h-14.68zM405.5,120.9h4.96v3.93h-4.96zM716.6,120.9h4.96v3.93h-4.96zM410.4,124.8h4.96v3.93h-4.96zM702,124.8h4.96v3.93h-4.96zM415.3,128.6h9.82v3.93h-9.82zM692.3,128.6h4.96v3.93h-4.96zM425,132.4h4.96v3.93h-4.96zM682.6,132.4h9.82v3.93h-9.82zM429.8,136.2h4.96v3.93h-4.96zM677.7,136.2h4.96v3.93h-4.96zM434.7,140.1h4.96v3.93h-4.96zM668,140.1h4.96v3.93h-4.96zM658.3,143.9h9.82v3.93h-9.82zM653.4,147.7h4.96v3.93h-4.96zM449.3,151.5h4.96v3.93h-4.96zM643.7,151.5h4.96v3.93h-4.96zM454.1,155.3h4.96v3.93h-4.96zM638.8,155.3h4.96v3.93h-4.96zM459,159.2h4.96v3.93h-4.96zM634,159.2h4.96v3.93h-4.96zM463.8,163h4.96v3.93h-4.96zM624.2,163h4.96v3.93h-4.96zM463.8,166.8h4.96v3.93h-4.96zM614.5,166.8h9.82v3.93h-9.82zM468.7,170.7h4.96v3.93h-4.96zM604.8,170.7h9.82v3.93h-9.82zM468.7,174.5h4.96v3.93h-4.96zM595.1,174.5h9.82v3.93h-9.82zM473.6,178.3h4.96v3.93h-4.96zM580.5,178.3h9.82v3.93h-9.82zM473.6,182.1h4.96v3.93h-4.96zM570.8,182.1h9.82v3.93h-9.82zM473.6,185.9h4.96v3.93h-4.96zM561.1,185.9h4.96v3.93h-4.96zM478.4,189.8h4.96v3.93h-4.96zM551.3,189.8h4.96v3.93h-4.96zM478.4,193.6h4.96v3.93h-4.96zM541.6,193.6h9.82v3.93h-9.82zM478.4,197.4h4.96v3.93h-4.96zM536.8,197.4h4.96v3.93h-4.96zM478.4,201.2h4.96v3.93h-4.96zM531.9,201.2h4.96v3.93h-4.96zM478.4,205.1h4.96v3.93h-4.96zM531.9,205.1h4.96v3.93h-4.96zM478.4,208.9h4.96v3.93h-4.96zM527,208.9h4.96v3.93h-4.96zM478.4,212.7h9.82v3.93h-9.82zM522.2,212.7h4.96v3.93h-4.96zM483.3,216.6h4.96v3.93h-4.96zM517.3,216.6h9.82v3.93h-9.82zM483.3,220.4h4.96v3.93h-4.96zM512.5,220.4h9.82v3.93h-9.82zM483.3,224.2h34.12v3.93h-34.12zM493,228h19.54v3.93h-19.54z"/>
<path fill="#f2765c" d="M381.2,105.6h4.96v3.93h-4.96zM386.1,109.5h4.96v3.93h-4.96zM395.8,113.3h4.96v3.93h-4.96zM400.7,117.1h9.82v3.93h-9.82zM721.4,117.1h4.96v3.93h-4.96zM410.4,120.9h4.96v3.93h-4.96zM706.9,120.9h9.82v3.93h-9.82zM415.3,124.8h4.96v3.93h-4.96zM697.1,124.8h4.96v3.93h-4.96zM425,128.6h4.96v3.93h-4.96zM687.4,128.6h4.96v3.93h-4.96zM429.8,132.4h4.96v3.93h-4.96zM677.7,132.4h4.96v3.93h-4.96zM434.7,136.2h4.96v3.93h-4.96zM668,136.2h9.82v3.93h-9.82zM439.6,140.1h4.96v3.93h-4.96zM663.1,140.1h4.96v3.93h-4.96zM444.4,143.9h4.96v3.93h-4.96zM653.4,143.9h4.96v3.93h-4.96zM449.3,147.7h4.96v3.93h-4.96zM648.5,147.7h4.96v3.93h-4.96zM454.1,151.5h4.96v3.93h-4.96zM638.8,151.5h4.96v3.93h-4.96zM459,155.3h4.96v3.93h-4.96zM634,155.3h4.96v3.93h-4.96zM463.8,159.2h4.96v3.93h-4.96zM624.2,159.2h9.82v3.93h-9.82zM468.7,163h4.96v3.93h-4.96zM619.4,163h4.96v3.93h-4.96zM468.7,166.8h4.96v3.93h-4.96zM609.7,166.8h4.96v3.93h-4.96zM473.6,170.7h4.96v3.93h-4.96zM595.1,170.7h9.82v3.93h-9.82zM473.6,174.5h4.96v3.93h-4.96zM585.4,174.5h9.82v3.93h-9.82zM478.4,178.3h4.96v3.93h-4.96zM575.6,178.3h4.96v3.93h-4.96zM478.4,182.1h4.96v3.93h-4.96zM561.1,182.1h9.82v3.93h-9.82zM478.4,185.9h4.96v3.93h-4.96zM551.3,185.9h9.82v3.93h-9.82zM483.3,189.8h4.96v3.93h-4.96zM541.6,189.8h9.82v3.93h-9.82zM483.3,193.6h4.96v3.93h-4.96zM536.8,193.6h4.96v3.93h-4.96zM483.3,197.4h4.96v3.93h-4.96zM531.9,197.4h4.96v3.93h-4.96zM483.3,201.2h4.96v3.93h-4.96zM527,201.2h4.96v3.93h-4.96zM483.3,205.1h9.82v3.93h-9.82zM522.2,205.1h9.82v3.93h-9.82zM483.3,208.9h9.82v3.93h-9.82zM517.3,208.9h9.82v3.93h-9.82zM488.2,212.7h9.82v3.93h-9.82zM512.5,212.7h9.82v3.93h-9.82zM488.2,216.6h29.26v3.93h-29.26zM488.2,220.4h24.40v3.93h-24.40z"/>
<path fill="#f07168" d="M386.1,105.6h4.96v3.93h-4.96zM390.9,109.5h9.82v3.93h-9.82zM400.7,113.3h4.96v3.93h-4.96zM410.4,117.1h4.96v3.93h-4.96zM716.6,117.1h4.96v3.93h-4.96zM415.3,120.9h4.96v3.93h-4.96zM702,120.9h4.96v3.93h-4.96zM420.1,124.8h9.82v3.93h-9.82zM692.3,124.8h4.96v3.93h-4.96zM429.8,128.6h4.96v3.93h-4.96zM682.6,128.6h4.96v3.93h-4.96zM434.7,132.4h4.96v3.93h-4.96zM672.8,132.4h4.96v3.93h-4.96zM439.6,136.2h4.96v3.93h-4.96zM663.1,136.2h4.96v3.93h-4.96zM444.4,140.1h4.96v3.93h-4.96zM653.4,140.1h9.82v3.93h-9.82zM449.3,143.9h4.96v3.93h-4.96zM648.5,143.9h4.96v3.93h-4.96zM454.1,147.7h4.96v3.93h-4.96zM638.8,147.7h9.82v3.93h-9.82zM459,151.5h4.96v3.93h-4.96zM634,151.5h4.96v3.93h-4.96zM463.8,155.3h4.96v3.93h-4.96zM629.1,155.3h4.96v3.93h-4.96zM468.7,159.2h4.96v3.93h-4.96zM619.4,159.2h4.96v3.93h-4.96zM473.6,163h4.96v3.93h-4.96zM609.7,163h9.82v3.93h-9.82zM473.6,166.8h4.96v3.93h-4.96zM599.9,166.8h9.82v3.93h-9.82zM478.4,170.7h4.96v3.93h-4.96zM590.2,170.7h4.96v3.93h-4.96zM478.4,174.5h4.96v3.93h-4.96zM575.6,174.5h9.82v3.93h-9.82zM483.3,178.3h4.96v3.93h-4.96zM565.9,178.3h9.82v3.93h-9.82zM483.3,182.1h4.96v3.93h-4.96zM551.3,182.1h9.82v3.93h-9.82zM483.3,185.9h9.82v3.93h-9.82zM541.6,185.9h9.82v3.93h-9.82zM488.2,189.8h4.96v3.93h-4.96zM531.9,189.8h9.82v3.93h-9.82zM488.2,193.6h4.96v3.93h-4.96zM527,193.6h9.82v3.93h-9.82zM488.2,197.4h9.82v3.93h-9.82zM522.2,197.4h9.82v3.93h-9.82zM488.2,201.2h9.82v3.93h-9.82zM517.3,201.2h9.82v3.93h-9.82zM493,205.1h29.26v3.93h-29.26zM493,208.9h24.40v3.93h-24.40zM497.9,212.7h14.68v3.93h-14.68z"/>
<path fill="#ef6964" d="M390.9,105.6h4.96v3.93h-4.96zM400.7,109.5h4.96v3.93h-4.96zM405.5,113.3h9.82v3.93h-9.82zM415.3,117.1h4.96v3.93h-4.96zM711.7,117.1h4.96v3.93h-4.96zM420.1,120.9h4.96v3.93h-4.96zM697.1,120.9h4.96v3.93h-4.96zM429.8,124.8h4.96v3.93h-4.96zM682.6,124.8h9.82v3.93h-9.82zM434.7,128.6h4.96v3.93h-4.96zM677.7,128.6h4.96v3.93h-4.96zM439.6,132.4h4.96v3.93h-4.96zM668,132.4h4.96v3.93h-4.96zM444.4,136.2h4.96v3.93h-4.96zM658.3,136.2h4.96v3.93h-4.96zM449.3,140.1h4.96v3.93h-4.96zM648.5,140.1h4.96v3.93h-4.96zM454.1,143.9h4.96v3.93h-4.96zM643.7,143.9h4.96v3.93h-4.96zM459,147.7h4.96v3.93h-4.96zM634,147.7h4.96v3.93h-4.96zM463.8,151.5h4.96v3.93h-4.96zM629.1,151.5h4.96v3.93h-4.96zM468.7,155.3h4.96v3.93h-4.96zM619.4,155.3h9.82v3.93h-9.82zM473.6,159.2h4.96v3.93h-4.96zM614.5,159.2h4.96v3.93h-4.96zM478.4,163h4.96v3.93h-4.96zM604.8,163h4.96v3.93h-4.96zM478.4,166.8h4.96v3.93h-4.96zM590.2,166.8h9.82v3.93h-9.82zM483.3,170.7h4.96v3.93h-4.96zM580.5,170.7h9.82v3.93h-9.82zM483.3,174.5h9.82v3.93h-9.82zM565.9,174.5h9.82v3.93h-9.82zM488.2,178.3h4.96v3.93h-4.96zM556.2,178.3h9.82v3.93h-9.82zM488.2,182.1h9.82v3.93h-9.82zM541.6,182.1h9.82v3.93h-9.82zM493,185.9h4.96v3.93h-4.96zM531.9,185.9h9.82v3.93h-9.82zM493,189.8h9.82v3.93h-9.82zM522.2,189.8h9.82v3.93h-9.82zM493,193.6h14.68v3.93h-14.68zM512.5,193.6h14.68v3.93h-14.68zM497.9,197.4h24.40v3.93h-24.40zM497.9,201.2h19.54v3.93h-19.54z"/>
<path fill="#ec5a59" d="M395.8,105.6h9.82v3.93h-9.82zM405.5,109.5h9.82v3.93h-9.82zM415.3,113.3h4.96v3.93h-4.96zM420.1,117.1h4.96v3.93h-4.96zM706.9,117.1h4.96v3.93h-4.96zM425,120.9h9.82v3.93h-9.82zM687.4,120.9h9.82v3.93h-9.82zM434.7,124.8h4.96v3.93h-4.96zM677.7,124.8h4.96v3.93h-4.96zM439.6,128.6h4.96v3.93h-4.96zM668,128.6h9.82v3.93h-9.82zM444.4,132.4h4.96v3.93h-4.96zM658.3,132.4h9.82v3.93h-9.82zM449.3,136.2h4.96v3.93h-4.96zM653.4,136.2h4.96v3.93h-4.96zM454.1,140.1h4.96v3.93h-4.96zM643.7,140.1h4.96v3.93h-4.96zM459,143.9h4.96v3.93h-4.96zM638.8,143.9h4.96v3.93h-4.96zM463.8,147.7h4.96v3.93h-4.96zM629.1,147.7h4.96v3.93h-4.96zM468.7,151.5h4.96v3.93h-4.96zM624.2,151.5h4.96v3.93h-4.96zM473.6,155.3h4.96v3.93h-4.96zM614.5,155.3h4.96v3.93h-4.96zM478.4,159.2h4.96v3.93h-4.96zM604.8,159.2h9.82v3.93h-9.82zM483.3,163h4.96v3.93h-4.96zM595.1,163h9.82v3.93h-9.82zM483.3,166.8h4.96v3.93h-4.96zM580.5,166.8h9.82v3.93h-9.82zM488.2,170.7h4.96v3.93h-4.96zM570.8,170.7h9.82v3.93h-9.82zM493,174.5h4.96v3.93h-4.96zM561.1,174.5h4.96v3.93h-4.96zM493,178.3h9.82v3.93h-9.82zM546.5,178.3h9.82v3.93h-9.82zM497.9,182.1h9.82v3.93h-9.82zM527,182.1h14.68v3.93h-14.68zM497.9,185.9h34.12v3.93h-34.12zM502.7,189.8h19.54v3.93h-19.54zM507.6,193.6h4.96v3.93h-4.96z"/>
<path fill="#e73d42" d="M405.5,105.6h9.82v3.93h-9.82zM415.3,109.5h4.96v3.93h-4.96zM420.1,113.3h4.96v3.93h-4.96zM425,117.1h4.96v3.93h-4.96zM697.1,117.1h9.82v3.93h-9.82zM434.7,120.9h4.96v3.93h-4.96zM682.6,120.9h4.96v3.93h-4.96zM439.6,124.8h4.96v3.93h-4.96zM672.8,124.8h4.96v3.93h-4.96zM444.4,128.6h4.96v3.93h-4.96zM663.1,128.6h4.96v3.93h-4.96zM449.3,132.4h4.96v3.93h-4.96zM653.4,132.4h4.96v3.93h-4.96zM454.1,136.2h4.96v3.93h-4.96zM643.7,136.2h9.82v3.93h-9.82zM459,140.1h4.96v3.93h-4.96zM638.8,140.1h4.96v3.93h-4.96zM463.8,143.9h9.82v3.93h-9.82zM629.1,143.9h9.82v3.93h-9.82zM468.7,147.7h9.82v3.93h-9.82zM624.2,147.7h4.96v3.93h-4.96zM473.6,151.5h4.96v3.93h-4.96zM614.5,151.5h9.82v3.93h-9.82zM478.4,155.3h4.96v3.93h-4.96zM609.7,155.3h4.96v3.93h-4.96zM483.3,159.2h4.96v3.93h-4.96zM595.1,159.2h9.82v3.93h-9.82zM488.2,163h4.96v3.93h-4.96zM585.4,163h9.82v3.93h-9.82zM488.2,166.8h9.82v3.93h-9.82zM575.6,166.8h4.96v3.93h-4.96zM493,170.7h9.82v3.93h-9.82zM561.1,170.7h9.82v3.93h-9.82zM497.9,174.5h4.96v3.93h-4.96zM546.5,174.5h14.68v3.93h-14.68zM502.7,178.3h43.84v3.93h-43.84zM507.6,182.1h19.54v3.93h-19.54z"/>
<path fill="#e42d34" d="M415.3,105.6h9.82v3.93h-9.82zM420.1,109.5h4.96v3.93h-4.96zM425,113.3h9.82v3.93h-9.82zM429.8,117.1h14.68v3.93h-14.68zM687.4,117.1h9.82v3.93h-9.82zM439.6,120.9h9.82v3.93h-9.82zM677.7,120.9h4.96v3.93h-4.96zM444.4,124.8h9.82v3.93h-9.82zM668,124.8h4.96v3.93h-4.96zM449.3,128.6h4.96v3.93h-4.96zM653.4,128.6h9.82v3.93h-9.82zM454.1,132.4h4.96v3.93h-4.96zM648.5,132.4h4.96v3.93h-4.96zM459,136.2h4.96v3.93h-4.96zM638.8,136.2h4.96v3.93h-4.96zM463.8,140.1h9.82v3.93h-9.82zM634,140.1h4.96v3.93h-4.96zM473.6,143.9h4.96v3.93h-4.96zM624.2,143.9h4.96v3.93h-4.96zM478.4,147.7h4.96v3.93h-4.96zM614.5,147.7h9.82v3.93h-9.82zM478.4,151.5h4.96v3.93h-4.96zM609.7,151.5h4.96v3.93h-4.96zM483.3,155.3h4.96v3.93h-4.96zM599.9,155.3h9.82v3.93h-9.82zM488.2,159.2h4.96v3.93h-4.96zM585.4,159.2h9.82v3.93h-9.82zM493,163h4.96v3.93h-4.96zM575.6,163h9.82v3.93h-9.82zM497.9,166.8h4.96v3.93h-4.96zM565.9,166.8h9.82v3.93h-9.82zM502.7,170.7h4.96v3.93h-4.96zM551.3,170.7h9.82v3.93h-9.82zM502.7,174.5h43.84v3.93h-43.84z"/>
<path fill="#e32a32" d="M425,105.6h4.96v3.93h-4.96zM425,109.5h14.68v3.93h-14.68zM434.7,113.3h9.82v3.93h-9.82zM444.4,117.1h4.96v3.93h-4.96zM682.6,117.1h4.96v3.93h-4.96zM449.3,120.9h9.82v3.93h-9.82zM672.8,120.9h4.96v3.93h-4.96zM454.1,124.8h4.96v3.93h-4.96zM653.4,124.8h14.68v3.93h-14.68zM454.1,128.6h9.82v3.93h-9.82zM648.5,128.6h4.96v3.93h-4.96zM459,132.4h4.96v3.93h-4.96zM638.8,132.4h9.82v3.93h-9.82zM463.8,136.2h9.82v3.93h-9.82zM634,136.2h4.96v3.93h-4.96zM473.6,140.1h4.96v3.93h-4.96zM624.2,140.1h9.82v3.93h-9.82zM478.4,143.9h4.96v3.93h-4.96zM614.5,143.9h9.82v3.93h-9.82zM483.3,147.7h4.96v3.93h-4.96zM609.7,147.7h4.96v3.93h-4.96zM483.3,151.5h9.82v3.93h-9.82zM599.9,151.5h9.82v3.93h-9.82zM488.2,155.3h9.82v3.93h-9.82zM590.2,155.3h9.82v3.93h-9.82zM493,159.2h9.82v3.93h-9.82zM575.6,159.2h9.82v3.93h-9.82zM497.9,163h9.82v3.93h-9.82zM565.9,163h9.82v3.93h-9.82zM502.7,166.8h14.68v3.93h-14.68zM556.2,166.8h9.82v3.93h-9.82zM507.6,170.7h43.84v3.93h-43.84z"/>
<path fill="#e22830" d="M429.8,105.6h14.68v3.93h-14.68zM439.6,109.5h9.82v3.93h-9.82zM444.4,113.3h9.82v3.93h-9.82zM449.3,117.1h9.82v3.93h-9.82zM672.8,117.1h9.82v3.93h-9.82zM459,120.9h4.96v3.93h-4.96zM653.4,120.9h19.54v3.93h-19.54zM459,124.8h4.96v3.93h-4.96zM643.7,124.8h9.82v3.93h-9.82zM463.8,128.6h4.96v3.93h-4.96zM638.8,128.6h9.82v3.93h-9.82zM629.1,132.4h9.82v3.93h-9.82zM473.6,136.2h9.82v3.93h-9.82zM624.2,136.2h9.82v3.93h-9.82zM478.4,140.1h4.96v3.93h-4.96zM614.5,140.1h9.82v3.93h-9.82zM483.3,143.9h4.96v3.93h-4.96zM604.8,143.9h9.82v3.93h-9.82zM488.2,147.7h4.96v3.93h-4.96zM599.9,147.7h9.82v3.93h-9.82zM493,151.5h4.96v3.93h-4.96zM590.2,151.5h9.82v3.93h-9.82zM497.9,155.3h4.96v3.93h-4.96zM580.5,155.3h9.82v3.93h-9.82zM502.7,159.2h4.96v3.93h-4.96zM570.8,159.2h4.96v3.93h-4.96zM507.6,163h9.82v3.93h-9.82zM556.2,163h9.82v3.93h-9.82zM517.3,166.8h38.98v3.93h-38.98z"/>
<path fill="#e0252e" d="M449.3,109.5h4.96v3.93h-4.96zM454.1,113.3h9.82v3.93h-9.82zM459,117.1h4.96v3.93h-4.96zM648.5,117.1h9.82v3.93h-9.82zM668,117.1h4.96v3.93h-4.96zM463.8,120.9h4.96v3.93h-4.96zM643.7,120.9h9.82v3.93h-9.82zM463.8,124.8h4.96v3.93h-4.96zM634,124.8h9.82v3.93h-9.82zM624.2,128.6h14.68v3.93h-14.68zM614.5,132.4h14.68v3.93h-14.68zM483.3,136.2h4.96v3.93h-4.96zM609.7,136.2h14.68v3.93h-14.68zM483.3,140.1h9.82v3.93h-9.82zM604.8,140.1h9.82v3.93h-9.82zM488.2,143.9h9.82v3.93h-9.82zM595.1,143.9h9.82v3.93h-9.82zM493,147.7h9.82v3.93h-9.82zM590.2,147.7h9.82v3.93h-9.82zM497.9,151.5h9.82v3.93h-9.82zM580.5,151.5h9.82v3.93h-9.82zM502.7,155.3h9.82v3.93h-9.82zM570.8,155.3h9.82v3.93h-9.82zM507.6,159.2h19.54v3.93h-19.54zM561.1,159.2h9.82v3.93h-9.82zM517.3,163h38.98v3.93h-38.98z"/>
<path fill="#dd242c" d="M648.5,113.3h4.96v3.93h-4.96zM463.8,117.1h4.96v3.93h-4.96zM638.8,117.1h9.82v3.93h-9.82zM624.2,120.9h19.54v3.93h-19.54zM614.5,124.8h19.54v3.93h-19.54zM609.7,128.6h14.68v3.93h-14.68zM483.3,132.4h4.96v3.93h-4.96zM604.8,132.4h9.82v3.93h-9.82zM488.2,136.2h4.96v3.93h-4.96zM599.9,136.2h9.82v3.93h-9.82zM493,140.1h4.96v3.93h-4.96zM595.1,140.1h9.82v3.93h-9.82zM497.9,143.9h4.96v3.93h-4.96zM585.4,143.9h9.82v3.93h-9.82zM502.7,147.7h4.96v3.93h-4.96zM580.5,147.7h9.82v3.93h-9.82zM507.6,151.5h9.82v3.93h-9.82zM570.8,151.5h9.82v3.93h-9.82zM512.5,155.3h14.68v3.93h-14.68zM561.1,155.3h9.82v3.93h-9.82zM527,159.2h34.12v3.93h-34.12z"/>
<path fill="#da222b" d="M629.1,113.3h19.54v3.93h-19.54zM619.4,117.1h19.54v3.93h-19.54zM614.5,120.9h9.82v3.93h-9.82zM609.7,124.8h4.96v3.93h-4.96zM604.8,128.6h4.96v3.93h-4.96zM488.2,132.4h9.82v3.93h-9.82zM599.9,132.4h4.96v3.93h-4.96zM493,136.2h9.82v3.93h-9.82zM590.2,136.2h9.82v3.93h-9.82zM497.9,140.1h4.96v3.93h-4.96zM585.4,140.1h9.82v3.93h-9.82zM502.7,143.9h9.82v3.93h-9.82zM575.6,143.9h9.82v3.93h-9.82zM507.6,147.7h9.82v3.93h-9.82zM570.8,147.7h9.82v3.93h-9.82zM517.3,151.5h14.68v3.93h-14.68zM556.2,151.5h14.68v3.93h-14.68zM527,155.3h34.12v3.93h-34.12z"/>
<path fill="#d5202a" d="M629.1,109.5h14.68v3.93h-14.68zM619.4,113.3h9.82v3.93h-9.82zM614.5,117.1h4.96v3.93h-4.96zM609.7,120.9h4.96v3.93h-4.96zM604.8,124.8h4.96v3.93h-4.96zM595.1,128.6h9.82v3.93h-9.82zM497.9,132.4h4.96v3.93h-4.96zM590.2,132.4h9.82v3.93h-9.82zM502.7,136.2h4.96v3.93h-4.96zM585.4,136.2h4.96v3.93h-4.96zM502.7,140.1h9.82v3.93h-9.82zM575.6,140.1h9.82v3.93h-9.82zM512.5,143.9h9.82v3.93h-9.82zM565.9,143.9h9.82v3.93h-9.82zM517.3,147.7h19.54v3.93h-19.54zM556.2,147.7h14.68v3.93h-14.68zM531.9,151.5h24.40v3.93h-24.40z"/>
<path fill="#d01f28" d="M619.4,109.5h9.82v3.93h-9.82zM614.5,113.3h4.96v3.93h-4.96zM609.7,117.1h4.96v3.93h-4.96zM604.8,120.9h4.96v3.93h-4.96zM595.1,124.8h9.82v3.93h-9.82zM497.9,128.6h9.82v3.93h-9.82zM590.2,128.6h4.96v3.93h-4.96zM502.7,132.4h9.82v3.93h-9.82zM580.5,132.4h9.82v3.93h-9.82zM507.6,136.2h9.82v3.93h-9.82zM575.6,136.2h9.82v3.93h-9.82zM512.5,140.1h14.68v3.93h-14.68zM565.9,140.1h9.82v3.93h-9.82zM522.2,143.9h14.68v3.93h-14.68zM551.3,143.9h14.68v3.93h-14.68zM536.8,147.7h19.54v3.93h-19.54z"/>
<path fill="#c81d27" d="M624.2,105.6h9.82v3.93h-9.82zM614.5,109.5h4.96v3.93h-4.96zM609.7,113.3h4.96v3.93h-4.96zM604.8,117.1h4.96v3.93h-4.96zM599.9,120.9h4.96v3.93h-4.96zM590.2,124.8h4.96v3.93h-4.96zM507.6,128.6h4.96v3.93h-4.96zM585.4,128.6h4.96v3.93h-4.96zM512.5,132.4h9.82v3.93h-9.82zM575.6,132.4h4.96v3.93h-4.96zM517.3,136.2h9.82v3.93h-9.82zM565.9,136.2h9.82v3.93h-9.82zM527,140.1h38.98v3.93h-38.98zM536.8,143.9h14.68v3.93h-14.68z"/>
<path fill="#c01d25" d="M619.4,105.6h4.96v3.93h-4.96zM599.9,117.1h4.96v3.93h-4.96zM595.1,120.9h4.96v3.93h-4.96zM507.6,124.8h9.82v3.93h-9.82zM585.4,124.8h4.96v3.93h-4.96zM512.5,128.6h9.82v3.93h-9.82zM575.6,128.6h9.82v3.93h-9.82zM522.2,132.4h9.82v3.93h-9.82zM565.9,132.4h9.82v3.93h-9.82zM527,136.2h38.98v3.93h-38.98z"/>
<path fill="#b61c23" d="M614.5,105.6h4.96v3.93h-4.96zM609.7,109.5h4.96v3.93h-4.96zM604.8,113.3h4.96v3.93h-4.96zM512.5,120.9h9.82v3.93h-9.82zM590.2,120.9h4.96v3.93h-4.96zM517.3,124.8h9.82v3.93h-9.82zM580.5,124.8h4.96v3.93h-4.96zM522.2,128.6h14.68v3.93h-14.68zM565.9,128.6h9.82v3.93h-9.82zM531.9,132.4h34.12v3.93h-34.12z"/>
<path fill="#a81a21" d="M599.9,113.3h4.96v3.93h-4.96zM517.3,117.1h9.82v3.93h-9.82zM595.1,117.1h4.96v3.93h-4.96zM522.2,120.9h14.68v3.93h-14.68zM585.4,120.9h4.96v3.93h-4.96zM527,124.8h19.54v3.93h-19.54zM570.8,124.8h9.82v3.93h-9.82zM536.8,128.6h29.26v3.93h-29.26z"/>
<path fill="#9d191f" d="M604.8,109.5h4.96v3.93h-4.96zM527,113.3h4.96v3.93h-4.96zM527,117.1h14.68v3.93h-14.68zM590.2,117.1h4.96v3.93h-4.96zM536.8,120.9h14.68v3.93h-14.68zM575.6,120.9h9.82v3.93h-9.82zM546.5,124.8h24.40v3.93h-24.40z"/>
<path fill="#94181e" d="M614.5,101.8h4.96v3.93h-4.96zM609.7,105.6h4.96v3.93h-4.96zM531.9,109.5h4.96v3.93h-4.96zM599.9,109.5h4.96v3.93h-4.96zM531.9,113.3h14.68v3.93h-14.68zM595.1,113.3h4.96v3.93h-4.96zM541.6,117.1h14.68v3.93h-14.68zM585.4,117.1h4.96v3.93h-4.96zM551.3,120.9h24.40v3.93h-24.40z"/>
<path fill="#8d171d" d="M604.8,105.6h4.96v3.93h-4.96zM536.8,109.5h9.82v3.93h-9.82zM546.5,113.3h9.82v3.93h-9.82zM590.2,113.3h4.96v3.93h-4.96zM556.2,117.1h29.26v3.93h-29.26z"/>
<path fill="#87161c" d="M609.7,101.8h4.96v3.93h-4.96zM541.6,105.6h9.82v3.93h-9.82zM599.9,105.6h4.96v3.93h-4.96zM546.5,109.5h9.82v3.93h-9.82zM595.1,109.5h4.96v3.93h-4.96zM556.2,113.3h9.82v3.93h-9.82zM585.4,113.3h4.96v3.93h-4.96z"/>
<path fill="#84151b" d="M551.3,105.6h4.96v3.93h-4.96zM595.1,105.6h4.96v3.93h-4.96zM556.2,109.5h4.96v3.93h-4.96zM590.2,109.5h4.96v3.93h-4.96zM565.9,113.3h19.54v3.93h-19.54z"/>
<path fill="#80141a" d="M599.9,101.8h9.82v3.93h-9.82zM556.2,105.6h4.96v3.93h-4.96zM590.2,105.6h4.96v3.93h-4.96zM561.1,109.5h9.82v3.93h-9.82zM580.5,109.5h9.82v3.93h-9.82z"/>
<path fill="#7c1319" d="M556.2,101.8h4.96v3.93h-4.96zM590.2,101.8h9.82v3.93h-9.82zM561.1,105.6h9.82v3.93h-9.82zM585.4,105.6h4.96v3.93h-4.96zM570.8,109.5h9.82v3.93h-9.82z"/>
<path fill="#781218" d="M561.1,101.8h9.82v3.93h-9.82zM585.4,101.8h4.96v3.93h-4.96zM570.8,105.6h14.68v3.93h-14.68z"/>
<path fill="#781218" d="M570.8,101.8h14.68v3.93h-14.68z"/>
</g>
<path d="M148,33V454.6M196.6,33V454.6M245.2,33V454.6M293.8,33V454.6M342.4,33V454.6M391,33V454.6M439.6,33V454.6M488.2,33V454.6M536.8,33V454.6M585.4,33V454.6M634,33V454.6M682.6,33V454.6M731.2,33V454.6M779.8,33V454.6M99.4,71.2H828.4M99.4,109.5H828.4M99.4,147.8H828.4M99.4,186H828.4M99.4,224.2H828.4M99.4,262.5H828.4M99.4,300.8H828.4M99.4,339H828.4M99.4,377.2H828.4M99.4,415.5H828.4" stroke="#bdbdbd" stroke-width="1.1" fill="none"/>
<clipPath id="mc"><rect x="99.4" y="33" width="729" height="421.6"/></clipPath>
<g clip-path="url(#mc)"><path d="M110.1,117.4 112.5,115.6 114.8,114.1 118,112.8 121.4,111.8 124.5,112 128,112.7 131,113.6 133.6,114.6 136.2,114.6 138.8,115.1 139.6,117 140.2,118.8 139.8,121 139.8,123.5 141.2,127.3 143.1,130.1 145.9,132.5 148.7,135.3 152.5,135.3 154.7,133.4 157.2,132 159.2,129.3 161.9,127.3 164.8,125.8 167.5,124 169.5,122 172.2,121.2 175,120.6 177.7,121.6 180.5,122.5 183.3,123.1 186,124 189.2,124.3 192,125.8 195,126.6 198,127.4 201.2,127.5 204,129 207,129.7 210,130.6 212.8,130.7 215.5,131.5 218,132.8 220.7,133.4 223.2,134.7 226,135 229.2,135.5 232,137 235.2,137.8 238,139.4 243,140.6 246.5,142.5 250,145 251.5,147.2 252.5,149.2 256,151.5 259.5,153.3 263,154.5 266.6,155.6 269.5,157 271.3,158.6 270.8,160.2 270,161 267,161.8 264.2,162.1 265.5,165 267.8,167.4 270.5,169.3 273.6,171 275.5,173.5 277.2,175.6 280,177.5 283,179.2 285.5,180.8 287.8,182.1 290,183.1 292.5,183.9 295,186 297.2,188 300,189.2 302,189.8 299.5,190.3 297.2,190 292.5,188.6 289,187.8 285.4,187.4 282.4,186.3 279.1,186.5 276,186.2 272.5,185.2 269,183.9 266,181.5 263,179.2 260,176.8 257.2,174.5 253.5,172.3 250,170.4 246.5,169 243,168 238,168.3 235,168.3 232,168 228.8,168.3 226,170 223.5,171.3 220.5,170.8 218,172 221.1,172.2 224,173 227.1,173 230,174 228,177 225.7,178.3 223,178.6 218,180 215,179.8 212,179 209.1,178 206,178 203.7,176.6 202,174.5 200.1,172.2 198,170 194,170.5 190,171 187,167.5 185,164 182,162 180.5,159 179,156 176.5,153 174,150 171.8,148.6 169.4,147.5 166.8,146.9 164.4,145.9 161.9,145.2 159.2,145 156.7,144.2 154.4,142.8 151,142.5 147.8,141.4 144.9,140 142.2,138.8 139.3,138.1 135.5,136.7 134.9,133.2 134,133 133.2,136.7 132.6,139.5 133.6,141.9 131.8,140.5 128.9,140.9 126.6,139.5 126.1,135.8 123.3,132.9 120.9,131.8 118.6,130.6 121.4,129.8 124.2,129.6 127.1,129.1 129.9,128.4 134,127.8 136.5,127.5 137.4,125.6 133.6,125.9 130.3,126 127.1,125.9 124.2,126.2 121.4,125.9 119.1,122.6 116.7,120.2 112,119.3ZM94,212 96.6,210.6 99.5,210 101.5,207.5 104,205.6 108,204.2 111.8,203.3 114.4,203.8 117,203 120.1,202.2 123.3,202.6 123.6,199.5 124,196.5 125.5,196.5 127,197 131,198.3 134.8,199.5 137.8,200.5 141,200.8 144.1,200.7 147,201.8 151,201 154.6,200.3 159.2,199.5 162.5,200.8 165.3,202.6 165,204.5 163.8,206.4 161,208.8 158.5,211 157.2,213.3 156.2,215.6 154,218.8 151,222.5 153.2,224 155,226 157.7,227.9 161,228.5 164.3,228.8 167.5,230 169.6,231.7 172,233 174.8,234.4 177.5,236 182,238.5 184.8,239.2 187.5,240 192,242.5 194.8,243.5 197.5,244.5 201,244.5 204,242.5 205.1,240 207,238 208.5,235.4 209,232.5 209.4,228.6 211,225 211.1,221.2 212,217.5 211.4,214.1 212,210.8 212.5,207.5 214,203 216,200 216.6,197.5 217.5,195 219,191 220.5,194.5 222.5,197.5 222.9,200.2 224.5,202.5 225.4,204.9 226,207.5 228,211.5 231,215 235.5,217.5 240,220 243,223 246,226 247.5,228.6 248,231.5 249.3,234.4 250,237.5 250.6,240.3 252.5,242.5 254.3,244.7 255,247.5 257.5,251 260,254 262.4,255.9 265,257.5 267.6,258.6 270,260 272.9,261.7 276,263 279.4,264.3 282.5,266 283.2,268.6 284.5,271 286,273.5 287.5,276 290,279.5 292.4,281.2 295,282.5 299,284 302.5,287.5 303.8,289.9 306,291.5 307.9,293.3 310,295 312.7,295.8 315,297.5 317.8,298.2 320,300 322.5,303.5 324,307.5 323.6,311.3 324.5,315 324.8,318.7 325,322.5 326.7,324.8 327.5,327.5 326.1,330.6 326,334 324.9,337 324,340 322.7,342.4 322,345 320.5,347.3 320,350 318.6,352.4 316.8,354.5 315,356.5 312.9,358.1 312.1,360.9 310,362.5 307.7,364.8 306,367.5 304.7,370.3 302.5,372.5 301,374.9 300,377.5 298.5,379.9 297.5,382.5 295.9,385 295.5,388 294,392.5 292.5,396 290,397.5 286.9,397.5 284,398.5 280.7,399.2 277.5,400 274.4,401.4 271,402 268.2,403.5 265,404 261,406 257.5,407 254,406 250,404.5 247.5,403.2 245,402 240,401 237.7,402.5 235.5,404 231,406 226.5,405 222.5,404 219.2,404.4 216,403.5 213.1,402.4 210,402.5 207,401.2 204,400 201.6,398.5 199,397.5 196.5,394 194,390 191.5,386 189,382.5 184,381.5 179,381 181,377.5 178.5,374.5 176,372.5 173,373.5 170,374 171.1,371.3 173,369 174.2,366.3 176,364 176.5,361 175,359.5 173.5,362 171,363.5 169.4,365.7 167.5,367.5 165.5,369.8 163,371.5 161.1,373.3 159,375 156.5,376.5 154,376 152,373 150,370 147.9,368.1 146,366 142.5,362.5 140,359 137.5,356 133.8,355.2 130,355.5 126.3,354.4 122.5,354.5 119.8,354 117.5,352.5 115,351.9 112.5,351 109.2,351.5 106,351 102.8,350.8 99.5,351 96.8,350.3 94,351 93.6,348.4 94.4,345.8 93.7,343.1 93.3,340.5 94.4,337.9 93.8,335.3 93.5,332.6 93.9,330 93.6,327.4 93.9,324.8 93.9,322.2 93.9,319.5 94.1,316.9 93.7,314.3 93.4,311.7 93.4,309 93.4,306.4 94,303.8 93.8,301.2 94.5,298.5 94,295.9 94.3,293.3 94.7,290.7 93.3,288.1 93.3,285.4 93.5,282.8 93.8,280.2 94.1,277.6 94.4,274.9 93.8,272.3 94.7,269.7 93.3,267.1 94.5,264.5 93.6,261.8 94.6,259.2 93.3,256.6 94.7,254 94.4,251.3 94.7,248.7 94.1,246.1 93.5,243.5 94.7,240.8 93.9,238.2 93.4,235.6 94.2,233 94,230.4 94,227.7 93.5,225.1 93.4,222.5 94.1,219.9 93.9,217.2 93.4,214.6ZM241,420 243,423 245,424 248,424.4 251,425 254.2,424.3 257.5,424 260.6,422.7 264,422.5 267.1,422.3 270,421 273.5,419.5 276,420 277,425 277,430 276.7,432.8 275,435 272.5,439 268,441.5 265.2,442.2 262.5,443 258,442 254,440 252.7,437.6 250.5,436 247.5,432.5 244.5,429 242.5,426 241.1,423.2ZM514.5,373 518,375 522.5,377.5 526,378.5 530,380 532,384 534,387.5 536,391 538,389 540,386 541,389 542.5,392.5 545,395.5 547.5,397.5 552,398.5 554.7,398.9 557.5,399 561,397.5 565,396 568,396 570,397 569,400.5 567.5,404 566,407 564,410 560,411.5 556,412.5 553.5,416 551,419 548,422 545,425 542,427 539,428 536,427 534,425 536,422 537.5,419 536,416 534,414 531.5,413.4 529,412.5 525,411 526,409 527.5,407.5 530,405.5 532.5,404 533.5,400 534,396 531.5,393 529,390 527.1,387.7 525,385.5 522.7,383.5 521,381 518,378 516,375ZM455,460 456.9,457.8 459.1,455.7 461,453.5 463.9,452 466,449.5 469.2,447.7 472.5,446 475,445.2 477.5,444.5 480,443.5 482.4,442.2 485,441.9 487.5,441 490.1,439.9 492.5,438.5 495.2,437.6 497.5,436 500,432.5 502.5,429 505.5,425.5 509,422.5 512,420.5 515,419.5 517,421.5 519,424 522.5,423 526,422 527.5,423.5 529,425 528.5,427.5 527.5,430 524,433 520,436 517,438.5 514,441 516,443 517.5,445 514.8,445.6 512,445 507.5,444.5 504,446.5 501,449 500,451 499,453.5 498.8,456.8 498,460 495.3,460.6 492.6,459.5 489.9,459.7 487.2,460.7 484.6,459.3 481.9,459.3 479.2,459.8 476.5,459.8 473.8,460.5 471.1,460.7 468.4,460 465.8,460.7 463.1,460.5 460.4,460.4 457.7,460.7ZM277.8,152.1 281.5,151.6 285.4,152 290,151.7 294.8,151 298.5,150.5 301.9,149.8 304.5,148.8 306.6,147.4 308,145.5 308.9,143.3 311.3,141.5 313.8,141.2 316,142.1 316.9,143.8 316.6,145.6 314.8,147.3 312.5,148.6 311,150.8 309,152.7 306,154.4 303,155.6 299,156.8 294.8,157.4 291,157 287.8,156.2 284.5,155.5 281.9,154.5ZM295,128 300,130 306,133 311,136 315,138.5 319,139 322,141 323,145 321,147 318.5,145.5 317.5,142 314,140.5 309,138 304,135 299,132ZM338,149 341,150 344.5,153.5 347.5,157.5 349,161 347,162 343.5,158.5 340.5,154.5 338,151ZM430.5,264 433.5,263.6 438,266 443.5,269.3 449.5,273.2 455,276.8 458.5,279.2 457.5,281.4 452.5,280.4 446.5,277.6 440.5,274 435,270 431.2,266.8ZM559.5,245.5 562,243 566,242.5 570,243.5 572,246 571,248.5 567.5,250 563,249.5 560.5,248ZM571,238.5 575,236.5 580,235 584.5,233.5 585.5,235 582,237.5 577,239.5 573,240.5ZM173.5,172 176,168 180,166.5 184,167 186,170 183,173 178,174 175,173.5ZM140,153 143,151 145,152.5 146.5,157 145.5,161 142,162 139.5,160 140.8,156.5ZM162.3,215.8 165,215.5 166.9,217 165.5,218.6 162.8,218.2ZM163.5,383 166,382 171,381.8 176,382 178.5,383 176,384.5 170,384.8 165.5,384.5ZM106,172 109,168 113.5,164.5 118,163 119,164.8 115.5,167.5 111.5,171.5 108,173.4ZM152,114.5 155,113.5 158.5,114.5 160,116.5 157,117.5 153.5,116.5ZM151,121.5 156,121.5 162,122.5 166,123.5 162,124 156,123.2 151.5,122.6ZM104,115.5 106.5,114.8 109.5,116.5 110,118.6 107,119 104.8,117.5ZM100,131.5 103.5,132 106.5,134.5 108,138 105.5,139 102.5,136.5 100,134.5ZM101,110.2 106,109.6 112,110.5 111,112 106,111.6 101.5,112ZM233.5,412.5 235.3,413 235.8,416 234.5,418 233.2,416ZM100.4,197.5 104,196.3 109,196 113.3,196.8 112,198.6 106,199.6 101,199.4ZM272.3,413.5 274.8,414 276.5,417 276,420 274.2,418.5 273,416ZM355.5,159 359,160.5 363,163.5 365.5,166 364,166.8 360,164.5 356.5,161.5ZM373.5,166.5 378,167.5 384,170 389.5,173 391,175 388,175 382,172.5 376.5,169.5ZM394.5,171.5 397,172 400,176.5 403,181.5 402.5,183.5 399.5,180.5 396.5,175.5ZM386,180 390,179.5 395,181.5 398.5,184 397.5,186 392.5,185.5 388,183.5ZM404,188 408,188.5 412.5,190.5 413,192 409,191.8 405,190ZM366,171.2 369.5,171.5 373,174 372.5,176 369,175 366.5,173.3ZM453.8,221.5 456.5,220.8 459,222.5 460,225.5 458.5,228 456,227.3 454.2,224.8ZM461,227.5 463.5,228 466,231 467.8,235 466,236.5 463.5,234 461.5,231Z" fill="#c0c0bf" stroke="#0c0c0c" stroke-width="1.35" stroke-linejoin="round"/>
<path d="M206,129.5V178" stroke="#1a1a1a" stroke-width="1.5"/>
<path d="M124.3,152.5L126.2,155L129.8,150.6M466.3,226.2L470.3,225.2V234.2" stroke="#111" stroke-width="1.6" fill="none" stroke-linejoin="round"/>
<g fill="#111"><ellipse cx="178" cy="36.2" rx="1.2" ry="1"/><ellipse cx="143" cy="51.8" rx="1.2" ry="1.6"/><ellipse cx="110.5" cy="85.8" rx="0.8" ry="0.9"/><ellipse cx="310" cy="51.5" rx="1" ry="0.8"/><ellipse cx="372.5" cy="56.5" rx="1.1" ry="1.1"/><ellipse cx="420" cy="67.5" rx="0.7" ry="0.7"/><ellipse cx="475" cy="52.5" rx="1.2" ry="0.8"/><ellipse cx="499.5" cy="54.5" rx="1.6" ry="0.7"/><ellipse cx="503" cy="55.3" rx="1.2" ry="0.7"/><ellipse cx="485" cy="64" rx="0.9" ry="1"/><ellipse cx="516" cy="85" rx="0.8" ry="1.3"/><ellipse cx="517" cy="92" rx="0.8" ry="1.5"/><ellipse cx="517.5" cy="98" rx="0.9" ry="1.4"/><ellipse cx="517" cy="101.5" rx="0.8" ry="0.8"/><ellipse cx="483" cy="116" rx="0.8" ry="0.8"/><ellipse cx="146.1" cy="117.4" rx="1.3" ry="1"/><ellipse cx="102.5" cy="134" rx="2.2" ry="1.6"/><ellipse cx="101.4" cy="123.3" rx="1.7" ry="1.2"/><ellipse cx="105" cy="116" rx="1.8" ry="1.1"/><ellipse cx="289.5" cy="120.5" rx="1.5" ry="1"/><ellipse cx="260" cy="125" rx="4" ry="1.2"/><ellipse cx="263.5" cy="124.3" rx="2.5" ry="1"/><ellipse cx="295.5" cy="128.5" rx="1.5" ry="1"/><ellipse cx="312" cy="131.5" rx="0.8" ry="1.2"/><ellipse cx="318" cy="133.5" rx="0.8" ry="0.8"/><ellipse cx="328.5" cy="140.5" rx="0.8" ry="0.6"/><ellipse cx="302.5" cy="174" rx="0.8" ry="1.6"/><ellipse cx="320" cy="178.5" rx="2.8" ry="0.9"/><ellipse cx="298.5" cy="181.5" rx="3.6" ry="1.5"/><ellipse cx="303.2" cy="189.3" rx="2.4" ry="1.1"/><ellipse cx="273" cy="152" rx="1.8" ry="1.3"/><ellipse cx="326.5" cy="197" rx="3" ry="0.8"/><ellipse cx="393" cy="198" rx="2.2" ry="0.8"/><ellipse cx="383" cy="178" rx="1" ry="0.7"/><ellipse cx="357.5" cy="168.5" rx="1.3" ry="1.8"/><ellipse cx="361.5" cy="170" rx="1.8" ry="1.1"/><ellipse cx="364" cy="172.5" rx="1.5" ry="1.2"/><ellipse cx="449" cy="191" rx="1.8" ry="0.9"/><ellipse cx="457.5" cy="197.5" rx="1" ry="0.9"/><ellipse cx="463" cy="214.5" rx="0.9" ry="1.5"/><ellipse cx="463" cy="218.5" rx="0.9" ry="1"/><ellipse cx="471" cy="237" rx="1.5" ry="1"/><ellipse cx="471.5" cy="244" rx="1.5" ry="1.2"/><ellipse cx="479" cy="251.5" rx="1.4" ry="1.6"/><ellipse cx="480.5" cy="257.5" rx="1.2" ry="1.6"/><ellipse cx="485.5" cy="264" rx="0.8" ry="0.8"/><ellipse cx="455" cy="266.5" rx="1" ry="0.9"/><ellipse cx="459.5" cy="269.5" rx="1.6" ry="2.2"/><ellipse cx="467.5" cy="274" rx="1.6" ry="1.2"/><ellipse cx="462.5" cy="282" rx="0.7" ry="0.7"/><ellipse cx="557.5" cy="240" rx="0.8" ry="0.8"/><ellipse cx="556" cy="205" rx="0.8" ry="0.8"/><ellipse cx="531.5" cy="275" rx="0.6" ry="0.6"/><ellipse cx="574" cy="243" rx="1" ry="0.8"/><ellipse cx="578.5" cy="244" rx="1" ry="0.8"/><ellipse cx="567.5" cy="255" rx="1.2" ry="0.7"/><ellipse cx="190" cy="235" rx="1.3" ry="0.8"/><ellipse cx="189" cy="237.5" rx="0.8" ry="0.6"/><ellipse cx="219.5" cy="187" rx="0.8" ry="0.8"/><ellipse cx="162.3" cy="195.8" rx="3.2" ry="0.7"/></g></g>
<mask id="lm" maskUnits="userSpaceOnUse" x="0" y="0" width="850" height="500"><rect width="850" height="500" fill="#fff"/><rect transform="translate(551,132.5) rotate(4)" x="-10.1" y="-4.5" width="20.3" height="9" fill="#000"/><rect transform="translate(531,167.3) rotate(3)" x="-10.1" y="-4.5" width="20.3" height="9" fill="#000"/><rect transform="translate(458,118.2) rotate(27)" x="-10.1" y="-4.5" width="20.3" height="9" fill="#000"/><rect transform="translate(498,232) rotate(3)" x="-10.1" y="-4.5" width="20.3" height="9" fill="#000"/><rect transform="translate(500,254.5) rotate(2)" x="-10.1" y="-4.5" width="20.3" height="9" fill="#000"/><rect transform="translate(505,272.3) rotate(2)" x="-10.1" y="-4.5" width="20.3" height="9" fill="#000"/><rect transform="translate(404,269.3) rotate(0)" x="-10.1" y="-4.5" width="20.3" height="9" fill="#000"/><rect transform="translate(531,298.3) rotate(0)" x="-10.1" y="-4.5" width="20.3" height="9" fill="#000"/><rect transform="translate(536,307.2) rotate(0)" x="-10.1" y="-4.5" width="20.3" height="9" fill="#000"/><rect transform="translate(544,316) rotate(0)" x="-7.3" y="-4.5" width="14.7" height="9" fill="#000"/><rect transform="translate(752.5,144.3) rotate(-14)" x="-10.1" y="-4.5" width="20.3" height="9" fill="#000"/><rect transform="translate(245.6,114.5) rotate(62)" x="-10.1" y="-4.5" width="20.3" height="9" fill="#000"/><rect transform="translate(236.3,178) rotate(-58)" x="-7.3" y="-4.5" width="14.7" height="9" fill="#000"/><rect transform="translate(234.6,197) rotate(-52)" x="-7.3" y="-4.5" width="14.7" height="9" fill="#000"/><rect transform="translate(241,202.5) rotate(-52)" x="-10.1" y="-4.5" width="20.3" height="9" fill="#000"/><rect transform="translate(371,399.2) rotate(-28)" x="-4.5" y="-4.5" width="9.1" height="9" fill="#000"/></mask>
<g mask="url(#lm)"><path d="M517.5,120C518.4,120.5 520.9,122 523,123C525.1,124 527.8,125 530,126C532.2,127 533.9,128 536,128.8C538.1,129.6 538.1,130.6 542.5,131C546.9,131.4 557.6,131.4 562.5,131C567.4,130.6 568.7,129.5 572,128.5C575.3,127.5 579.3,126.2 582.5,125C585.7,123.8 588.1,122.8 591,121.5C593.9,120.2 596.8,119.2 600,117.5C603.2,115.8 606.7,113.6 610,111.5C613.3,109.4 618.3,106.1 620,105M479,136C479.8,136.9 482.2,139.6 484,141.5C485.8,143.4 487.8,145.5 490,147.5C492.2,149.5 494.5,151.6 497,153.5C499.5,155.4 502.5,157.4 505,159C507.5,160.6 509.5,161.8 512,163C514.5,164.2 514.9,165.2 520,166C525.1,166.8 537.3,167.4 542.5,167.5C547.7,167.6 548.1,167.2 551,166.8C553.9,166.4 556.8,165.9 560,165C563.2,164.1 566.7,162.8 570,161.5C573.3,160.2 576.7,158.8 580,157.5C583.3,156.2 586.7,155.2 590,154C593.3,152.8 596.7,151.5 600,150C603.3,148.5 606.7,146.7 610,145C613.3,143.3 616.7,141.6 620,140C623.3,138.4 626.7,137 630,135.5C633.3,134 636.8,132.7 640,131C643.2,129.3 646.1,127.3 649,125.5C651.9,123.7 656.1,120.9 657.5,120M375,107C377,107.9 382.8,110.5 387,112.5C391.2,114.5 395.2,116.4 400,119C404.8,121.6 410.7,125 416,128C421.3,131 427.8,134.5 432,137C436.2,139.5 438,140.8 441,143C444,145.2 447.2,147.6 450,150C452.8,152.4 455.5,155 458,157.5C460.5,160 463,162.6 465,165C467,167.4 468.3,169.5 470,172C471.7,174.5 473.7,177.4 475,180C476.3,182.6 477.2,185 478,187.5C478.8,190 479.5,192.5 480,195C480.5,197.5 480.7,200 481,202.5C481.3,205 481.5,207.5 482,210C482.5,212.5 483.1,214.8 484,217.5C484.9,220.2 483.2,223.9 487.5,226C491.8,228.1 505.4,230 510,230C514.6,230 513.3,227.5 515,226C516.7,224.5 518.3,222.8 520,221C521.7,219.2 523.3,217.3 525,215.5C526.7,213.7 528.2,212 530,210C531.8,208 533.9,205.6 536,203.5C538.1,201.4 540,199.2 542.5,197.5C545,195.8 548.1,194.4 551,193C553.9,191.6 556.8,190.2 560,189C563.2,187.8 566.7,186.6 570,185.5C573.3,184.4 576.7,183.6 580,182.5C583.3,181.4 586.7,180.1 590,179C593.3,177.9 596.8,177 600,176C603.2,175 606.1,174 609,173C611.9,172 613.7,171.7 617.5,170C621.3,168.3 627.4,165.5 632,163C636.6,160.5 640.8,157.4 645,155C649.2,152.6 652.8,150.6 657,148.5C661.2,146.4 665.8,144.5 670,142.5C674.2,140.5 677.8,138.4 682,136.5C686.2,134.6 690,133 695,131C700,129 706.2,126.5 712,124.5C717.8,122.5 727,119.9 730,119M312.5,91C313.1,91.9 314.8,94.6 316,96.5C317.2,98.4 318.8,100.7 320,102.5C321.2,104.3 322.3,105.9 323.5,107.5C324.7,109.1 325.6,110.2 327,112C328.4,113.8 330.2,115.8 332,118C333.8,120.2 336,122.8 338,125C340,127.2 342,129.5 344,131.5C346,133.5 347.7,135.3 350,137C352.3,138.7 355.3,140.2 358,141.5C360.7,142.8 362.3,143.6 366,145C369.7,146.4 375.2,148.2 380,150C384.8,151.8 390,154 395,156C400,158 405.7,160 410,162C414.3,164 417.3,165.8 421,168C424.7,170.2 429.2,173 432,175C434.8,177 435.8,177.9 437.5,180C439.2,182.1 440.8,185 442,187.5C443.2,190 444.1,192.1 445,195C445.9,197.9 446.8,201.7 447.5,205C448.2,208.3 448.3,212.1 449,215C449.7,217.9 450.5,220 451.5,222.5C452.5,225 453.7,227.7 455,230C456.3,232.3 457.8,234.4 459.5,236.5C461.2,238.6 463.1,240.8 465,242.5C466.9,244.2 468.9,245.6 471,247C473.1,248.4 475.5,250 477.5,251C479.5,252 481.1,252.5 483,253C484.9,253.5 484.5,253.8 489,254C493.5,254.2 505.2,254.6 510,254.5C514.8,254.4 515,253.8 517.5,253.2C520,252.6 522.4,251.9 525,251C527.6,250.1 530.5,248.9 533,247.5C535.5,246.1 538,244.3 540,242.5C542,240.7 543.3,238.6 545,236.5C546.7,234.4 548.2,232.2 550,230C551.8,227.8 553.9,225.6 556,223.5C558.1,221.4 560,219.4 562.5,217.5C565,215.6 568.1,213.7 571,212C573.9,210.3 576.8,208.9 580,207.5C583.2,206.1 586.7,204.8 590,203.5C593.3,202.2 596.7,201.2 600,200C603.3,198.8 606.7,197.2 610,196C613.3,194.8 618.3,193.1 620,192.5M676,171C677.5,170.4 681.8,168.7 685,167.5C688.2,166.3 691.3,165.3 695,164C698.7,162.7 702.8,161 707,159.5C711.2,158 716,156.3 720,155C724,153.7 727.2,152.7 731,151.5C734.8,150.3 740.6,148.6 742.5,148M764,142.6 768,142.4M279,91C279.8,92.5 282.2,96.8 284,100C285.8,103.2 288.1,106.8 290,110C291.9,113.2 293.7,116.1 295.5,119C297.3,121.9 299.3,125.2 301,127.5C302.7,129.8 304,131.3 305.5,133C307,134.7 308.4,135.9 310,137.5C311.6,139.1 313.3,140.8 315,142.5C316.7,144.2 318.2,145.4 320,147.5C321.8,149.6 324.2,152.8 326,155C327.8,157.2 329.5,159 331,161C332.5,163 333.9,164.7 335,167C336.1,169.3 337.1,172 337.5,175C337.9,178 337.9,181.8 337.5,185C337.1,188.2 336.1,191.1 335,194C333.9,196.9 331.9,199.7 331,202.5C330.1,205.3 329.7,208.1 329.5,211C329.3,213.9 329.5,217.2 330,220C330.5,222.8 331.2,225.2 332.5,227.5C333.8,229.8 335.6,232.2 337.5,234C339.4,235.8 341.5,236.8 344,238C346.5,239.2 349.7,240.2 352.5,241C355.3,241.8 358.1,242.5 361,243C363.9,243.5 366.8,244.1 370,244C373.2,243.9 376.7,243.2 380,242.5C383.3,241.8 386.7,240.6 390,240C393.3,239.4 396.7,239.2 400,239C403.3,238.8 406.7,238.7 410,239C413.3,239.3 415.8,239.6 420,241C424.2,242.4 431.3,245.7 435,247.5C438.7,249.3 439.5,250.3 442,252C444.5,253.7 447,255.8 450,257.5C453,259.2 456.7,261.1 460,262.5C463.3,263.9 467.2,265 470,266C472.8,267 474.5,267.8 477,268.5C479.5,269.2 478.2,269.6 485,270C491.8,270.4 510.8,271 517.5,271C524.2,271 522.5,270.5 525,270.2C527.5,269.9 529.8,269.5 532.5,269C535.2,268.5 538.1,267.8 541,267C543.9,266.2 547.2,265.2 550,264C552.8,262.8 555.5,261.5 558,260C560.5,258.5 562.6,256.8 565,255C567.4,253.2 570,251.1 572.5,249C575,246.9 577.5,244.5 580,242.5C582.5,240.5 585,238.7 587.5,237C590,235.3 592.4,234 595,232.5C597.6,231 600.5,229.4 603,228C605.5,226.6 606.8,225.3 610,224C613.2,222.7 618.3,221.2 622,220C625.7,218.8 628.8,217.8 632,217C635.2,216.2 639.5,215.3 641,215M286.5,271C287.2,270.4 289.1,269 291,267.5C292.9,266 295.7,263.7 298,262C300.3,260.3 302.6,258.7 305,257.5C307.4,256.3 310,255.6 312.5,255C315,254.4 317.2,254.1 320,254C322.8,253.9 326.1,254.2 329,254.5C331.9,254.8 334.7,255.2 337.5,256C340.3,256.8 343.1,257.9 346,259C348.9,260.1 351.8,261.4 355,262.5C358.2,263.6 361.7,264.7 365,265.5C368.3,266.3 370.4,266.8 375,267.5C379.6,268.2 385.8,269.2 392.5,269.5C399.2,269.8 409.6,268.8 415,269C420.4,269.2 421.7,269.9 425,270.5C428.3,271.1 431.7,271.6 435,272.5C438.3,273.4 441.7,274.8 445,276C448.3,277.2 451.7,278.8 455,280C458.3,281.2 461.7,282.2 465,283C468.3,283.8 471.7,284.4 475,285C478.3,285.6 481.7,286.4 485,286.8C488.3,287.2 491.3,287.3 495,287.5C498.7,287.7 502.8,288 507,288C511.2,288 515.8,287.7 520,287.5C524.2,287.3 527.8,287.2 532,286.8C536.2,286.4 541.5,285.5 545,285C548.5,284.5 550.5,284.3 553,284C555.5,283.7 557.2,283.6 560,283C562.8,282.4 566.8,281.3 570,280.3C573.2,279.3 576,278.2 579,277C582,275.8 584.9,274.5 588,273C591.1,271.5 594.8,269.3 597.5,268C600.2,266.7 601.8,266 604,265C606.2,264 607.7,263.6 611,262C614.3,260.4 621.8,256.6 624,255.5M251,97C251.8,98.2 254.3,101.7 256,104C257.7,106.3 259.2,108.5 261,111C262.8,113.5 264.6,116.2 266.5,119C268.4,121.8 270.4,124.4 272.5,127.5C274.6,130.6 276.9,134.2 279,137.5C281.1,140.8 283.2,144.6 285,147.5C286.8,150.4 288.8,152.7 290,155C291.2,157.3 292.1,160.4 292.5,161.5M246.8,223C247,222.2 247.6,219.6 248,218C248.4,216.4 248.2,215.1 249,213.5C249.8,211.9 251.6,210.1 253,208.5C254.4,206.9 255.9,205.3 257.4,204C258.9,202.7 260.4,201.7 262,200.5C263.6,199.3 265.3,198.1 266.8,197C268.3,195.9 269.5,195 271,194C272.5,193 274,192.1 276,191C278,189.9 281.8,188.2 283,187.6M327.4,327C328.5,326.8 331.6,326.3 334,325.8C336.4,325.3 338.7,324.8 341.5,324.2C344.3,323.6 347.9,322.8 351,322C354.1,321.2 357.1,320.5 360.3,319.5C363.5,318.5 366.9,317.2 370,316C373.1,314.8 375.9,313.4 379,312C382.1,310.6 385.3,309.1 388.5,307.5C391.7,305.9 394.8,304 398,302.6C401.2,301.2 404.4,300.1 407.5,299C410.6,297.9 414.1,296.7 416.8,296C419.6,295.3 421.5,295.1 424,294.8C426.5,294.5 428.3,294.1 431.8,294C435.3,293.9 440.8,293.8 445,294C449.2,294.2 452.8,294.7 457,295.5C461.2,296.3 465.8,297.8 470,299C474.2,300.2 477.8,301.5 482,302.5C486.2,303.5 491.2,304.4 495,305C498.8,305.6 501.7,306 505,306.3C508.3,306.6 507.9,307.1 515,307C522.1,306.9 540.2,306.5 547.5,306C554.8,305.5 555.2,304.6 559,303.8C562.8,303.1 566.7,302 570,301.5C573.3,301 576,301.1 579,300.8C582,300.6 584.5,300.7 588,300C591.5,299.3 595.8,298 600,296.8C604.2,295.6 609.3,294.1 613,293C616.7,291.9 618.9,291.1 622,290C625.1,288.9 628.3,287.9 631.5,286.7C634.7,285.5 639.4,283.6 641,283M230.6,112C231.3,112.8 233.4,115.2 235,117C236.6,118.8 238.3,121 240,123C241.7,125 244.2,128 245,129M232.6,211 235,208M246.8,199.4C247.3,198.6 248.8,196.1 250,194.5C251.2,192.9 252.5,191.3 253.8,190C255.1,188.7 256.6,187.5 258,186.5C259.4,185.5 261.3,184.4 262,184M324.5,346.8C325.9,346.3 330.2,344.9 333,344C335.8,343.1 338.5,342.2 341.5,341.2C344.5,340.2 347.9,339.1 351,338C354.1,336.9 357.5,335.7 360.3,334.6C363.1,333.5 365.5,332.6 368,331.5C370.5,330.4 372.9,329.3 375.4,328C377.9,326.7 380.5,325.1 383,323.5C385.5,321.9 387.7,320.2 390.4,318.6C393.1,317 396.2,315.4 399,314C401.8,312.6 404.6,311.2 407.4,310C410.2,308.8 413.2,307.9 416,307C418.8,306.1 421.3,305.2 424.3,304.5C427.3,303.8 430.6,303 434,302.5C437.4,302 441.5,301.8 445,301.6C448.5,301.4 451.7,301.4 455,301.5C458.3,301.6 462.5,302.1 465,302.5C467.5,302.9 467.2,302.9 470,303.8C472.8,304.7 477.8,306.8 482,308C486.2,309.2 490.8,310.2 495,311C499.2,311.8 502.8,312.4 507,313C511.2,313.6 515.3,314.1 520,314.5C524.7,314.9 532.5,315.3 535,315.5M243.2,190.6C243.8,190.1 245.8,188.4 247,187.5C248.2,186.6 249.1,186.4 250.3,185.3C251.5,184.2 252.8,182.3 254,181C255.2,179.7 256.8,178.2 257.4,177.6M297,381.6C299.2,381.2 305.8,379.9 310,379C314.2,378.1 316.8,377.7 322,376.5C327.2,375.3 336.7,373.4 341.5,372C346.3,370.6 347.9,369.5 351,368C354.1,366.5 356.9,364.8 360,363C363.1,361.2 366.3,359.4 369.5,357.5C372.7,355.6 375.8,353.5 379,351.5C382.2,349.5 385.3,347.4 388.5,345.5C391.7,343.6 394.8,341.7 398,340C401.2,338.3 404.4,336.8 407.5,335.3C410.6,333.8 413.7,332.3 416.8,331C419.9,329.7 422.9,328.5 426,327.3C429.1,326.1 432.4,325 435.6,324C438.8,323 441.8,322.1 445,321.5C448.2,320.9 451.7,320.6 455,320.3C458.3,320.1 461.2,319.8 465,320C468.8,320.2 473.4,320.8 478,321.5C482.6,322.2 490.1,323.6 492.5,324M296,390C298.2,389.7 304.6,388.8 309,388C313.4,387.2 318.4,386.4 322.6,385.4C326.8,384.4 330.3,383.2 334,382C337.7,380.8 341.6,379.4 345,378C348.4,376.6 351.3,375.1 354.5,373.5C357.7,371.9 360.8,370.2 364,368.5C367.2,366.8 370.3,364.9 373.5,363C376.7,361.1 379.8,358.9 383,357C386.2,355.1 389.4,353.1 392.5,351.3C395.6,349.5 398.6,347.8 401.7,346C404.8,344.2 407.9,342.2 411,340.5C414.1,338.8 417.7,336.8 420.5,335.5C423.3,334.2 425.5,333.4 428,332.5C430.5,331.6 432.8,330.8 435.6,330C438.4,329.2 441.8,328.2 445,327.5C448.2,326.8 450.8,326.2 455,326C459.2,325.8 465.7,325.8 470,326C474.3,326.2 477.2,326.8 481,327.3C484.8,327.8 490.6,328.7 492.5,329M246.8,180.6C247.1,179.8 247.9,177.6 248.5,176C249.1,174.4 250,172 250.3,171.2M360.5,404.3C361,404.1 362.5,403.7 363.5,403.4C364.5,403.1 366,402.5 366.5,402.3M377.5,396C378.6,395.6 381.9,394.3 384,393.5C386.1,392.7 389,391.4 390,391" fill="none" stroke="#141414" stroke-width="1.35" stroke-linecap="round"/>
<path d="M324,306.5C325.5,306.5 330.1,306.6 333,306.6C335.9,306.6 337.8,306.6 341.5,306.4C345.2,306.2 350.6,305.8 355,305.3C359.4,304.8 364.4,304.1 367.8,303.5C371.2,302.9 373,302.3 375.5,301.5C378,300.7 380.4,299.9 382.9,298.8C385.4,297.7 388,296.2 390.5,295C393,293.8 395.5,292.4 398,291.3C400.5,290.2 403,289.3 405.5,288.5C408,287.7 410.5,287.1 413,286.6C415.5,286.1 418,285.8 420.5,285.6C423,285.4 424.8,285.2 428,285.3C431.2,285.4 436,285.6 440,286C444,286.4 447.8,287.3 452,288C456.2,288.7 460.3,289 465,290C469.7,291 475.8,293.1 480,294C484.2,294.9 486.7,295.2 490,295.7C493.3,296.2 496.7,296.6 500,297C503.3,297.4 506.7,297.6 510,297.8C513.3,298 514.6,298 520,298C525.4,298 537.3,298.2 542.5,298C547.7,297.8 548.1,297.2 551,296.8C553.9,296.4 556.3,296.1 560,295.5C563.7,294.9 568.7,293.8 573,293C577.3,292.2 581.9,291.6 586,290.5C590.1,289.4 593.7,287.9 597.5,286.5C601.3,285.1 605.5,283.4 609,282C612.5,280.6 615.3,279.6 618.5,278.3C621.7,277.1 623.9,276.1 628,274.5C632.1,272.9 640.5,269.9 643,269M251,122.5C251.8,123.8 254.3,127.5 256,130C257.7,132.5 259.4,134.8 261,137.5C262.6,140.2 264,143.1 265.5,146C267,148.9 268.9,152.5 270,155C271.1,157.5 271.5,159.2 272,161C272.5,162.8 272.7,164.6 273,166C273.3,167.4 273.5,168.9 273.6,169.5M234.4,217.6C235.2,216.6 237.3,213.6 239,211.5C240.7,209.4 242.7,207.1 244.4,205.3C246.1,203.5 247.4,202.1 249,200.5C250.6,198.9 252.3,197.4 253.8,195.9C255.3,194.4 256.6,192.9 258,191.5C259.4,190.1 260.5,188.8 262,187.6C263.5,186.3 266,184.6 266.8,184" fill="none" stroke="#101010" stroke-width="2.5" stroke-linecap="round"/></g>
<g font-family="Liberation Serif, serif" font-size="11.4" fill="#2b2424" text-anchor="middle">
<text transform="translate(551,132.5) rotate(4)" y="3.8">400</text>
<text transform="translate(531,167.3) rotate(3)" y="3.8">350</text>
<text transform="translate(458,118.2) rotate(27)" y="3.8">350</text>
<text transform="translate(498,232) rotate(3)" y="3.8">300</text>
<text transform="translate(500,254.5) rotate(2)" y="3.8">250</text>
<text transform="translate(505,272.3) rotate(2)" y="3.8">200</text>
<text transform="translate(404,269.3) rotate(0)" y="3.8">150</text>
<text transform="translate(531,298.3) rotate(0)" y="3.8">120</text>
<text transform="translate(536,307.2) rotate(0)" y="3.8">100</text>
<text transform="translate(544,316) rotate(0)" y="3.8">80</text>
<text transform="translate(752.5,144.3) rotate(-14)" y="3.8">250</text>
<text transform="translate(245.6,114.5) rotate(62)" y="3.8">120</text>
<text transform="translate(236.3,178) rotate(-58)" y="3.8">50</text>
<text transform="translate(234.6,197) rotate(-52)" y="3.8">80</text>
<text transform="translate(241,202.5) rotate(-52)" y="3.8">100</text>
<text transform="translate(371,399.2) rotate(-28)" y="3.8">0</text>
</g>
<g stroke="#151515" fill="none" stroke-linecap="square"><path d="M99.4,33V454.6" stroke-width="1.7"/><path d="M99.4,33H828.4" stroke-width="1.9"/><path d="M828.4,33V454.6" stroke-width="2.1"/><path d="M99.4,454.6H828.4" stroke-width="2.4"/></g>
<path d="M99.4,33H91.9M99.4,109.5H91.9M99.4,186H91.9M99.4,262.5H91.9M99.4,339H91.9M99.4,415.5H91.9M99.4,454.6V460.1M196.6,454.6V460.1M293.8,454.6V460.1M391,454.6V460.1M488.2,454.6V460.1M585.4,454.6V460.1M682.6,454.6V460.1M779.8,454.6V460.1" stroke="#3a3a3a" stroke-width="1.4" fill="none"/>
<g font-family="Liberation Serif, serif" font-size="19.5" fill="#1a1a1a">
<text x="89" y="40" text-anchor="end">10° N</text>
<text x="89" y="116.5" text-anchor="end">0°</text>
<text x="89" y="193" text-anchor="end">10° S</text>
<text x="89" y="269.5" text-anchor="end">20° S</text>
<text x="89" y="346" text-anchor="end">30° S</text>
<text x="89" y="422.5" text-anchor="end">40° S</text>
<text x="100.4" y="482" text-anchor="middle">130° E</text>
<text x="197.6" y="482" text-anchor="middle">140° E</text>
<text x="294.8" y="482" text-anchor="middle">150° E</text>
<text x="392" y="482" text-anchor="middle">160° E</text>
<text x="489.2" y="482" text-anchor="middle">170° E</text>
<text x="586.4" y="482" text-anchor="middle">180°</text>
<text x="683.6" y="482" text-anchor="middle">170° W</text>
<text x="780.8" y="482" text-anchor="middle">160° W</text>
<text x="443" y="16.3" text-anchor="middle">maximum daily depth</text>
<text x="455" y="509" text-anchor="middle">longitude</text>
<text transform="translate(32,245.6) rotate(-90)" text-anchor="middle">latitude</text>
<text x="15" y="24.5"><tspan>(</tspan><tspan font-style="italic">a</tspan><tspan>)</tspan></text>
</g>
</g>
<g id="pb"><path d="M113.4,603.6C116.2,604.7 123.9,607.9 130,610C136.1,612.1 143.3,614.2 150,616C156.7,617.8 163.3,619.4 170,621C176.7,622.6 184,623.8 190,625.6C196,627.4 201,629.6 206,631.6C211,633.6 214.3,634.8 220,637.4C225.7,640 233.3,644.1 240,647C246.7,649.9 253.3,652.3 260,655C266.7,657.7 273.3,660.9 280,663C286.7,665.1 293.3,666.7 300,667.6C306.7,668.5 313.3,668.9 320,668.6C326.7,668.3 333.3,667.4 340,666C346.7,664.6 353.3,662.5 360,660C366.7,657.5 373.3,654.2 380,651C386.7,647.8 393.9,643.9 400,641C406.1,638.1 413.8,634.8 416.6,633.6L416.6,766C413.8,764.5 406.1,760.2 400,757C393.9,753.8 386.7,750.3 380,747C373.3,743.7 366.7,740.5 360,737C353.3,733.5 346.7,729.5 340,726C333.3,722.5 326.7,719.5 320,716C313.3,712.5 306.7,709 300,705C293.3,701 286.7,696.5 280,692C273.3,687.5 266.7,682.7 260,678C253.3,673.3 246.7,668.5 240,664C233.3,659.5 225.7,654.6 220,651C214.3,647.4 211,645.1 206,642.4C201,639.7 196,637.4 190,635C184,632.6 175,629.4 170,628C165,626.6 163.3,626.5 160,626.4C156.7,626.3 155,626.5 150,627.2C145,627.9 136.1,629.3 130,630.4C123.9,631.5 116.2,633.4 113.4,634Z" fill="#c9cacc"/>
<path d="M101,635.5H428.6" stroke="#979797" stroke-width="1.1"/>
<path d="M113.4,619.4C116.2,619.5 123.9,619.6 130,620C136.1,620.4 143.3,620.8 150,621.6C156.7,622.4 163.3,623.5 170,625C176.7,626.5 184,628.4 190,630.4C196,632.4 201,634.7 206,637C211,639.3 214.3,641 220,644C225.7,647 233.3,651.3 240,655C246.7,658.7 253.3,662.5 260,666.2C266.7,669.9 273.3,673.5 280,677C286.7,680.5 293.3,684.2 300,687C306.7,689.8 313.3,691.9 320,693.6C326.7,695.3 333.3,696.1 340,697C346.7,697.9 353.3,698.5 360,699C366.7,699.5 373.3,699.8 380,700C386.7,700.2 393.9,700.3 400,700.4C406.1,700.5 413.8,700.6 416.6,700.6" fill="none" stroke="#585858" stroke-width="0.95"/>
<path d="M386.0,768.6V775.6M388.2,768.6V775.6M390.0,768.6V775.6M411.0,768.6V775.6M413.0,768.6V775.6M415.0,768.6V775.6M416.6,768.6V775.6M119.7,768.6V775.6M124.1,768.6V775.6M118.6,768.6V775.6M119.1,768.6V775.6M120.0,768.6V775.6M115.2,768.6V775.6M119.1,768.6V775.6M120.6,768.6V775.6M122.5,768.6V775.6M114.1,768.6V775.6M116.6,768.6V775.6M114.1,768.6V775.6M122.7,768.6V775.6M121.3,768.6V775.6M113.5,768.6V775.6M124.8,768.6V775.6M124.6,768.6V775.6M120.8,768.6V775.6M120.4,768.6V775.6M114.9,768.6V775.6M113.2,768.6V775.6M119.3,768.6V775.6M113.7,768.6V775.6M115.3,768.6V775.6M115.9,768.6V775.6M113.4,768.6V775.6M118.6,768.6V775.6M118.3,768.6V775.6M123.1,768.6V775.6M119.2,768.6V775.6M120.7,768.6V775.6M119.0,768.6V775.6M120.9,768.6V775.6M118.5,768.6V775.6M204.8,768.6V775.6M204.7,768.6V775.6M192.2,768.6V775.6M181.6,768.6V775.6M150.2,768.6V775.6M143.4,768.6V775.6M148.1,768.6V775.6M130.6,768.6V775.6M186.3,768.6V775.6M157.0,768.6V775.6M192.7,768.6V775.6M155.9,768.6V775.6M201.6,768.6V775.6M192.8,768.6V775.6M125.0,768.6V775.6M141.8,768.6V775.6M197.8,768.6V775.6M162.6,768.6V775.6M203.4,768.6V775.6M156.8,768.6V775.6M130.8,768.6V775.6M175.4,768.6V775.6M187.3,768.6V775.6M146.6,768.6V775.6M132.0,768.6V775.6M151.6,768.6V775.6M202.1,768.6V775.6M185.6,768.6V775.6M134.4,768.6V775.6M144.7,768.6V775.6M133.1,768.6V775.6M129.8,768.6V775.6M188.8,768.6V775.6M139.2,768.6V775.6M169.7,768.6V775.6M160.8,768.6V775.6M140.3,768.6V775.6M183.6,768.6V775.6M135.5,768.6V775.6M176.5,768.6V775.6M134.3,768.6V775.6M158.7,768.6V775.6M142.0,768.6V775.6M146.6,768.6V775.6M202.7,768.6V775.6M189.3,768.6V775.6M149.3,768.6V775.6M195.8,768.6V775.6M141.9,768.6V775.6M156.5,768.6V775.6M193.4,768.6V775.6M176.3,768.6V775.6M133.0,768.6V775.6M204.1,768.6V775.6M142.1,768.6V775.6M145.7,768.6V775.6M186.8,768.6V775.6M151.3,768.6V775.6M148.7,768.6V775.6M130.9,768.6V775.6M132.2,768.6V775.6M171.6,768.6V775.6M144.4,768.6V775.6M173.1,768.6V775.6M154.7,768.6V775.6M161.3,768.6V775.6M201.7,768.6V775.6M163.7,768.6V775.6M171.0,768.6V775.6M194.3,768.6V775.6M139.6,768.6V775.6M137.3,768.6V775.6M197.7,768.6V775.6M190.4,768.6V775.6M145.0,768.6V775.6M140.2,768.6V775.6M184.2,768.6V775.6M200.2,768.6V775.6M140.7,768.6V775.6M201.0,768.6V775.6M195.6,768.6V775.6M173.3,768.6V775.6M158.7,768.6V775.6M133.3,768.6V775.6M128.1,768.6V775.6M202.0,768.6V775.6M144.1,768.6V775.6M181.4,768.6V775.6M145.6,768.6V775.6M190.9,768.6V775.6M172.7,768.6V775.6M148.5,768.6V775.6M139.0,768.6V775.6M182.6,768.6V775.6M130.5,768.6V775.6M143.3,768.6V775.6M169.7,768.6V775.6M193.2,768.6V775.6M174.1,768.6V775.6M147.4,768.6V775.6M198.4,768.6V775.6M141.3,768.6V775.6M126.3,768.6V775.6M146.5,768.6V775.6M160.7,768.6V775.6M129.8,768.6V775.6M139.1,768.6V775.6M154.5,768.6V775.6M170.8,768.6V775.6M135.5,768.6V775.6M154.0,768.6V775.6M196.3,768.6V775.6M203.4,768.6V775.6M177.6,768.6V775.6M180.3,768.6V775.6M171.8,768.6V775.6M136.2,768.6V775.6M127.8,768.6V775.6M126.4,768.6V775.6M197.8,768.6V775.6M181.1,768.6V775.6M202.0,768.6V775.6M126.7,768.6V775.6M175.9,768.6V775.6M163.6,768.6V775.6M183.4,768.6V775.6M150.5,768.6V775.6M204.9,768.6V775.6M131.0,768.6V775.6M168.7,768.6V775.6M184.0,768.6V775.6M197.0,768.6V775.6M184.0,768.6V775.6M181.3,768.6V775.6M188.5,768.6V775.6M198.2,768.6V775.6M153.1,768.6V775.6M179.8,768.6V775.6M197.1,768.6V775.6M194.7,768.6V775.6M158.4,768.6V775.6M188.2,768.6V775.6M194.1,768.6V775.6M170.8,768.6V775.6M175.0,768.6V775.6M155.6,768.6V775.6M171.6,768.6V775.6M173.7,768.6V775.6M131.4,768.6V775.6M176.2,768.6V775.6M204.5,768.6V775.6M195.4,768.6V775.6M183.3,768.6V775.6M156.1,768.6V775.6M183.8,768.6V775.6M171.5,768.6V775.6M160.2,768.6V775.6M192.1,768.6V775.6M131.7,768.6V775.6M185.0,768.6V775.6M127.4,768.6V775.6M173.1,768.6V775.6M163.5,768.6V775.6M143.4,768.6V775.6M180.9,768.6V775.6M164.8,768.6V775.6M174.2,768.6V775.6M198.6,768.6V775.6M145.5,768.6V775.6M125.9,768.6V775.6M149.1,768.6V775.6M179.3,768.6V775.6M141.2,768.6V775.6M138.6,768.6V775.6M197.5,768.6V775.6M177.8,768.6V775.6M160.4,768.6V775.6M196.3,768.6V775.6M151.2,768.6V775.6M178.3,768.6V775.6M140.9,768.6V775.6M159.5,768.6V775.6M189.5,768.6V775.6M198.1,768.6V775.6M195.4,768.6V775.6M155.8,768.6V775.6M171.6,768.6V775.6M150.3,768.6V775.6M135.9,768.6V775.6M164.7,768.6V775.6M192.0,768.6V775.6M192.9,768.6V775.6M181.9,768.6V775.6M201.0,768.6V775.6M147.1,768.6V775.6M138.5,768.6V775.6M161.1,768.6V775.6M147.0,768.6V775.6M142.1,768.6V775.6M158.1,768.6V775.6M175.1,768.6V775.6M164.5,768.6V775.6M150.2,768.6V775.6M192.1,768.6V775.6M203.6,768.6V775.6M161.2,768.6V775.6M131.0,768.6V775.6M127.5,768.6V775.6M194.8,768.6V775.6M128.3,768.6V775.6M181.7,768.6V775.6M170.6,768.6V775.6M149.7,768.6V775.6M188.3,768.6V775.6M126.5,768.6V775.6M135.9,768.6V775.6M161.4,768.6V775.6M127.0,768.6V775.6M191.4,768.6V775.6M144.0,768.6V775.6M136.3,768.6V775.6M128.8,768.6V775.6M175.3,768.6V775.6M160.7,768.6V775.6M175.4,768.6V775.6M177.4,768.6V775.6M189.6,768.6V775.6M201.7,768.6V775.6M179.8,768.6V775.6M140.9,768.6V775.6M163.0,768.6V775.6M139.3,768.6V775.6M125.9,768.6V775.6M162.8,768.6V775.6M182.1,768.6V775.6M139.3,768.6V775.6M146.8,768.6V775.6M152.7,768.6V775.6M180.8,768.6V775.6M166.6,768.6V775.6M174.2,768.6V775.6M185.5,768.6V775.6M156.5,768.6V775.6M188.4,768.6V775.6M197.5,768.6V775.6M132.0,768.6V775.6M199.6,768.6V775.6M182.8,768.6V775.6M135.4,768.6V775.6M161.3,768.6V775.6M175.0,768.6V775.6M197.8,768.6V775.6M155.1,768.6V775.6M170.5,768.6V775.6M195.3,768.6V775.6M188.7,768.6V775.6M200.5,768.6V775.6M162.1,768.6V775.6M177.1,768.6V775.6M141.4,768.6V775.6M182.8,768.6V775.6M190.5,768.6V775.6M176.3,768.6V775.6M182.4,768.6V775.6M142.1,768.6V775.6M197.0,768.6V775.6M203.4,768.6V775.6M203.2,768.6V775.6M168.0,768.6V775.6M188.3,768.6V775.6M150.6,768.6V775.6M197.8,768.6V775.6M193.5,768.6V775.6M152.9,768.6V775.6M131.6,768.6V775.6M160.3,768.6V775.6M169.0,768.6V775.6M186.5,768.6V775.6M164.0,768.6V775.6M127.3,768.6V775.6M189.7,768.6V775.6M130.1,768.6V775.6M189.0,768.6V775.6M138.8,768.6V775.6M151.8,768.6V775.6M188.0,768.6V775.6M136.2,768.6V775.6M136.9,768.6V775.6M166.3,768.6V775.6M182.9,768.6V775.6M192.2,768.6V775.6M180.1,768.6V775.6M200.7,768.6V775.6M164.4,768.6V775.6M200.9,768.6V775.6M131.9,768.6V775.6M142.7,768.6V775.6M167.1,768.6V775.6M148.2,768.6V775.6M183.3,768.6V775.6M176.1,768.6V775.6M166.8,768.6V775.6M192.5,768.6V775.6M169.8,768.6V775.6M149.9,768.6V775.6M155.5,768.6V775.6M192.6,768.6V775.6M197.0,768.6V775.6M141.7,768.6V775.6M193.1,768.6V775.6M202.5,768.6V775.6M166.9,768.6V775.6M170.8,768.6V775.6M141.1,768.6V775.6M167.9,768.6V775.6M165.3,768.6V775.6M173.4,768.6V775.6M127.2,768.6V775.6M202.6,768.6V775.6M166.3,768.6V775.6M250.7,768.6V775.6M237.1,768.6V775.6M233.0,768.6V775.6M244.4,768.6V775.6M208.8,768.6V775.6M235.7,768.6V775.6M228.6,768.6V775.6M259.5,768.6V775.6M257.6,768.6V775.6M220.3,768.6V775.6M232.0,768.6V775.6M212.2,768.6V775.6M229.7,768.6V775.6M251.5,768.6V775.6M256.3,768.6V775.6M232.2,768.6V775.6M223.1,768.6V775.6M215.9,768.6V775.6M240.2,768.6V775.6M257.7,768.6V775.6M212.4,768.6V775.6M249.4,768.6V775.6M206.3,768.6V775.6M216.1,768.6V775.6M218.0,768.6V775.6M244.2,768.6V775.6M223.4,768.6V775.6M225.3,768.6V775.6M240.3,768.6V775.6M211.0,768.6V775.6M246.7,768.6V775.6M212.0,768.6V775.6M234.1,768.6V775.6M219.3,768.6V775.6M216.3,768.6V775.6M235.2,768.6V775.6M229.9,768.6V775.6M226.4,768.6V775.6M228.6,768.6V775.6M235.2,768.6V775.6M214.1,768.6V775.6M216.6,768.6V775.6M241.0,768.6V775.6M241.4,768.6V775.6M235.2,768.6V775.6M253.5,768.6V775.6M239.9,768.6V775.6M253.8,768.6V775.6M218.3,768.6V775.6M247.2,768.6V775.6M251.2,768.6V775.6M256.5,768.6V775.6M223.0,768.6V775.6M223.0,768.6V775.6M257.6,768.6V775.6M217.4,768.6V775.6M261.9,768.6V775.6M255.6,768.6V775.6M212.6,768.6V775.6M218.6,768.6V775.6M246.4,768.6V775.6M219.8,768.6V775.6M210.5,768.6V775.6M252.4,768.6V775.6M229.0,768.6V775.6M250.0,768.6V775.6M212.2,768.6V775.6M228.0,768.6V775.6M244.1,768.6V775.6M206.0,768.6V775.6M216.5,768.6V775.6M243.9,768.6V775.6M256.9,768.6V775.6M260.2,768.6V775.6M211.6,768.6V775.6M233.8,768.6V775.6M248.2,768.6V775.6M233.7,768.6V775.6M244.1,768.6V775.6M215.8,768.6V775.6M209.0,768.6V775.6M211.1,768.6V775.6M207.1,768.6V775.6M236.4,768.6V775.6M234.3,768.6V775.6M237.4,768.6V775.6M213.4,768.6V775.6M215.5,768.6V775.6M216.6,768.6V775.6M252.9,768.6V775.6M261.4,768.6V775.6M257.8,768.6V775.6M210.4,768.6V775.6M208.5,768.6V775.6M259.2,768.6V775.6M231.3,768.6V775.6M248.6,768.6V775.6M223.6,768.6V775.6M231.6,768.6V775.6M234.4,768.6V775.6M229.5,768.6V775.6M239.3,768.6V775.6M205.8,768.6V775.6M245.0,768.6V775.6M253.1,768.6V775.6M215.3,768.6V775.6M230.9,768.6V775.6M247.1,768.6V775.6M228.1,768.6V775.6M216.1,768.6V775.6M214.4,768.6V775.6M234.2,768.6V775.6M205.9,768.6V775.6M255.9,768.6V775.6M250.7,768.6V775.6M245.2,768.6V775.6M254.1,768.6V775.6M240.9,768.6V775.6M228.1,768.6V775.6M239.2,768.6V775.6M233.7,768.6V775.6M261.0,768.6V775.6M250.9,768.6V775.6M219.7,768.6V775.6M256.9,768.6V775.6M293.1,768.6V775.6M294.6,768.6V775.6M278.2,768.6V775.6M297.9,768.6V775.6M297.2,768.6V775.6M289.8,768.6V775.6M292.7,768.6V775.6M292.6,768.6V775.6M278.2,768.6V775.6M290.9,768.6V775.6M264.8,768.6V775.6M275.7,768.6V775.6M280.8,768.6V775.6M262.4,768.6V775.6M276.2,768.6V775.6M287.5,768.6V775.6M287.0,768.6V775.6M271.3,768.6V775.6M299.8,768.6V775.6M288.6,768.6V775.6M275.5,768.6V775.6M288.4,768.6V775.6M284.8,768.6V775.6M283.3,768.6V775.6M277.6,768.6V775.6M302.0,768.6V775.6M287.7,768.6V775.6M290.1,768.6V775.6M292.5,768.6V775.6M301.2,768.6V775.6M262.9,768.6V775.6M286.6,768.6V775.6M291.6,768.6V775.6M272.3,768.6V775.6M278.1,768.6V775.6M264.0,768.6V775.6M269.8,768.6V775.6M277.0,768.6V775.6M265.9,768.6V775.6M272.0,768.6V775.6M298.2,768.6V775.6M284.0,768.6V775.6M282.3,768.6V775.6M300.7,768.6V775.6M327.9,768.6V775.6M319.9,768.6V775.6M323.7,768.6V775.6M307.2,768.6V775.6M318.9,768.6V775.6M322.6,768.6V775.6M306.5,768.6V775.6M326.4,768.6V775.6M309.1,768.6V775.6M316.1,768.6V775.6M309.3,768.6V775.6M316.6,768.6V775.6M319.3,768.6V775.6M306.8,768.6V775.6M326.8,768.6V775.6M315.0,768.6V775.6M317.4,768.6V775.6M319.0,768.6V775.6M340.4,768.6V775.6M353.1,768.6V775.6M349.8,768.6V775.6M340.3,768.6V775.6M355.2,768.6V775.6M340.7,768.6V775.6M331.0,768.6V775.6M339.0,768.6V775.6M332.0,768.6V775.6M335.9,768.6V775.6M356.5,768.6V775.6M344.0,768.6V775.6M361.5,768.6V775.6M356.3,768.6V775.6M332.2,768.6V775.6M364.6,768.6V775.6M363.1,768.6V775.6M333.0,768.6V775.6M361.7,768.6V775.6M345.3,768.6V775.6M347.0,768.6V775.6M364.1,768.6V775.6M338.9,768.6V775.6M348.6,768.6V775.6M362.8,768.6V775.6M355.4,768.6V775.6M346.7,768.6V775.6M364.3,768.6V775.6M358.7,768.6V775.6M351.3,768.6V775.6M334.5,768.6V775.6M352.0,768.6V775.6M346.2,768.6V775.6M337.5,768.6V775.6M332.3,768.6V775.6M367.2,768.6V775.6M373.0,768.6V775.6M377.0,768.6V775.6M373.2,768.6V775.6M369.7,768.6V775.6M375.5,768.6V775.6M372.6,768.6V775.6M379.0,768.6V775.6M374.6,768.6V775.6" stroke="#111" stroke-width="0.5"/>
<rect x="101" y="543" width="327.6" height="232.6" fill="none" stroke="#6a6a6a" stroke-width="1.2"/>
<path d="M101,581.2H95.5M101,635.3H95.5M101,689.8H95.5M101,744.4H95.5M184.5,775.6V780.1M278.4,775.6V780.1M370.4,775.6V780.1" stroke="#6a6a6a" stroke-width="1.2" fill="none"/>
<g font-family="Liberation Serif, serif" font-size="19.5" fill="#1a1a1a">
<text x="88.5" y="587.8" text-anchor="end">50</text>
<text x="88.5" y="641.9" text-anchor="end">0</text>
<text x="88.5" y="696.4" text-anchor="end">–50</text>
<text x="88.5" y="751" text-anchor="end">–100</text>
<text x="184.5" y="800.1" text-anchor="middle">50</text>
<text x="278.4" y="800.1" text-anchor="middle">100</text>
<text x="370.4" y="800.1" text-anchor="middle">150</text>
<text x="261.5" y="826.5" text-anchor="middle">mixed layer depth</text>
<text x="5.5" y="549.5">(<tspan font-style="italic">b</tspan>)</text>
<text transform="translate(16.5,662.5) rotate(-90)" text-anchor="middle">contribution of smoother</text>
<text transform="translate(40,662.5) rotate(-90)" text-anchor="middle">to fitted value</text>
</g></g>
<g id="pc"><path d="M530.6,562C534.7,563.9 547.6,570.1 555,573.6C562.4,577.1 568.3,580.1 575,583C581.7,585.9 588.3,588.5 595,591C601.7,593.5 608.3,595.5 615,598C621.7,600.5 628.3,603 635,606C641.7,609 648.3,612.7 655,616C661.7,619.3 668.8,623.1 675,626C681.2,628.9 687.2,631.9 692,633.6C696.8,635.3 699.3,635.5 704,636C708.7,636.5 715,636.5 720,636.4C725,636.3 730,636.1 734,635.6C738,635.1 740.3,634.9 744,633.6C747.7,632.3 751.7,630.4 756,628C760.3,625.6 764.3,623 770,619C775.7,615 783.3,609.2 790,604C796.7,598.8 802.7,594.1 810,588C817.3,581.9 830,571 834,567.6L834,642.4C828.3,642.4 810.7,642.3 800,642.4C789.3,642.5 778.3,642.7 770,643C761.7,643.3 756.7,643.6 750,644C743.3,644.4 736.7,645.2 730,645.6C723.3,646 717.5,646.5 710,646.4C702.5,646.3 692.5,645.6 685,645C677.5,644.4 671.7,643.9 665,643C658.3,642.1 651.7,640.9 645,639.6C638.3,638.3 631.7,636.4 625,635C618.3,633.6 611.7,632.1 605,631C598.3,629.9 591.7,628.9 585,628.4C578.3,627.9 571.7,627.8 565,628C558.3,628.2 550.7,628.9 545,629.6C539.3,630.3 533,631.9 530.6,632.4Z" fill="#c9cacc"/>
<path d="M518.6,634.3H846.2" stroke="#979797" stroke-width="1.1"/>
<path d="M530.6,596.6C534.7,597.6 547.6,600.7 555,602.4C562.4,604.1 568.3,605.2 575,606.6C581.7,608 588.3,609.4 595,611C601.7,612.6 608.3,614.2 615,616C621.7,617.8 628.3,620 635,622C641.7,624 648.3,625.9 655,628C661.7,630.1 668.8,632.8 675,634.8C681.2,636.8 687.2,638.8 692,640C696.8,641.2 699.3,641.6 704,642C708.7,642.4 715,642.6 720,642.4C725,642.2 729.7,641.7 734,641C738.3,640.3 741.7,639.2 746,638C750.3,636.8 754.3,636 760,634C765.7,632 773.3,628.7 780,626C786.7,623.3 793.3,620.7 800,618C806.7,615.3 814.3,612.3 820,610C825.7,607.7 831.7,605.3 834,604.4" fill="none" stroke="#585858" stroke-width="0.95"/>
<path d="M530.2,766.4V773.5M533.0,766.4V773.5M535.8,766.4V773.5M547.0,766.4V773.5M552.7,766.4V773.5M558.4,766.4V773.5M798.5,766.4V773.5M804.7,766.4V773.5M834.0,766.4V773.5M654.1,766.4V773.5M655.3,766.4V773.5M585.1,766.4V773.5M567.5,766.4V773.5M616.2,766.4V773.5M602.7,766.4V773.5M674.6,766.4V773.5M658.5,766.4V773.5M646.6,766.4V773.5M640.8,766.4V773.5M654.6,766.4V773.5M585.5,766.4V773.5M625.0,766.4V773.5M587.7,766.4V773.5M687.4,766.4V773.5M573.9,766.4V773.5M675.7,766.4V773.5M576.0,766.4V773.5M658.1,766.4V773.5M611.2,766.4V773.5M620.2,766.4V773.5M678.9,766.4V773.5M568.5,766.4V773.5M574.1,766.4V773.5M688.6,766.4V773.5M634.2,766.4V773.5M578.2,766.4V773.5M698.3,766.4V773.5M692.9,766.4V773.5M581.1,766.4V773.5M622.7,766.4V773.5M584.1,766.4V773.5M607.9,766.4V773.5M649.3,766.4V773.5M587.9,766.4V773.5M659.4,766.4V773.5M572.9,766.4V773.5M588.9,766.4V773.5M675.3,766.4V773.5M619.7,766.4V773.5M622.1,766.4V773.5M645.9,766.4V773.5M629.9,766.4V773.5M617.5,766.4V773.5M570.1,766.4V773.5M663.3,766.4V773.5M695.6,766.4V773.5M696.8,766.4V773.5M654.9,766.4V773.5M613.8,766.4V773.5M614.7,766.4V773.5M658.5,766.4V773.5M656.3,766.4V773.5M581.3,766.4V773.5M597.5,766.4V773.5M614.7,766.4V773.5M634.5,766.4V773.5M674.6,766.4V773.5M633.0,766.4V773.5M569.8,766.4V773.5M676.2,766.4V773.5M623.6,766.4V773.5M635.5,766.4V773.5M595.8,766.4V773.5M623.3,766.4V773.5M618.0,766.4V773.5M669.4,766.4V773.5M579.8,766.4V773.5M639.7,766.4V773.5M589.9,766.4V773.5M659.3,766.4V773.5M570.9,766.4V773.5M603.1,766.4V773.5M612.1,766.4V773.5M651.3,766.4V773.5M573.0,766.4V773.5M627.5,766.4V773.5M594.0,766.4V773.5M603.8,766.4V773.5M629.8,766.4V773.5M694.5,766.4V773.5M630.5,766.4V773.5M694.1,766.4V773.5M588.5,766.4V773.5M689.8,766.4V773.5M614.8,766.4V773.5M591.4,766.4V773.5M666.3,766.4V773.5M688.2,766.4V773.5M566.9,766.4V773.5M601.9,766.4V773.5M669.3,766.4V773.5M611.8,766.4V773.5M598.4,766.4V773.5M567.2,766.4V773.5M571.4,766.4V773.5M649.0,766.4V773.5M697.8,766.4V773.5M699.8,766.4V773.5M633.5,766.4V773.5M569.2,766.4V773.5M609.2,766.4V773.5M671.5,766.4V773.5M677.5,766.4V773.5M651.7,766.4V773.5M596.8,766.4V773.5M636.6,766.4V773.5M630.0,766.4V773.5M650.0,766.4V773.5M601.2,766.4V773.5M692.9,766.4V773.5M685.8,766.4V773.5M587.7,766.4V773.5M605.0,766.4V773.5M683.0,766.4V773.5M603.3,766.4V773.5M692.5,766.4V773.5M635.0,766.4V773.5M659.3,766.4V773.5M660.4,766.4V773.5M594.7,766.4V773.5M604.2,766.4V773.5M600.2,766.4V773.5M657.6,766.4V773.5M659.0,766.4V773.5M583.7,766.4V773.5M684.8,766.4V773.5M622.3,766.4V773.5M598.3,766.4V773.5M624.3,766.4V773.5M697.2,766.4V773.5M641.0,766.4V773.5M649.7,766.4V773.5M689.3,766.4V773.5M694.9,766.4V773.5M667.9,766.4V773.5M622.0,766.4V773.5M644.9,766.4V773.5M686.7,766.4V773.5M671.8,766.4V773.5M643.7,766.4V773.5M612.6,766.4V773.5M615.4,766.4V773.5M664.6,766.4V773.5M641.5,766.4V773.5M568.3,766.4V773.5M661.2,766.4V773.5M687.1,766.4V773.5M672.9,766.4V773.5M686.3,766.4V773.5M688.0,766.4V773.5M637.7,766.4V773.5M671.7,766.4V773.5M616.8,766.4V773.5M579.2,766.4V773.5M613.3,766.4V773.5M607.8,766.4V773.5M691.2,766.4V773.5M658.3,766.4V773.5M638.6,766.4V773.5M649.4,766.4V773.5M582.7,766.4V773.5M637.6,766.4V773.5M659.9,766.4V773.5M618.8,766.4V773.5M598.9,766.4V773.5M620.5,766.4V773.5M609.4,766.4V773.5M657.8,766.4V773.5M585.0,766.4V773.5M578.1,766.4V773.5M607.9,766.4V773.5M659.2,766.4V773.5M667.8,766.4V773.5M654.4,766.4V773.5M691.3,766.4V773.5M615.0,766.4V773.5M570.0,766.4V773.5M631.4,766.4V773.5M625.5,766.4V773.5M590.0,766.4V773.5M655.4,766.4V773.5M715.5,766.4V773.5M721.3,766.4V773.5M761.3,766.4V773.5M700.5,766.4V773.5M723.4,766.4V773.5M718.2,766.4V773.5M713.1,766.4V773.5M728.1,766.4V773.5M714.3,766.4V773.5M759.7,766.4V773.5M732.6,766.4V773.5M745.4,766.4V773.5M710.6,766.4V773.5M730.2,766.4V773.5M739.4,766.4V773.5M754.8,766.4V773.5M716.2,766.4V773.5M729.9,766.4V773.5M755.6,766.4V773.5M754.1,766.4V773.5M714.8,766.4V773.5M735.0,766.4V773.5M749.5,766.4V773.5M725.7,766.4V773.5M743.8,766.4V773.5M743.1,766.4V773.5M763.2,766.4V773.5M736.0,766.4V773.5M744.3,766.4V773.5M722.8,766.4V773.5M747.6,766.4V773.5M720.9,766.4V773.5M732.5,766.4V773.5M723.5,766.4V773.5M720.0,766.4V773.5M708.8,766.4V773.5M714.7,766.4V773.5M735.4,766.4V773.5M716.4,766.4V773.5M703.0,766.4V773.5M752.2,766.4V773.5M718.6,766.4V773.5M760.8,766.4V773.5M738.9,766.4V773.5M725.3,766.4V773.5M756.8,766.4V773.5M758.3,766.4V773.5M720.9,766.4V773.5M708.2,766.4V773.5M741.7,766.4V773.5M754.8,766.4V773.5M739.6,766.4V773.5M751.0,766.4V773.5M726.8,766.4V773.5M740.2,766.4V773.5M717.1,766.4V773.5M726.4,766.4V773.5M724.7,766.4V773.5M725.0,766.4V773.5M726.0,766.4V773.5M752.5,766.4V773.5M711.0,766.4V773.5M713.3,766.4V773.5M716.6,766.4V773.5M763.1,766.4V773.5M734.0,766.4V773.5M703.4,766.4V773.5M754.3,766.4V773.5M756.8,766.4V773.5M753.4,766.4V773.5M723.3,766.4V773.5M747.8,766.4V773.5M719.9,766.4V773.5M708.9,766.4V773.5M756.2,766.4V773.5M754.1,766.4V773.5M713.7,766.4V773.5M757.2,766.4V773.5M701.6,766.4V773.5M720.0,766.4V773.5M700.8,766.4V773.5M711.1,766.4V773.5M710.6,766.4V773.5M746.5,766.4V773.5M719.3,766.4V773.5M712.4,766.4V773.5M712.0,766.4V773.5M720.3,766.4V773.5M756.0,766.4V773.5M739.4,766.4V773.5M706.7,766.4V773.5M744.5,766.4V773.5M734.9,766.4V773.5M729.1,766.4V773.5M734.3,766.4V773.5M742.3,766.4V773.5M752.0,766.4V773.5M732.8,766.4V773.5M741.3,766.4V773.5M730.4,766.4V773.5M741.2,766.4V773.5M725.3,766.4V773.5M727.0,766.4V773.5M733.6,766.4V773.5M746.5,766.4V773.5M718.1,766.4V773.5M760.1,766.4V773.5M732.0,766.4V773.5M755.6,766.4V773.5M744.9,766.4V773.5M762.2,766.4V773.5M744.4,766.4V773.5M727.7,766.4V773.5M726.4,766.4V773.5M739.5,766.4V773.5M749.0,766.4V773.5M754.5,766.4V773.5M708.4,766.4V773.5M704.1,766.4V773.5M707.0,766.4V773.5M705.5,766.4V773.5M703.7,766.4V773.5M700.5,766.4V773.5M716.2,766.4V773.5M707.4,766.4V773.5M744.5,766.4V773.5M740.0,766.4V773.5M762.8,766.4V773.5M762.4,766.4V773.5M748.5,766.4V773.5M761.7,766.4V773.5M701.8,766.4V773.5M714.8,766.4V773.5M760.2,766.4V773.5M730.9,766.4V773.5M713.4,766.4V773.5M749.2,766.4V773.5M727.5,766.4V773.5M735.3,766.4V773.5M720.5,766.4V773.5M715.7,766.4V773.5M705.7,766.4V773.5M739.4,766.4V773.5M761.9,766.4V773.5M764.1,766.4V773.5M749.7,766.4V773.5M760.7,766.4V773.5M723.5,766.4V773.5M719.4,766.4V773.5M760.0,766.4V773.5M739.0,766.4V773.5M743.5,766.4V773.5M700.8,766.4V773.5M714.9,766.4V773.5M731.4,766.4V773.5M747.5,766.4V773.5M753.7,766.4V773.5M749.2,766.4V773.5M722.1,766.4V773.5M724.8,766.4V773.5M756.1,766.4V773.5M764.3,766.4V773.5M731.5,766.4V773.5M712.7,766.4V773.5M740.6,766.4V773.5M734.8,766.4V773.5M723.5,766.4V773.5M715.0,766.4V773.5M725.0,766.4V773.5M739.8,766.4V773.5M708.2,766.4V773.5M735.2,766.4V773.5M761.9,766.4V773.5M748.4,766.4V773.5M716.4,766.4V773.5M727.2,766.4V773.5M706.7,766.4V773.5M747.9,766.4V773.5M741.1,766.4V773.5M711.2,766.4V773.5M735.6,766.4V773.5M738.7,766.4V773.5M737.5,766.4V773.5M724.6,766.4V773.5M720.1,766.4V773.5M723.1,766.4V773.5M764.8,766.4V773.5M721.5,766.4V773.5M732.7,766.4V773.5M729.9,766.4V773.5M711.2,766.4V773.5M726.0,766.4V773.5M713.3,766.4V773.5M721.0,766.4V773.5M723.9,766.4V773.5M722.7,766.4V773.5M761.0,766.4V773.5M719.3,766.4V773.5M721.6,766.4V773.5M742.7,766.4V773.5M725.8,766.4V773.5M733.5,766.4V773.5M742.1,766.4V773.5M704.8,766.4V773.5M743.7,766.4V773.5M706.6,766.4V773.5M716.3,766.4V773.5M752.6,766.4V773.5M764.3,766.4V773.5M743.8,766.4V773.5M711.2,766.4V773.5M728.5,766.4V773.5M718.4,766.4V773.5M754.7,766.4V773.5M715.2,766.4V773.5M712.8,766.4V773.5M741.5,766.4V773.5M741.4,766.4V773.5M738.3,766.4V773.5M731.1,766.4V773.5M762.3,766.4V773.5M729.8,766.4V773.5M760.9,766.4V773.5M725.5,766.4V773.5M730.2,766.4V773.5M723.4,766.4V773.5M746.5,766.4V773.5M748.8,766.4V773.5M715.5,766.4V773.5M734.2,766.4V773.5M747.2,766.4V773.5M732.6,766.4V773.5M743.1,766.4V773.5M740.1,766.4V773.5M746.4,766.4V773.5M723.1,766.4V773.5M719.9,766.4V773.5M701.6,766.4V773.5M757.9,766.4V773.5M751.3,766.4V773.5M725.4,766.4V773.5M762.9,766.4V773.5M758.7,766.4V773.5M709.8,766.4V773.5M754.4,766.4V773.5M727.4,766.4V773.5M720.4,766.4V773.5M716.8,766.4V773.5M726.9,766.4V773.5M703.4,766.4V773.5M703.3,766.4V773.5M707.6,766.4V773.5M720.0,766.4V773.5M710.3,766.4V773.5M707.9,766.4V773.5M754.1,766.4V773.5M724.7,766.4V773.5M731.9,766.4V773.5M739.1,766.4V773.5M760.6,766.4V773.5M709.5,766.4V773.5M714.8,766.4V773.5M755.9,766.4V773.5M759.1,766.4V773.5M760.6,766.4V773.5M734.3,766.4V773.5M723.9,766.4V773.5M712.3,766.4V773.5M759.2,766.4V773.5M749.7,766.4V773.5M735.9,766.4V773.5M751.4,766.4V773.5M716.9,766.4V773.5M734.7,766.4V773.5M758.9,766.4V773.5M707.1,766.4V773.5M740.1,766.4V773.5M712.0,766.4V773.5M754.5,766.4V773.5M754.6,766.4V773.5M741.9,766.4V773.5M728.3,766.4V773.5M701.4,766.4V773.5M732.1,766.4V773.5M723.3,766.4V773.5M726.0,766.4V773.5M788.0,766.4V773.5M778.1,766.4V773.5M779.0,766.4V773.5M786.1,766.4V773.5M787.4,766.4V773.5M778.7,766.4V773.5M778.6,766.4V773.5M786.2,766.4V773.5M774.3,766.4V773.5M787.5,766.4V773.5M765.6,766.4V773.5M784.9,766.4V773.5M778.2,766.4V773.5M780.6,766.4V773.5M789.8,766.4V773.5M770.5,766.4V773.5M775.2,766.4V773.5M785.0,766.4V773.5M783.7,766.4V773.5M778.1,766.4V773.5M784.4,766.4V773.5M781.9,766.4V773.5M786.7,766.4V773.5M781.3,766.4V773.5M774.1,766.4V773.5M772.2,766.4V773.5M767.1,766.4V773.5M768.1,766.4V773.5M766.1,766.4V773.5M789.4,766.4V773.5" stroke="#111" stroke-width="0.5"/>
<rect x="518.6" y="542.8" width="327.6" height="230.7" fill="none" stroke="#6a6a6a" stroke-width="1.2"/>
<path d="M518.6,580.4H513.1M518.6,634.3H513.1M518.6,688.5H513.1M518.6,742.8H513.1M560.5,773.5V778M640,773.5V778M719.5,773.5V778M799.3,773.5V778" stroke="#6a6a6a" stroke-width="1.2" fill="none"/>
<g font-family="Liberation Serif, serif" font-size="19.5" fill="#1a1a1a">
<text x="509" y="587" text-anchor="end">50</text>
<text x="509" y="640.9" text-anchor="end">0</text>
<text x="509" y="695.1" text-anchor="end">–50</text>
<text x="509" y="749.4" text-anchor="end">–100</text>
<text x="560.5" y="799" text-anchor="middle">3.5</text>
<text x="640" y="799" text-anchor="middle">4.0</text>
<text x="719.5" y="799" text-anchor="middle">4.5</text>
<text x="799.3" y="799" text-anchor="middle">5.0</text>
<text x="679.5" y="828.5" text-anchor="middle">dissolved oxygen at 100 m</text>
<text x="462.5" y="550.8">(<tspan font-style="italic">c</tspan>)</text>
</g></g>
<g id="pd"><path d="M113.4,959C124.5,958.3 162.2,956.1 180,955C197.8,953.9 208.7,953.1 220,952.4C231.3,951.7 241.7,951.9 248,950.8C254.3,949.7 254.3,947.7 258,946C261.7,944.3 263,943.8 270,940.5C277,937.2 286.7,932.6 300,926C313.3,919.4 330.6,910.7 350,901C369.4,891.3 405.5,873.5 416.6,868L416.6,941C405.5,941.6 369.4,943.5 350,944.5C330.6,945.5 314.7,946.4 300,947.2C285.3,948 270.3,948.8 262,949.5C253.7,950.2 253.7,950.4 250,951.2C246.3,952 245,952.1 240,954.2C235,956.3 230,959 220,964C210,969 197.8,974.9 180,984C162.2,993.1 124.5,1012.8 113.4,1018.6Z" fill="#c9cacc"/>
<path d="M101,951.4H428.4" stroke="#979797" stroke-width="1.1"/>
<path d="M113.4,988.6C163.9,974.6 366.1,918.4 416.6,904.4" fill="none" stroke="#585858" stroke-width="0.95"/>
<path d="M113.0,1081.5V1088.4M140.0,1081.5V1088.4M152.5,1081.5V1088.4M170.0,1081.5V1088.4M172.5,1081.5V1088.4M178.8,1081.5V1088.4M182.5,1081.5V1088.4M303.4,1081.5V1088.4M307.0,1081.5V1088.4M311.6,1081.5V1088.4M315.4,1081.5V1088.4M319.2,1081.5V1088.4M339.0,1081.5V1088.4M341.8,1081.5V1088.4M354.2,1081.5V1088.4M371.0,1081.5V1088.4M375.6,1081.5V1088.4M403.0,1081.5V1088.4M411.4,1081.5V1088.4M416.3,1081.5V1088.4M191.2,1081.5V1088.4M191.2,1081.5V1088.4M192.6,1081.5V1088.4M186.7,1081.5V1088.4M187.1,1081.5V1088.4M186.3,1081.5V1088.4M187.0,1081.5V1088.4M194.9,1081.5V1088.4M197.7,1081.5V1088.4M195.5,1081.5V1088.4M196.1,1081.5V1088.4M197.0,1081.5V1088.4M199.9,1081.5V1088.4M198.3,1081.5V1088.4M194.1,1081.5V1088.4M195.9,1081.5V1088.4M195.0,1081.5V1088.4M200.1,1081.5V1088.4M199.7,1081.5V1088.4M277.9,1081.5V1088.4M270.3,1081.5V1088.4M289.3,1081.5V1088.4M274.8,1081.5V1088.4M224.9,1081.5V1088.4M280.0,1081.5V1088.4M246.3,1081.5V1088.4M271.2,1081.5V1088.4M253.5,1081.5V1088.4M241.0,1081.5V1088.4M234.9,1081.5V1088.4M241.0,1081.5V1088.4M230.2,1081.5V1088.4M211.9,1081.5V1088.4M277.2,1081.5V1088.4M275.2,1081.5V1088.4M292.7,1081.5V1088.4M265.3,1081.5V1088.4M252.5,1081.5V1088.4M270.6,1081.5V1088.4M213.5,1081.5V1088.4M263.9,1081.5V1088.4M242.2,1081.5V1088.4M217.4,1081.5V1088.4M219.8,1081.5V1088.4M249.6,1081.5V1088.4M224.6,1081.5V1088.4M243.7,1081.5V1088.4M257.3,1081.5V1088.4M237.8,1081.5V1088.4M213.2,1081.5V1088.4M246.6,1081.5V1088.4M222.9,1081.5V1088.4M222.9,1081.5V1088.4M219.1,1081.5V1088.4M235.1,1081.5V1088.4M207.8,1081.5V1088.4M261.6,1081.5V1088.4M289.7,1081.5V1088.4M237.2,1081.5V1088.4M267.9,1081.5V1088.4M287.8,1081.5V1088.4M205.0,1081.5V1088.4M214.2,1081.5V1088.4M276.0,1081.5V1088.4M278.9,1081.5V1088.4M260.4,1081.5V1088.4M215.9,1081.5V1088.4M239.5,1081.5V1088.4M281.7,1081.5V1088.4M283.4,1081.5V1088.4M275.7,1081.5V1088.4M219.9,1081.5V1088.4M280.4,1081.5V1088.4M235.9,1081.5V1088.4M267.6,1081.5V1088.4M213.7,1081.5V1088.4M291.3,1081.5V1088.4M257.1,1081.5V1088.4M268.2,1081.5V1088.4M220.7,1081.5V1088.4M258.4,1081.5V1088.4M255.0,1081.5V1088.4M256.0,1081.5V1088.4M234.4,1081.5V1088.4M268.7,1081.5V1088.4M232.7,1081.5V1088.4M228.5,1081.5V1088.4M216.3,1081.5V1088.4M264.6,1081.5V1088.4M211.4,1081.5V1088.4M222.0,1081.5V1088.4M207.4,1081.5V1088.4M260.8,1081.5V1088.4M252.7,1081.5V1088.4M251.5,1081.5V1088.4M204.6,1081.5V1088.4M241.9,1081.5V1088.4M232.9,1081.5V1088.4M209.6,1081.5V1088.4M201.3,1081.5V1088.4M293.8,1081.5V1088.4M212.3,1081.5V1088.4M229.0,1081.5V1088.4M226.0,1081.5V1088.4M256.5,1081.5V1088.4M208.2,1081.5V1088.4M244.7,1081.5V1088.4M235.1,1081.5V1088.4M278.6,1081.5V1088.4M201.5,1081.5V1088.4M232.1,1081.5V1088.4M247.2,1081.5V1088.4M291.2,1081.5V1088.4M249.1,1081.5V1088.4M245.1,1081.5V1088.4M263.3,1081.5V1088.4M228.6,1081.5V1088.4M204.0,1081.5V1088.4M247.6,1081.5V1088.4M285.7,1081.5V1088.4M269.7,1081.5V1088.4M225.0,1081.5V1088.4M264.6,1081.5V1088.4M280.0,1081.5V1088.4M225.0,1081.5V1088.4M255.7,1081.5V1088.4M234.1,1081.5V1088.4M223.7,1081.5V1088.4M227.7,1081.5V1088.4M220.0,1081.5V1088.4M233.6,1081.5V1088.4M204.5,1081.5V1088.4M238.0,1081.5V1088.4M209.1,1081.5V1088.4M271.5,1081.5V1088.4M256.8,1081.5V1088.4M201.4,1081.5V1088.4M273.0,1081.5V1088.4M218.7,1081.5V1088.4M245.7,1081.5V1088.4M252.6,1081.5V1088.4M232.0,1081.5V1088.4M227.9,1081.5V1088.4M241.5,1081.5V1088.4M213.7,1081.5V1088.4M281.3,1081.5V1088.4M211.4,1081.5V1088.4M277.6,1081.5V1088.4M221.3,1081.5V1088.4M229.2,1081.5V1088.4M237.1,1081.5V1088.4M204.1,1081.5V1088.4M212.9,1081.5V1088.4M234.6,1081.5V1088.4M242.1,1081.5V1088.4M282.5,1081.5V1088.4M293.1,1081.5V1088.4M205.1,1081.5V1088.4M250.8,1081.5V1088.4M213.0,1081.5V1088.4M275.7,1081.5V1088.4M231.0,1081.5V1088.4M284.0,1081.5V1088.4M251.7,1081.5V1088.4M212.7,1081.5V1088.4M201.5,1081.5V1088.4M224.1,1081.5V1088.4M281.7,1081.5V1088.4M214.9,1081.5V1088.4M245.5,1081.5V1088.4M235.6,1081.5V1088.4M233.1,1081.5V1088.4M275.6,1081.5V1088.4M220.9,1081.5V1088.4M267.8,1081.5V1088.4M263.0,1081.5V1088.4M288.0,1081.5V1088.4M249.4,1081.5V1088.4M286.6,1081.5V1088.4M242.0,1081.5V1088.4M254.3,1081.5V1088.4M258.7,1081.5V1088.4M279.1,1081.5V1088.4M284.5,1081.5V1088.4M211.7,1081.5V1088.4M213.8,1081.5V1088.4M250.6,1081.5V1088.4M276.6,1081.5V1088.4M250.6,1081.5V1088.4M228.9,1081.5V1088.4M290.5,1081.5V1088.4M228.7,1081.5V1088.4M209.1,1081.5V1088.4M205.8,1081.5V1088.4M203.8,1081.5V1088.4M268.6,1081.5V1088.4M211.0,1081.5V1088.4M267.6,1081.5V1088.4M281.6,1081.5V1088.4M294.0,1081.5V1088.4M276.2,1081.5V1088.4M240.5,1081.5V1088.4M258.9,1081.5V1088.4M278.5,1081.5V1088.4M267.6,1081.5V1088.4M228.0,1081.5V1088.4M271.9,1081.5V1088.4M211.2,1081.5V1088.4M229.7,1081.5V1088.4M293.6,1081.5V1088.4M244.8,1081.5V1088.4M225.9,1081.5V1088.4M274.0,1081.5V1088.4M242.9,1081.5V1088.4M201.3,1081.5V1088.4M203.7,1081.5V1088.4M225.1,1081.5V1088.4M231.9,1081.5V1088.4M288.2,1081.5V1088.4M224.0,1081.5V1088.4M280.1,1081.5V1088.4M280.4,1081.5V1088.4M239.7,1081.5V1088.4M293.4,1081.5V1088.4M271.9,1081.5V1088.4M246.0,1081.5V1088.4M225.3,1081.5V1088.4M243.9,1081.5V1088.4M284.9,1081.5V1088.4M250.9,1081.5V1088.4M219.0,1081.5V1088.4M235.9,1081.5V1088.4M245.3,1081.5V1088.4M218.7,1081.5V1088.4M254.3,1081.5V1088.4M204.2,1081.5V1088.4M277.4,1081.5V1088.4M217.6,1081.5V1088.4M210.6,1081.5V1088.4M255.8,1081.5V1088.4M229.6,1081.5V1088.4M283.3,1081.5V1088.4M247.2,1081.5V1088.4M249.5,1081.5V1088.4M278.6,1081.5V1088.4M220.9,1081.5V1088.4M270.3,1081.5V1088.4M261.4,1081.5V1088.4M240.8,1081.5V1088.4M290.2,1081.5V1088.4M203.0,1081.5V1088.4M281.2,1081.5V1088.4M214.3,1081.5V1088.4M279.1,1081.5V1088.4M215.3,1081.5V1088.4M206.0,1081.5V1088.4M247.6,1081.5V1088.4M287.1,1081.5V1088.4M224.9,1081.5V1088.4M246.2,1081.5V1088.4M257.5,1081.5V1088.4M223.7,1081.5V1088.4M250.3,1081.5V1088.4M201.9,1081.5V1088.4M242.8,1081.5V1088.4M271.7,1081.5V1088.4M232.6,1081.5V1088.4M221.5,1081.5V1088.4M205.7,1081.5V1088.4M266.2,1081.5V1088.4M240.7,1081.5V1088.4M286.0,1081.5V1088.4M269.9,1081.5V1088.4M210.3,1081.5V1088.4M286.0,1081.5V1088.4M287.7,1081.5V1088.4M277.0,1081.5V1088.4M278.3,1081.5V1088.4M264.4,1081.5V1088.4M268.0,1081.5V1088.4M263.0,1081.5V1088.4M255.9,1081.5V1088.4M224.9,1081.5V1088.4M213.4,1081.5V1088.4M268.5,1081.5V1088.4M256.5,1081.5V1088.4M206.3,1081.5V1088.4M260.7,1081.5V1088.4M257.7,1081.5V1088.4M248.6,1081.5V1088.4M273.1,1081.5V1088.4M282.5,1081.5V1088.4M236.4,1081.5V1088.4M276.8,1081.5V1088.4M247.4,1081.5V1088.4M254.2,1081.5V1088.4M239.5,1081.5V1088.4M287.8,1081.5V1088.4M242.3,1081.5V1088.4M289.6,1081.5V1088.4M232.5,1081.5V1088.4M263.5,1081.5V1088.4M285.9,1081.5V1088.4M264.6,1081.5V1088.4M235.9,1081.5V1088.4M208.2,1081.5V1088.4M245.5,1081.5V1088.4M239.5,1081.5V1088.4M276.7,1081.5V1088.4M273.9,1081.5V1088.4M292.7,1081.5V1088.4M242.6,1081.5V1088.4M239.2,1081.5V1088.4M253.5,1081.5V1088.4M270.7,1081.5V1088.4M208.4,1081.5V1088.4M221.0,1081.5V1088.4M214.6,1081.5V1088.4M231.2,1081.5V1088.4M228.9,1081.5V1088.4M291.0,1081.5V1088.4M220.3,1081.5V1088.4M287.8,1081.5V1088.4M228.4,1081.5V1088.4M220.0,1081.5V1088.4M291.6,1081.5V1088.4M209.3,1081.5V1088.4M211.5,1081.5V1088.4M213.0,1081.5V1088.4M207.2,1081.5V1088.4M237.0,1081.5V1088.4M220.8,1081.5V1088.4M215.8,1081.5V1088.4M202.5,1081.5V1088.4M265.9,1081.5V1088.4M205.6,1081.5V1088.4M222.5,1081.5V1088.4M253.6,1081.5V1088.4M283.2,1081.5V1088.4M262.3,1081.5V1088.4M266.9,1081.5V1088.4M266.2,1081.5V1088.4M275.1,1081.5V1088.4M280.3,1081.5V1088.4M215.4,1081.5V1088.4M206.0,1081.5V1088.4M258.7,1081.5V1088.4M249.3,1081.5V1088.4M249.5,1081.5V1088.4M273.7,1081.5V1088.4M217.2,1081.5V1088.4M266.7,1081.5V1088.4M240.7,1081.5V1088.4M240.2,1081.5V1088.4M223.8,1081.5V1088.4M227.2,1081.5V1088.4M254.8,1081.5V1088.4M252.5,1081.5V1088.4M285.3,1081.5V1088.4M227.1,1081.5V1088.4M267.6,1081.5V1088.4M210.0,1081.5V1088.4M261.6,1081.5V1088.4M215.9,1081.5V1088.4M280.8,1081.5V1088.4M290.8,1081.5V1088.4M224.7,1081.5V1088.4M276.2,1081.5V1088.4M221.4,1081.5V1088.4M229.4,1081.5V1088.4M210.6,1081.5V1088.4M242.1,1081.5V1088.4M210.7,1081.5V1088.4M266.5,1081.5V1088.4M254.5,1081.5V1088.4M240.1,1081.5V1088.4M267.0,1081.5V1088.4M222.7,1081.5V1088.4M231.8,1081.5V1088.4M234.8,1081.5V1088.4M201.2,1081.5V1088.4M283.5,1081.5V1088.4M209.2,1081.5V1088.4M210.4,1081.5V1088.4M275.2,1081.5V1088.4M277.1,1081.5V1088.4M242.6,1081.5V1088.4M240.2,1081.5V1088.4M213.9,1081.5V1088.4M201.1,1081.5V1088.4M249.4,1081.5V1088.4M223.7,1081.5V1088.4M215.0,1081.5V1088.4M285.2,1081.5V1088.4M202.8,1081.5V1088.4M234.7,1081.5V1088.4M270.9,1081.5V1088.4M270.4,1081.5V1088.4M210.9,1081.5V1088.4M270.0,1081.5V1088.4M253.4,1081.5V1088.4M259.6,1081.5V1088.4M288.7,1081.5V1088.4M275.3,1081.5V1088.4M256.7,1081.5V1088.4M272.6,1081.5V1088.4M246.7,1081.5V1088.4M252.3,1081.5V1088.4M277.0,1081.5V1088.4M258.6,1081.5V1088.4M236.0,1081.5V1088.4M202.9,1081.5V1088.4M274.4,1081.5V1088.4M232.6,1081.5V1088.4M240.9,1081.5V1088.4M227.7,1081.5V1088.4M252.6,1081.5V1088.4M238.3,1081.5V1088.4M278.6,1081.5V1088.4M256.3,1081.5V1088.4M252.9,1081.5V1088.4M273.8,1081.5V1088.4M242.0,1081.5V1088.4M250.9,1081.5V1088.4M270.8,1081.5V1088.4M268.2,1081.5V1088.4M270.2,1081.5V1088.4M283.9,1081.5V1088.4M252.9,1081.5V1088.4M252.6,1081.5V1088.4M218.5,1081.5V1088.4M223.4,1081.5V1088.4M241.4,1081.5V1088.4M247.4,1081.5V1088.4M284.6,1081.5V1088.4M205.0,1081.5V1088.4M233.5,1081.5V1088.4M269.8,1081.5V1088.4M243.7,1081.5V1088.4M279.9,1081.5V1088.4M215.9,1081.5V1088.4M272.7,1081.5V1088.4M241.1,1081.5V1088.4M253.8,1081.5V1088.4M206.3,1081.5V1088.4M238.5,1081.5V1088.4M275.7,1081.5V1088.4M269.4,1081.5V1088.4M253.5,1081.5V1088.4M240.3,1081.5V1088.4M204.6,1081.5V1088.4M266.0,1081.5V1088.4M242.5,1081.5V1088.4M268.3,1081.5V1088.4M257.9,1081.5V1088.4M238.4,1081.5V1088.4M282.3,1081.5V1088.4M213.3,1081.5V1088.4M290.2,1081.5V1088.4M209.0,1081.5V1088.4M291.1,1081.5V1088.4M255.6,1081.5V1088.4M242.6,1081.5V1088.4M288.0,1081.5V1088.4M248.6,1081.5V1088.4M294.4,1081.5V1088.4M299.6,1081.5V1088.4M298.5,1081.5V1088.4M295.7,1081.5V1088.4M294.8,1081.5V1088.4M296.9,1081.5V1088.4M300.5,1081.5V1088.4M300.1,1081.5V1088.4M297.3,1081.5V1088.4M294.3,1081.5V1088.4M299.8,1081.5V1088.4" stroke="#111" stroke-width="0.5"/>
<rect x="101" y="859" width="327.4" height="229.4" fill="none" stroke="#6a6a6a" stroke-width="1.2"/>
<path d="M101,897H95.5M101,951H95.5M101,1004.4H95.5M101,1057.6H95.5M130.7,1088.4V1092.9M181.2,1088.4V1092.9M231.4,1088.4V1092.9M281.6,1088.4V1092.9M332,1088.4V1092.9M382.2,1088.4V1092.9" stroke="#6a6a6a" stroke-width="1.2" fill="none"/>
<g font-family="Liberation Serif, serif" font-size="19.5" fill="#1a1a1a">
<text x="88.5" y="903.6" text-anchor="end">50</text>
<text x="88.5" y="957.6" text-anchor="end">0</text>
<text x="88.5" y="1011" text-anchor="end">–50</text>
<text x="88.5" y="1064.2" text-anchor="end">–100</text>
<text x="124.5" y="1114.6" text-anchor="middle">–0.4</text>
<text x="175" y="1114.6" text-anchor="middle">–0.2</text>
<text x="231.4" y="1114.6" text-anchor="middle">0</text>
<text x="281.6" y="1114.6" text-anchor="middle">0.2</text>
<text x="332" y="1114.6" text-anchor="middle">0.4</text>
<text x="382.2" y="1114.6" text-anchor="middle">0.6</text>
<text x="262" y="1144.2" text-anchor="middle">sea surface height deviation</text>
<text x="5.5" y="867.3">(<tspan font-style="italic">d</tspan>)</text>
<text transform="translate(16.5,976.9) rotate(-90)" text-anchor="middle">contribution of smoother</text>
<text transform="translate(40,976.9) rotate(-90)" text-anchor="middle">to fitted value</text>
</g></g>
<g id="pe"><path d="M533.4,938.4C536.2,939.3 543.9,941.8 550,943.6C556.1,945.4 563.3,947.7 570,949C576.7,950.3 583.3,951.2 590,951.6C596.7,952 603.3,951.9 610,951.6C616.7,951.3 623.3,950.9 630,950C636.7,949.1 643.3,947.7 650,946.4C656.7,945.1 665,943.4 670,942.4C675,941.4 675,941.5 680,940.5C685,939.5 693.3,937.4 700,936.4C706.7,935.4 713.3,934.5 720,934.4C726.7,934.3 733.3,934.7 740,936C746.7,937.3 753.3,939.7 760,942C766.7,944.3 773.3,947.3 780,950C786.7,952.7 793.3,955.3 800,958C806.7,960.7 813.8,963.5 820,966C826.2,968.5 834.2,971.8 837,973L837,1032.4C834.2,1029 826.2,1018.7 820,1012C813.8,1005.3 806.7,998.5 800,992C793.3,985.5 786,978.3 780,973C774,967.7 769.3,963.6 764,960C758.7,956.4 753.3,953.9 748,951.6C742.7,949.3 737.3,947.5 732,946.4C726.7,945.3 721.3,945 716,945C710.7,945 706,945 700,946.4C694,947.8 685,951.2 680,953.3C675,955.4 675,956 670,959C665,962 656.7,966.7 650,971C643.3,975.3 636.7,980.2 630,985C623.3,989.8 616.7,994.8 610,1000C603.3,1005.2 596.7,1010.5 590,1016C583.3,1021.5 576.7,1027.2 570,1033C563.3,1038.8 556.1,1045.6 550,1051C543.9,1056.4 536.2,1063.2 533.4,1065.6Z" fill="#c9cacc"/>
<path d="M521.6,951.6H847.6" stroke="#979797" stroke-width="1.1"/>
<path d="M533.4,1002.4C537.8,1000.8 550.6,996.4 560,993C569.4,989.6 580,985.7 590,982C600,978.3 611.7,974.3 620,971C628.3,967.7 633.3,965.2 640,962.4C646.7,959.6 655,956.1 660,954C665,951.9 666.7,951.2 670,950C673.3,948.8 675,948.4 680,947C685,945.6 694,942.8 700,941.6C706,940.4 710.7,940.1 716,940C721.3,939.9 726.7,940.1 732,941C737.3,941.9 742.7,943.7 748,945.6C753.3,947.5 758.7,949.7 764,952.4C769.3,955.1 774,958.1 780,962C786,965.9 793.3,971.3 800,976C806.7,980.7 813.8,985.5 820,990C826.2,994.5 834.2,1000.8 837,1003" fill="none" stroke="#585858" stroke-width="0.95"/>
<path d="M836.0,1084.1V1091.2M838.0,1084.1V1091.2M549.2,1084.1V1091.2M548.0,1084.1V1091.2M554.6,1084.1V1091.2M539.2,1084.1V1091.2M538.9,1084.1V1091.2M549.9,1084.1V1091.2M548.1,1084.1V1091.2M540.0,1084.1V1091.2M548.7,1084.1V1091.2M542.1,1084.1V1091.2M550.9,1084.1V1091.2M535.7,1084.1V1091.2M538.1,1084.1V1091.2M553.7,1084.1V1091.2M541.2,1084.1V1091.2M539.0,1084.1V1091.2M551.5,1084.1V1091.2M547.5,1084.1V1091.2M536.4,1084.1V1091.2M545.7,1084.1V1091.2M548.3,1084.1V1091.2M536.8,1084.1V1091.2M548.0,1084.1V1091.2M560.0,1084.1V1091.2M557.7,1084.1V1091.2M558.8,1084.1V1091.2M565.8,1084.1V1091.2M560.6,1084.1V1091.2M571.4,1084.1V1091.2M573.1,1084.1V1091.2M575.7,1084.1V1091.2M573.9,1084.1V1091.2M568.1,1084.1V1091.2M572.9,1084.1V1091.2M573.3,1084.1V1091.2M568.8,1084.1V1091.2M567.9,1084.1V1091.2M594.2,1084.1V1091.2M590.3,1084.1V1091.2M593.4,1084.1V1091.2M590.6,1084.1V1091.2M597.6,1084.1V1091.2M594.0,1084.1V1091.2M589.2,1084.1V1091.2M597.8,1084.1V1091.2M589.1,1084.1V1091.2M591.4,1084.1V1091.2M588.3,1084.1V1091.2M596.9,1084.1V1091.2M589.4,1084.1V1091.2M594.3,1084.1V1091.2M612.0,1084.1V1091.2M617.1,1084.1V1091.2M613.4,1084.1V1091.2M611.4,1084.1V1091.2M612.1,1084.1V1091.2M610.9,1084.1V1091.2M614.9,1084.1V1091.2M602.4,1084.1V1091.2M611.9,1084.1V1091.2M605.9,1084.1V1091.2M621.6,1084.1V1091.2M623.5,1084.1V1091.2M601.7,1084.1V1091.2M603.6,1084.1V1091.2M617.6,1084.1V1091.2M614.3,1084.1V1091.2M600.5,1084.1V1091.2M617.6,1084.1V1091.2M623.6,1084.1V1091.2M610.6,1084.1V1091.2M608.7,1084.1V1091.2M614.2,1084.1V1091.2M623.5,1084.1V1091.2M606.6,1084.1V1091.2M607.6,1084.1V1091.2M604.7,1084.1V1091.2M615.7,1084.1V1091.2M611.7,1084.1V1091.2M606.4,1084.1V1091.2M609.7,1084.1V1091.2M600.9,1084.1V1091.2M607.8,1084.1V1091.2M624.6,1084.1V1091.2M614.7,1084.1V1091.2M607.1,1084.1V1091.2M623.4,1084.1V1091.2M609.0,1084.1V1091.2M606.3,1084.1V1091.2M600.9,1084.1V1091.2M603.7,1084.1V1091.2M605.0,1084.1V1091.2M605.8,1084.1V1091.2M621.8,1084.1V1091.2M606.6,1084.1V1091.2M606.2,1084.1V1091.2M615.1,1084.1V1091.2M622.9,1084.1V1091.2M607.3,1084.1V1091.2M619.0,1084.1V1091.2M609.2,1084.1V1091.2M641.7,1084.1V1091.2M651.4,1084.1V1091.2M646.2,1084.1V1091.2M639.2,1084.1V1091.2M648.6,1084.1V1091.2M635.3,1084.1V1091.2M635.8,1084.1V1091.2M651.9,1084.1V1091.2M640.3,1084.1V1091.2M646.7,1084.1V1091.2M633.8,1084.1V1091.2M650.6,1084.1V1091.2M642.2,1084.1V1091.2M631.9,1084.1V1091.2M651.1,1084.1V1091.2M638.1,1084.1V1091.2M634.5,1084.1V1091.2M632.4,1084.1V1091.2M627.9,1084.1V1091.2M630.6,1084.1V1091.2M644.4,1084.1V1091.2M628.9,1084.1V1091.2M632.2,1084.1V1091.2M637.5,1084.1V1091.2M640.3,1084.1V1091.2M635.7,1084.1V1091.2M647.0,1084.1V1091.2M632.2,1084.1V1091.2M635.3,1084.1V1091.2M636.9,1084.1V1091.2M628.6,1084.1V1091.2M631.2,1084.1V1091.2M629.1,1084.1V1091.2M645.3,1084.1V1091.2M629.1,1084.1V1091.2M643.7,1084.1V1091.2M631.2,1084.1V1091.2M643.1,1084.1V1091.2M643.4,1084.1V1091.2M634.9,1084.1V1091.2M651.1,1084.1V1091.2M643.4,1084.1V1091.2M640.6,1084.1V1091.2M626.3,1084.1V1091.2M636.4,1084.1V1091.2M632.4,1084.1V1091.2M638.2,1084.1V1091.2M651.1,1084.1V1091.2M649.2,1084.1V1091.2M626.7,1084.1V1091.2M644.0,1084.1V1091.2M651.2,1084.1V1091.2M640.2,1084.1V1091.2M627.7,1084.1V1091.2M649.3,1084.1V1091.2M636.9,1084.1V1091.2M652.5,1084.1V1091.2M649.5,1084.1V1091.2M648.2,1084.1V1091.2M651.1,1084.1V1091.2M626.9,1084.1V1091.2M647.2,1084.1V1091.2M633.5,1084.1V1091.2M628.8,1084.1V1091.2M635.6,1084.1V1091.2M641.5,1084.1V1091.2M625.1,1084.1V1091.2M637.6,1084.1V1091.2M647.0,1084.1V1091.2M638.9,1084.1V1091.2M639.8,1084.1V1091.2M633.3,1084.1V1091.2M652.2,1084.1V1091.2M631.9,1084.1V1091.2M644.1,1084.1V1091.2M643.1,1084.1V1091.2M625.0,1084.1V1091.2M652.9,1084.1V1091.2M631.6,1084.1V1091.2M652.7,1084.1V1091.2M651.0,1084.1V1091.2M650.2,1084.1V1091.2M648.9,1084.1V1091.2M636.1,1084.1V1091.2M637.5,1084.1V1091.2M634.7,1084.1V1091.2M651.2,1084.1V1091.2M625.8,1084.1V1091.2M628.8,1084.1V1091.2M651.8,1084.1V1091.2M761.7,1084.1V1091.2M802.1,1084.1V1091.2M733.6,1084.1V1091.2M781.6,1084.1V1091.2M721.2,1084.1V1091.2M791.7,1084.1V1091.2M663.7,1084.1V1091.2M720.5,1084.1V1091.2M741.9,1084.1V1091.2M775.3,1084.1V1091.2M718.1,1084.1V1091.2M757.8,1084.1V1091.2M802.0,1084.1V1091.2M717.5,1084.1V1091.2M683.7,1084.1V1091.2M657.7,1084.1V1091.2M785.7,1084.1V1091.2M726.3,1084.1V1091.2M712.8,1084.1V1091.2M733.0,1084.1V1091.2M671.6,1084.1V1091.2M687.2,1084.1V1091.2M689.3,1084.1V1091.2M692.3,1084.1V1091.2M785.4,1084.1V1091.2M691.0,1084.1V1091.2M666.9,1084.1V1091.2M786.5,1084.1V1091.2M739.0,1084.1V1091.2M657.3,1084.1V1091.2M757.0,1084.1V1091.2M758.7,1084.1V1091.2M753.0,1084.1V1091.2M772.3,1084.1V1091.2M718.3,1084.1V1091.2M687.6,1084.1V1091.2M767.6,1084.1V1091.2M749.3,1084.1V1091.2M761.4,1084.1V1091.2M681.3,1084.1V1091.2M710.4,1084.1V1091.2M759.4,1084.1V1091.2M712.2,1084.1V1091.2M745.8,1084.1V1091.2M725.8,1084.1V1091.2M769.2,1084.1V1091.2M706.7,1084.1V1091.2M729.7,1084.1V1091.2M780.6,1084.1V1091.2M700.8,1084.1V1091.2M680.1,1084.1V1091.2M751.0,1084.1V1091.2M673.5,1084.1V1091.2M785.0,1084.1V1091.2M695.3,1084.1V1091.2M792.2,1084.1V1091.2M735.2,1084.1V1091.2M676.7,1084.1V1091.2M733.2,1084.1V1091.2M758.1,1084.1V1091.2M727.9,1084.1V1091.2M750.8,1084.1V1091.2M709.8,1084.1V1091.2M800.7,1084.1V1091.2M679.9,1084.1V1091.2M775.9,1084.1V1091.2M656.7,1084.1V1091.2M731.1,1084.1V1091.2M663.2,1084.1V1091.2M673.3,1084.1V1091.2M743.6,1084.1V1091.2M792.3,1084.1V1091.2M700.6,1084.1V1091.2M715.0,1084.1V1091.2M726.3,1084.1V1091.2M746.2,1084.1V1091.2M706.9,1084.1V1091.2M707.1,1084.1V1091.2M784.4,1084.1V1091.2M738.6,1084.1V1091.2M707.3,1084.1V1091.2M779.0,1084.1V1091.2M806.8,1084.1V1091.2M719.6,1084.1V1091.2M655.3,1084.1V1091.2M700.0,1084.1V1091.2M791.3,1084.1V1091.2M679.5,1084.1V1091.2M683.6,1084.1V1091.2M775.0,1084.1V1091.2M670.6,1084.1V1091.2M783.8,1084.1V1091.2M687.8,1084.1V1091.2M712.7,1084.1V1091.2M744.5,1084.1V1091.2M670.3,1084.1V1091.2M772.3,1084.1V1091.2M720.5,1084.1V1091.2M771.6,1084.1V1091.2M770.7,1084.1V1091.2M664.8,1084.1V1091.2M779.7,1084.1V1091.2M779.4,1084.1V1091.2M690.2,1084.1V1091.2M744.1,1084.1V1091.2M684.7,1084.1V1091.2M735.9,1084.1V1091.2M768.8,1084.1V1091.2M711.0,1084.1V1091.2M735.1,1084.1V1091.2M673.2,1084.1V1091.2M785.9,1084.1V1091.2M749.5,1084.1V1091.2M780.9,1084.1V1091.2M665.4,1084.1V1091.2M767.8,1084.1V1091.2M666.9,1084.1V1091.2M738.7,1084.1V1091.2M688.5,1084.1V1091.2M791.8,1084.1V1091.2M669.4,1084.1V1091.2M725.8,1084.1V1091.2M725.5,1084.1V1091.2M712.4,1084.1V1091.2M662.9,1084.1V1091.2M755.6,1084.1V1091.2M802.7,1084.1V1091.2M708.6,1084.1V1091.2M791.4,1084.1V1091.2M705.2,1084.1V1091.2M695.1,1084.1V1091.2M723.0,1084.1V1091.2M802.8,1084.1V1091.2M773.0,1084.1V1091.2M750.4,1084.1V1091.2M659.1,1084.1V1091.2M722.5,1084.1V1091.2M655.3,1084.1V1091.2M662.6,1084.1V1091.2M711.0,1084.1V1091.2M690.6,1084.1V1091.2M669.0,1084.1V1091.2M731.8,1084.1V1091.2M773.5,1084.1V1091.2M795.6,1084.1V1091.2M794.1,1084.1V1091.2M718.6,1084.1V1091.2M680.5,1084.1V1091.2M801.4,1084.1V1091.2M718.2,1084.1V1091.2M705.8,1084.1V1091.2M779.9,1084.1V1091.2M738.9,1084.1V1091.2M799.7,1084.1V1091.2M761.0,1084.1V1091.2M798.7,1084.1V1091.2M676.6,1084.1V1091.2M798.3,1084.1V1091.2M736.4,1084.1V1091.2M760.3,1084.1V1091.2M699.3,1084.1V1091.2M690.6,1084.1V1091.2M698.7,1084.1V1091.2M679.2,1084.1V1091.2M800.9,1084.1V1091.2M671.4,1084.1V1091.2M690.4,1084.1V1091.2M750.6,1084.1V1091.2M684.5,1084.1V1091.2M685.9,1084.1V1091.2M692.0,1084.1V1091.2M689.1,1084.1V1091.2M654.6,1084.1V1091.2M767.0,1084.1V1091.2M754.5,1084.1V1091.2M700.8,1084.1V1091.2M791.5,1084.1V1091.2M739.1,1084.1V1091.2M686.9,1084.1V1091.2M801.6,1084.1V1091.2M688.4,1084.1V1091.2M777.7,1084.1V1091.2M778.7,1084.1V1091.2M653.4,1084.1V1091.2M783.4,1084.1V1091.2M717.8,1084.1V1091.2M730.3,1084.1V1091.2M798.7,1084.1V1091.2M722.5,1084.1V1091.2M690.2,1084.1V1091.2M660.6,1084.1V1091.2M789.4,1084.1V1091.2M723.1,1084.1V1091.2M762.5,1084.1V1091.2M751.7,1084.1V1091.2M803.9,1084.1V1091.2M797.2,1084.1V1091.2M797.1,1084.1V1091.2M730.7,1084.1V1091.2M793.2,1084.1V1091.2M700.2,1084.1V1091.2M672.1,1084.1V1091.2M751.5,1084.1V1091.2M657.4,1084.1V1091.2M802.7,1084.1V1091.2M703.0,1084.1V1091.2M718.3,1084.1V1091.2M697.8,1084.1V1091.2M702.7,1084.1V1091.2M735.8,1084.1V1091.2M776.4,1084.1V1091.2M655.2,1084.1V1091.2M705.8,1084.1V1091.2M691.0,1084.1V1091.2M800.6,1084.1V1091.2M720.6,1084.1V1091.2M721.4,1084.1V1091.2M797.3,1084.1V1091.2M712.6,1084.1V1091.2M712.2,1084.1V1091.2M714.5,1084.1V1091.2M689.5,1084.1V1091.2M761.4,1084.1V1091.2M697.2,1084.1V1091.2M731.5,1084.1V1091.2M741.0,1084.1V1091.2M771.1,1084.1V1091.2M767.0,1084.1V1091.2M727.1,1084.1V1091.2M799.3,1084.1V1091.2M798.6,1084.1V1091.2M797.4,1084.1V1091.2M763.0,1084.1V1091.2M723.0,1084.1V1091.2M708.4,1084.1V1091.2M785.5,1084.1V1091.2M725.9,1084.1V1091.2M768.2,1084.1V1091.2M712.7,1084.1V1091.2M709.3,1084.1V1091.2M655.8,1084.1V1091.2M765.4,1084.1V1091.2M697.6,1084.1V1091.2M729.1,1084.1V1091.2M764.8,1084.1V1091.2M781.1,1084.1V1091.2M798.5,1084.1V1091.2M755.2,1084.1V1091.2M688.9,1084.1V1091.2M796.0,1084.1V1091.2M661.4,1084.1V1091.2M716.5,1084.1V1091.2M795.5,1084.1V1091.2M783.2,1084.1V1091.2M744.6,1084.1V1091.2M786.7,1084.1V1091.2M680.3,1084.1V1091.2M659.1,1084.1V1091.2M698.7,1084.1V1091.2M796.3,1084.1V1091.2M659.1,1084.1V1091.2M703.1,1084.1V1091.2M731.2,1084.1V1091.2M684.7,1084.1V1091.2M787.2,1084.1V1091.2M669.4,1084.1V1091.2M666.2,1084.1V1091.2M806.6,1084.1V1091.2M654.9,1084.1V1091.2M687.3,1084.1V1091.2M715.9,1084.1V1091.2M788.6,1084.1V1091.2M704.7,1084.1V1091.2M740.8,1084.1V1091.2M776.9,1084.1V1091.2M748.2,1084.1V1091.2M781.0,1084.1V1091.2M655.5,1084.1V1091.2M736.4,1084.1V1091.2M656.2,1084.1V1091.2M784.3,1084.1V1091.2M656.9,1084.1V1091.2M667.6,1084.1V1091.2M719.1,1084.1V1091.2M748.6,1084.1V1091.2M655.1,1084.1V1091.2M751.5,1084.1V1091.2M668.8,1084.1V1091.2M702.8,1084.1V1091.2M659.5,1084.1V1091.2M765.0,1084.1V1091.2M781.0,1084.1V1091.2M771.6,1084.1V1091.2M702.6,1084.1V1091.2M691.5,1084.1V1091.2M801.2,1084.1V1091.2M778.8,1084.1V1091.2M802.2,1084.1V1091.2M716.9,1084.1V1091.2M788.5,1084.1V1091.2M757.3,1084.1V1091.2M774.0,1084.1V1091.2M731.9,1084.1V1091.2M773.8,1084.1V1091.2M729.8,1084.1V1091.2M695.0,1084.1V1091.2M726.6,1084.1V1091.2M659.3,1084.1V1091.2M756.7,1084.1V1091.2M704.6,1084.1V1091.2M680.8,1084.1V1091.2M775.1,1084.1V1091.2M734.0,1084.1V1091.2M701.7,1084.1V1091.2M795.1,1084.1V1091.2M797.4,1084.1V1091.2M718.5,1084.1V1091.2M737.2,1084.1V1091.2M653.0,1084.1V1091.2M707.9,1084.1V1091.2M805.1,1084.1V1091.2M731.6,1084.1V1091.2M806.0,1084.1V1091.2M657.4,1084.1V1091.2M655.7,1084.1V1091.2M662.5,1084.1V1091.2M664.6,1084.1V1091.2M769.3,1084.1V1091.2M805.2,1084.1V1091.2M770.2,1084.1V1091.2M746.2,1084.1V1091.2M711.7,1084.1V1091.2M711.8,1084.1V1091.2M673.1,1084.1V1091.2M714.1,1084.1V1091.2M671.7,1084.1V1091.2M777.7,1084.1V1091.2M735.9,1084.1V1091.2M711.1,1084.1V1091.2M784.2,1084.1V1091.2M699.2,1084.1V1091.2M787.3,1084.1V1091.2M763.5,1084.1V1091.2M749.7,1084.1V1091.2M744.6,1084.1V1091.2M750.5,1084.1V1091.2M792.0,1084.1V1091.2M806.3,1084.1V1091.2M739.0,1084.1V1091.2M800.9,1084.1V1091.2M690.7,1084.1V1091.2M795.7,1084.1V1091.2M789.0,1084.1V1091.2M751.0,1084.1V1091.2M670.0,1084.1V1091.2M789.7,1084.1V1091.2M711.3,1084.1V1091.2M704.3,1084.1V1091.2M799.5,1084.1V1091.2M666.5,1084.1V1091.2M752.3,1084.1V1091.2M687.9,1084.1V1091.2M786.9,1084.1V1091.2M686.3,1084.1V1091.2M669.4,1084.1V1091.2M728.0,1084.1V1091.2M723.4,1084.1V1091.2M768.8,1084.1V1091.2M696.2,1084.1V1091.2M698.0,1084.1V1091.2M698.2,1084.1V1091.2M737.8,1084.1V1091.2M673.3,1084.1V1091.2M739.4,1084.1V1091.2M779.3,1084.1V1091.2M758.9,1084.1V1091.2M692.4,1084.1V1091.2M727.0,1084.1V1091.2M667.5,1084.1V1091.2M725.6,1084.1V1091.2M770.1,1084.1V1091.2M653.1,1084.1V1091.2M752.6,1084.1V1091.2M794.9,1084.1V1091.2M696.1,1084.1V1091.2M702.1,1084.1V1091.2M757.9,1084.1V1091.2M677.0,1084.1V1091.2M694.5,1084.1V1091.2M748.1,1084.1V1091.2M732.8,1084.1V1091.2M678.8,1084.1V1091.2M683.5,1084.1V1091.2M728.6,1084.1V1091.2M786.6,1084.1V1091.2M683.9,1084.1V1091.2M758.5,1084.1V1091.2M734.8,1084.1V1091.2M695.8,1084.1V1091.2M716.6,1084.1V1091.2M779.5,1084.1V1091.2M668.8,1084.1V1091.2M737.2,1084.1V1091.2M726.7,1084.1V1091.2M670.0,1084.1V1091.2M716.8,1084.1V1091.2M679.2,1084.1V1091.2M715.2,1084.1V1091.2M657.6,1084.1V1091.2M740.3,1084.1V1091.2M776.9,1084.1V1091.2M787.6,1084.1V1091.2M796.7,1084.1V1091.2M691.8,1084.1V1091.2M776.2,1084.1V1091.2M708.2,1084.1V1091.2M763.1,1084.1V1091.2M725.6,1084.1V1091.2M767.4,1084.1V1091.2M714.6,1084.1V1091.2M800.7,1084.1V1091.2M724.8,1084.1V1091.2M776.0,1084.1V1091.2M680.7,1084.1V1091.2M765.1,1084.1V1091.2M685.4,1084.1V1091.2M715.9,1084.1V1091.2M711.5,1084.1V1091.2M755.5,1084.1V1091.2M741.9,1084.1V1091.2M695.4,1084.1V1091.2M796.7,1084.1V1091.2M659.2,1084.1V1091.2M726.4,1084.1V1091.2M673.1,1084.1V1091.2M669.7,1084.1V1091.2M686.7,1084.1V1091.2M798.5,1084.1V1091.2M656.4,1084.1V1091.2M763.8,1084.1V1091.2M742.0,1084.1V1091.2M781.8,1084.1V1091.2M784.0,1084.1V1091.2M671.9,1084.1V1091.2M795.3,1084.1V1091.2M674.8,1084.1V1091.2M671.5,1084.1V1091.2M689.6,1084.1V1091.2M760.6,1084.1V1091.2M741.6,1084.1V1091.2M759.2,1084.1V1091.2M686.2,1084.1V1091.2M726.1,1084.1V1091.2M703.2,1084.1V1091.2M801.2,1084.1V1091.2M740.5,1084.1V1091.2M760.7,1084.1V1091.2M722.0,1084.1V1091.2M670.8,1084.1V1091.2M667.9,1084.1V1091.2M687.7,1084.1V1091.2M766.4,1084.1V1091.2M684.2,1084.1V1091.2M726.9,1084.1V1091.2M705.6,1084.1V1091.2M673.4,1084.1V1091.2M710.0,1084.1V1091.2M728.5,1084.1V1091.2M794.3,1084.1V1091.2M773.1,1084.1V1091.2M719.9,1084.1V1091.2M698.1,1084.1V1091.2M689.8,1084.1V1091.2M707.2,1084.1V1091.2M734.8,1084.1V1091.2M802.5,1084.1V1091.2M664.5,1084.1V1091.2M682.4,1084.1V1091.2M714.1,1084.1V1091.2M740.0,1084.1V1091.2M663.3,1084.1V1091.2M656.3,1084.1V1091.2M738.2,1084.1V1091.2M655.6,1084.1V1091.2M779.8,1084.1V1091.2M756.3,1084.1V1091.2M725.1,1084.1V1091.2M806.6,1084.1V1091.2M727.4,1084.1V1091.2M798.5,1084.1V1091.2M686.7,1084.1V1091.2M665.0,1084.1V1091.2M717.2,1084.1V1091.2M734.7,1084.1V1091.2M755.5,1084.1V1091.2M672.4,1084.1V1091.2M762.2,1084.1V1091.2M698.0,1084.1V1091.2M798.6,1084.1V1091.2M775.7,1084.1V1091.2M772.1,1084.1V1091.2M659.9,1084.1V1091.2M662.1,1084.1V1091.2M658.0,1084.1V1091.2M721.1,1084.1V1091.2M658.3,1084.1V1091.2M675.0,1084.1V1091.2M661.9,1084.1V1091.2M806.1,1084.1V1091.2M724.8,1084.1V1091.2M693.2,1084.1V1091.2M676.1,1084.1V1091.2M696.1,1084.1V1091.2M669.5,1084.1V1091.2M775.7,1084.1V1091.2M795.2,1084.1V1091.2M778.5,1084.1V1091.2M664.7,1084.1V1091.2M746.4,1084.1V1091.2M784.5,1084.1V1091.2M713.8,1084.1V1091.2M773.1,1084.1V1091.2M654.9,1084.1V1091.2M732.9,1084.1V1091.2M767.5,1084.1V1091.2M719.1,1084.1V1091.2M668.4,1084.1V1091.2M802.5,1084.1V1091.2M778.0,1084.1V1091.2M696.8,1084.1V1091.2M765.4,1084.1V1091.2M678.8,1084.1V1091.2M747.8,1084.1V1091.2M762.6,1084.1V1091.2M745.3,1084.1V1091.2M720.5,1084.1V1091.2M780.1,1084.1V1091.2M716.5,1084.1V1091.2M663.9,1084.1V1091.2M676.6,1084.1V1091.2M676.0,1084.1V1091.2M773.0,1084.1V1091.2M662.9,1084.1V1091.2M801.7,1084.1V1091.2M741.8,1084.1V1091.2M663.8,1084.1V1091.2M798.5,1084.1V1091.2M805.4,1084.1V1091.2M689.0,1084.1V1091.2M739.6,1084.1V1091.2M688.8,1084.1V1091.2M673.8,1084.1V1091.2M664.7,1084.1V1091.2M789.4,1084.1V1091.2M687.2,1084.1V1091.2M684.3,1084.1V1091.2M680.1,1084.1V1091.2M696.8,1084.1V1091.2M798.6,1084.1V1091.2M685.3,1084.1V1091.2M681.3,1084.1V1091.2M661.8,1084.1V1091.2M761.9,1084.1V1091.2M669.1,1084.1V1091.2M779.2,1084.1V1091.2M797.8,1084.1V1091.2M695.6,1084.1V1091.2M725.0,1084.1V1091.2M776.6,1084.1V1091.2M728.1,1084.1V1091.2M701.8,1084.1V1091.2M794.0,1084.1V1091.2M806.9,1084.1V1091.2M689.6,1084.1V1091.2M782.9,1084.1V1091.2M658.8,1084.1V1091.2M780.1,1084.1V1091.2M706.1,1084.1V1091.2M805.0,1084.1V1091.2M657.0,1084.1V1091.2M685.2,1084.1V1091.2M715.3,1084.1V1091.2M730.7,1084.1V1091.2M772.2,1084.1V1091.2M673.4,1084.1V1091.2M662.0,1084.1V1091.2M690.2,1084.1V1091.2M668.4,1084.1V1091.2M798.8,1084.1V1091.2M732.4,1084.1V1091.2M684.1,1084.1V1091.2M702.6,1084.1V1091.2M693.7,1084.1V1091.2M722.6,1084.1V1091.2M702.6,1084.1V1091.2M749.5,1084.1V1091.2M686.2,1084.1V1091.2M758.6,1084.1V1091.2M793.8,1084.1V1091.2M769.0,1084.1V1091.2M665.5,1084.1V1091.2M727.0,1084.1V1091.2M779.3,1084.1V1091.2M663.8,1084.1V1091.2M797.6,1084.1V1091.2M669.9,1084.1V1091.2M669.4,1084.1V1091.2M654.3,1084.1V1091.2M785.3,1084.1V1091.2M657.2,1084.1V1091.2M725.4,1084.1V1091.2M743.8,1084.1V1091.2M727.5,1084.1V1091.2M806.2,1084.1V1091.2M745.1,1084.1V1091.2M653.7,1084.1V1091.2M714.0,1084.1V1091.2M677.4,1084.1V1091.2M790.3,1084.1V1091.2M688.1,1084.1V1091.2M755.1,1084.1V1091.2M721.2,1084.1V1091.2M720.3,1084.1V1091.2M735.8,1084.1V1091.2M692.2,1084.1V1091.2M752.4,1084.1V1091.2M745.4,1084.1V1091.2M777.9,1084.1V1091.2M778.6,1084.1V1091.2M668.0,1084.1V1091.2M779.2,1084.1V1091.2M702.5,1084.1V1091.2M802.8,1084.1V1091.2M741.2,1084.1V1091.2M683.3,1084.1V1091.2M733.0,1084.1V1091.2M736.9,1084.1V1091.2M731.6,1084.1V1091.2M712.4,1084.1V1091.2M743.1,1084.1V1091.2M736.2,1084.1V1091.2M775.6,1084.1V1091.2M705.8,1084.1V1091.2M723.2,1084.1V1091.2M654.6,1084.1V1091.2M767.9,1084.1V1091.2M661.9,1084.1V1091.2M787.6,1084.1V1091.2M732.7,1084.1V1091.2M740.9,1084.1V1091.2M712.7,1084.1V1091.2M738.0,1084.1V1091.2M668.3,1084.1V1091.2M677.1,1084.1V1091.2M735.3,1084.1V1091.2M699.1,1084.1V1091.2M730.6,1084.1V1091.2M729.1,1084.1V1091.2M803.7,1084.1V1091.2M753.0,1084.1V1091.2M655.9,1084.1V1091.2M755.1,1084.1V1091.2M702.1,1084.1V1091.2M681.1,1084.1V1091.2M709.1,1084.1V1091.2M790.8,1084.1V1091.2M774.9,1084.1V1091.2M723.6,1084.1V1091.2M785.6,1084.1V1091.2M732.5,1084.1V1091.2M675.9,1084.1V1091.2M762.0,1084.1V1091.2M785.9,1084.1V1091.2M757.7,1084.1V1091.2M698.3,1084.1V1091.2M726.4,1084.1V1091.2M673.0,1084.1V1091.2M690.9,1084.1V1091.2M663.1,1084.1V1091.2M801.6,1084.1V1091.2M764.0,1084.1V1091.2M727.6,1084.1V1091.2M758.3,1084.1V1091.2M760.1,1084.1V1091.2M725.5,1084.1V1091.2M691.8,1084.1V1091.2M728.9,1084.1V1091.2M736.2,1084.1V1091.2M711.5,1084.1V1091.2M687.6,1084.1V1091.2M742.9,1084.1V1091.2M753.1,1084.1V1091.2M688.6,1084.1V1091.2M672.8,1084.1V1091.2M769.3,1084.1V1091.2M804.7,1084.1V1091.2M765.4,1084.1V1091.2M779.5,1084.1V1091.2M764.7,1084.1V1091.2M712.9,1084.1V1091.2M742.5,1084.1V1091.2M723.9,1084.1V1091.2M803.5,1084.1V1091.2M670.1,1084.1V1091.2M806.1,1084.1V1091.2M673.0,1084.1V1091.2M700.1,1084.1V1091.2M741.0,1084.1V1091.2M798.1,1084.1V1091.2M788.4,1084.1V1091.2M770.1,1084.1V1091.2M751.9,1084.1V1091.2M769.0,1084.1V1091.2M700.2,1084.1V1091.2M660.0,1084.1V1091.2M743.7,1084.1V1091.2M686.4,1084.1V1091.2M723.1,1084.1V1091.2M771.3,1084.1V1091.2M803.7,1084.1V1091.2M672.8,1084.1V1091.2M795.0,1084.1V1091.2M688.8,1084.1V1091.2M732.7,1084.1V1091.2M776.3,1084.1V1091.2M757.6,1084.1V1091.2M711.6,1084.1V1091.2M790.6,1084.1V1091.2M679.3,1084.1V1091.2M779.9,1084.1V1091.2M804.9,1084.1V1091.2M782.8,1084.1V1091.2M670.7,1084.1V1091.2M712.8,1084.1V1091.2M668.2,1084.1V1091.2M706.3,1084.1V1091.2M714.5,1084.1V1091.2M677.5,1084.1V1091.2M724.0,1084.1V1091.2M781.4,1084.1V1091.2M755.0,1084.1V1091.2M699.3,1084.1V1091.2M671.4,1084.1V1091.2M670.4,1084.1V1091.2M778.3,1084.1V1091.2M692.8,1084.1V1091.2M738.8,1084.1V1091.2M682.7,1084.1V1091.2M760.7,1084.1V1091.2M666.1,1084.1V1091.2M725.7,1084.1V1091.2M720.6,1084.1V1091.2M731.8,1084.1V1091.2M685.2,1084.1V1091.2M758.3,1084.1V1091.2M800.7,1084.1V1091.2M685.4,1084.1V1091.2M664.3,1084.1V1091.2M695.8,1084.1V1091.2M705.3,1084.1V1091.2M786.1,1084.1V1091.2M658.1,1084.1V1091.2M659.6,1084.1V1091.2M735.1,1084.1V1091.2M725.0,1084.1V1091.2M685.8,1084.1V1091.2M758.6,1084.1V1091.2M713.9,1084.1V1091.2M802.1,1084.1V1091.2M686.5,1084.1V1091.2M733.8,1084.1V1091.2M672.6,1084.1V1091.2M668.8,1084.1V1091.2M800.0,1084.1V1091.2M789.4,1084.1V1091.2M767.8,1084.1V1091.2M730.4,1084.1V1091.2M756.4,1084.1V1091.2M687.8,1084.1V1091.2M681.3,1084.1V1091.2M686.6,1084.1V1091.2M694.3,1084.1V1091.2M714.2,1084.1V1091.2M730.4,1084.1V1091.2M694.5,1084.1V1091.2M707.2,1084.1V1091.2M776.1,1084.1V1091.2M776.0,1084.1V1091.2M691.8,1084.1V1091.2M739.8,1084.1V1091.2M669.5,1084.1V1091.2M749.7,1084.1V1091.2M748.6,1084.1V1091.2M680.7,1084.1V1091.2M782.7,1084.1V1091.2M747.1,1084.1V1091.2M801.9,1084.1V1091.2M694.3,1084.1V1091.2M676.5,1084.1V1091.2M772.7,1084.1V1091.2M768.5,1084.1V1091.2M688.5,1084.1V1091.2M721.1,1084.1V1091.2M680.0,1084.1V1091.2M724.4,1084.1V1091.2M804.0,1084.1V1091.2M693.6,1084.1V1091.2M708.3,1084.1V1091.2M786.4,1084.1V1091.2M805.0,1084.1V1091.2M732.2,1084.1V1091.2M738.0,1084.1V1091.2M730.9,1084.1V1091.2M761.3,1084.1V1091.2M793.2,1084.1V1091.2M794.2,1084.1V1091.2M740.1,1084.1V1091.2M724.0,1084.1V1091.2M784.4,1084.1V1091.2M757.0,1084.1V1091.2M805.6,1084.1V1091.2M668.8,1084.1V1091.2M766.4,1084.1V1091.2M776.2,1084.1V1091.2M707.2,1084.1V1091.2M654.5,1084.1V1091.2M704.8,1084.1V1091.2M802.7,1084.1V1091.2M770.0,1084.1V1091.2M705.2,1084.1V1091.2M783.9,1084.1V1091.2M666.2,1084.1V1091.2M766.6,1084.1V1091.2M738.1,1084.1V1091.2M804.8,1084.1V1091.2M698.4,1084.1V1091.2M706.5,1084.1V1091.2M707.3,1084.1V1091.2M720.6,1084.1V1091.2M724.2,1084.1V1091.2M682.6,1084.1V1091.2M721.8,1084.1V1091.2M661.2,1084.1V1091.2M749.4,1084.1V1091.2M781.7,1084.1V1091.2M702.9,1084.1V1091.2M722.3,1084.1V1091.2M802.0,1084.1V1091.2M781.8,1084.1V1091.2M758.9,1084.1V1091.2M741.9,1084.1V1091.2M801.8,1084.1V1091.2M726.0,1084.1V1091.2M748.3,1084.1V1091.2M789.1,1084.1V1091.2M708.2,1084.1V1091.2M719.0,1084.1V1091.2M754.7,1084.1V1091.2M763.0,1084.1V1091.2M760.9,1084.1V1091.2M715.7,1084.1V1091.2M696.0,1084.1V1091.2M771.4,1084.1V1091.2M764.0,1084.1V1091.2M733.1,1084.1V1091.2M692.6,1084.1V1091.2M664.0,1084.1V1091.2M732.7,1084.1V1091.2M792.9,1084.1V1091.2M786.6,1084.1V1091.2M767.8,1084.1V1091.2M718.2,1084.1V1091.2M786.8,1084.1V1091.2M788.6,1084.1V1091.2M700.3,1084.1V1091.2M735.5,1084.1V1091.2M709.1,1084.1V1091.2M682.8,1084.1V1091.2M728.4,1084.1V1091.2M687.5,1084.1V1091.2M798.9,1084.1V1091.2M803.6,1084.1V1091.2M692.7,1084.1V1091.2M678.7,1084.1V1091.2M683.4,1084.1V1091.2M794.4,1084.1V1091.2M703.7,1084.1V1091.2M779.9,1084.1V1091.2M806.4,1084.1V1091.2M706.1,1084.1V1091.2M782.9,1084.1V1091.2M669.1,1084.1V1091.2M659.7,1084.1V1091.2M756.8,1084.1V1091.2M700.8,1084.1V1091.2M688.6,1084.1V1091.2M731.0,1084.1V1091.2M775.1,1084.1V1091.2M721.1,1084.1V1091.2M737.8,1084.1V1091.2M769.8,1084.1V1091.2M667.3,1084.1V1091.2M731.3,1084.1V1091.2M658.8,1084.1V1091.2M684.3,1084.1V1091.2M672.1,1084.1V1091.2M680.6,1084.1V1091.2M794.9,1084.1V1091.2M655.8,1084.1V1091.2M727.7,1084.1V1091.2M664.7,1084.1V1091.2M654.6,1084.1V1091.2M795.7,1084.1V1091.2M730.5,1084.1V1091.2M785.1,1084.1V1091.2M749.9,1084.1V1091.2M741.5,1084.1V1091.2M771.2,1084.1V1091.2M653.8,1084.1V1091.2M685.1,1084.1V1091.2M757.6,1084.1V1091.2M805.9,1084.1V1091.2M682.6,1084.1V1091.2M714.0,1084.1V1091.2M757.8,1084.1V1091.2M741.1,1084.1V1091.2M765.8,1084.1V1091.2M660.2,1084.1V1091.2M690.4,1084.1V1091.2M757.0,1084.1V1091.2M767.3,1084.1V1091.2M755.1,1084.1V1091.2M776.9,1084.1V1091.2M776.6,1084.1V1091.2M653.1,1084.1V1091.2M699.9,1084.1V1091.2M664.0,1084.1V1091.2M672.0,1084.1V1091.2M764.7,1084.1V1091.2M712.6,1084.1V1091.2M788.7,1084.1V1091.2M657.2,1084.1V1091.2M723.0,1084.1V1091.2M803.3,1084.1V1091.2M709.3,1084.1V1091.2M758.2,1084.1V1091.2M786.8,1084.1V1091.2M776.8,1084.1V1091.2M702.9,1084.1V1091.2M721.8,1084.1V1091.2M771.8,1084.1V1091.2M734.7,1084.1V1091.2M718.6,1084.1V1091.2M798.7,1084.1V1091.2M692.4,1084.1V1091.2M760.2,1084.1V1091.2M707.6,1084.1V1091.2M749.4,1084.1V1091.2M769.5,1084.1V1091.2M789.9,1084.1V1091.2M776.8,1084.1V1091.2M730.3,1084.1V1091.2M742.3,1084.1V1091.2M758.9,1084.1V1091.2M769.0,1084.1V1091.2M795.1,1084.1V1091.2M655.5,1084.1V1091.2M656.5,1084.1V1091.2M800.9,1084.1V1091.2M751.7,1084.1V1091.2M667.7,1084.1V1091.2M699.4,1084.1V1091.2M674.6,1084.1V1091.2M701.2,1084.1V1091.2M674.7,1084.1V1091.2M764.9,1084.1V1091.2M676.2,1084.1V1091.2M723.0,1084.1V1091.2M661.8,1084.1V1091.2M713.9,1084.1V1091.2M693.0,1084.1V1091.2M736.0,1084.1V1091.2M693.7,1084.1V1091.2M686.3,1084.1V1091.2M707.2,1084.1V1091.2M819.9,1084.1V1091.2M809.1,1084.1V1091.2M816.6,1084.1V1091.2M807.7,1084.1V1091.2M811.1,1084.1V1091.2M817.1,1084.1V1091.2M816.5,1084.1V1091.2M816.0,1084.1V1091.2M813.4,1084.1V1091.2M812.8,1084.1V1091.2M807.7,1084.1V1091.2M815.6,1084.1V1091.2M815.3,1084.1V1091.2M811.8,1084.1V1091.2M808.9,1084.1V1091.2M810.4,1084.1V1091.2M817.5,1084.1V1091.2M808.2,1084.1V1091.2M814.8,1084.1V1091.2M817.0,1084.1V1091.2M816.7,1084.1V1091.2M811.8,1084.1V1091.2M815.9,1084.1V1091.2M809.8,1084.1V1091.2M810.5,1084.1V1091.2M815.3,1084.1V1091.2M808.4,1084.1V1091.2M813.7,1084.1V1091.2M815.9,1084.1V1091.2M807.5,1084.1V1091.2M807.6,1084.1V1091.2M831.1,1084.1V1091.2M833.6,1084.1V1091.2M821.6,1084.1V1091.2M831.8,1084.1V1091.2M827.9,1084.1V1091.2M827.8,1084.1V1091.2M822.5,1084.1V1091.2M825.1,1084.1V1091.2M822.7,1084.1V1091.2M820.3,1084.1V1091.2M829.8,1084.1V1091.2M821.4,1084.1V1091.2M821.2,1084.1V1091.2M831.0,1084.1V1091.2" stroke="#111" stroke-width="0.5"/>
<rect x="521.6" y="859" width="326" height="232.2" fill="none" stroke="#6a6a6a" stroke-width="1.2"/>
<path d="M521.6,897.5H516.1M521.6,951.3H516.1M521.6,1005.8H516.1M521.6,1059.8H516.1M563.1,1091.2V1095.7M623.4,1091.2V1095.7M683.6,1091.2V1095.7M743.9,1091.2V1095.7M804.1,1091.2V1095.7" stroke="#6a6a6a" stroke-width="1.2" fill="none"/>
<g font-family="Liberation Serif, serif" font-size="19.5" fill="#1a1a1a">
<text x="509.1" y="904.1" text-anchor="end">50</text>
<text x="509.1" y="957.9" text-anchor="end">0</text>
<text x="509.1" y="1012.4" text-anchor="end">–50</text>
<text x="509.1" y="1066.4" text-anchor="end">–100</text>
<text x="563.1" y="1116.1" text-anchor="middle">22</text>
<text x="623.4" y="1116.1" text-anchor="middle">24</text>
<text x="683.6" y="1116.1" text-anchor="middle">26</text>
<text x="743.9" y="1116.1" text-anchor="middle">28</text>
<text x="804.1" y="1116.1" text-anchor="middle">30</text>
<text x="683" y="1142.5" text-anchor="middle">SST</text>
<text x="462.5" y="867.3">(<tspan font-style="italic">e</tspan>)</text>
</g></g>
</svg></body></html>
